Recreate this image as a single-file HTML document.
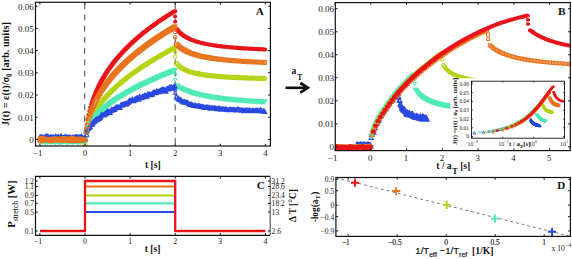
<!DOCTYPE html>
<html><head><meta charset="utf-8"><style>html,body{margin:0;padding:0;background:#fff;}svg{display:block;}</style></head><body>
<svg width="572" height="259" viewBox="0 0 572 259">
<rect width="572" height="259" fill="#fff"/>
<clipPath id="cA"><rect x="35.5" y="2.3" width="234.9" height="143.7"/></clipPath>
<g clip-path="url(#cA)">
<path d="M84.7 2.4V146M175.2 2.4V146" stroke="#444" stroke-width="1" stroke-dasharray="6 5.25" stroke-dashoffset="-0.7"/>
<path d="M39.3 140.84h1.2M39.75 140.09h1.2M40.2 139.9h1.2M40.65 138.81h1.2M41.1 139.69h1.2M41.55 139.65h1.2M42.01 139.8h1.2M42.46 139.5h1.2M42.91 139.82h1.2M43.36 139.58h1.2M43.81 139.11h1.2M44.26 140.33h1.2M44.71 140.33h1.2M45.16 140.79h1.2M45.61 139.87h1.2M46.07 139.62h1.2M46.52 139.54h1.2M46.97 138.99h1.2M47.42 140.39h1.2M47.87 139.23h1.2M48.32 139.19h1.2M48.77 139.73h1.2M49.22 140.67h1.2M49.67 139.98h1.2M50.12 139.28h1.2M50.58 139.45h1.2M51.03 140.19h1.2M51.48 139.75h1.2M51.93 139.42h1.2M52.38 139.72h1.2M52.83 140.26h1.2M53.28 140.94h1.2M53.73 139.15h1.2M54.18 139.5h1.2M54.63 139.4h1.2M55.09 138.5h1.2M55.54 139.33h1.2M55.99 139.28h1.2M56.44 140.47h1.2M56.89 139.77h1.2M57.34 138.94h1.2M57.79 140.2h1.2M58.24 139.65h1.2M58.69 138.88h1.2M59.14 139.51h1.2M59.6 139.52h1.2M60.05 139.36h1.2M60.5 139.86h1.2M60.95 138.6h1.2M61.4 139.7h1.2M61.85 140.41h1.2M62.3 140.32h1.2M62.75 140.46h1.2M63.2 140.47h1.2M63.65 140.67h1.2M64.11 139.22h1.2M64.56 140.31h1.2M65.01 138.81h1.2M65.46 139.51h1.2M65.91 138.78h1.2M66.36 140.43h1.2M66.81 140.58h1.2M67.26 139.73h1.2M67.71 140.83h1.2M68.16 139.47h1.2M68.62 139.93h1.2M69.07 139.93h1.2M69.52 139.25h1.2M69.97 140.09h1.2M70.42 140.92h1.2M70.87 139.28h1.2M71.32 140.34h1.2M71.77 139.76h1.2M72.22 140.83h1.2M72.67 140.11h1.2M73.13 140.22h1.2M73.58 140.2h1.2M74.03 139.98h1.2M74.48 139.07h1.2M74.93 140.62h1.2M75.38 139.08h1.2M75.83 139.98h1.2M76.28 140.18h1.2M76.73 139.38h1.2M77.18 139.92h1.2M77.64 140.49h1.2M78.09 139.83h1.2M78.54 139.35h1.2M78.99 138.23h1.2M79.44 139.3h1.2M79.89 139.52h1.2M80.34 139.56h1.2M80.79 139.31h1.2M81.24 140.05h1.2M81.69 139.53h1.2M82.15 139.78h1.2M82.6 140.22h1.2M83.05 139.37h1.2M83.5 139.68h1.2M83.95 141.04h1.2M84.4 169.87h1.2M85.75 132.08h1.2M86.66 124.86h1.2M87.56 119.37h1.2M88.46 114.84h1.2M89.36 110.93h1.2M90.26 107.47h1.2M91.17 104.34h1.2M92.07 101.47h1.2M92.97 98.82h1.2M93.87 96.35h1.2M94.77 94.02h1.2M95.68 91.83h1.2M96.58 89.75h1.2M97.48 87.76h1.2M98.38 85.87h1.2M99.28 84.06h1.2M100.19 82.31h1.2M101.09 80.63h1.2M101.99 79.01h1.2M102.89 77.44h1.2M103.79 75.92h1.2M104.7 74.45h1.2M105.6 73.02h1.2M106.5 71.63h1.2M107.4 70.28h1.2M108.3 68.96h1.2M109.21 67.67h1.2M110.11 66.42h1.2M111.01 65.19h1.2M111.91 63.99h1.2M112.81 62.82h1.2M113.72 61.67h1.2M114.62 60.54h1.2M115.52 59.43h1.2M116.42 58.35h1.2M117.32 57.28h1.2M118.23 56.24h1.2M119.13 55.21h1.2M120.03 54.2h1.2M120.93 53.21h1.2M121.83 52.23h1.2M122.74 51.27h1.2M123.64 50.32h1.2M124.54 49.39h1.2M125.44 48.47h1.2M126.34 47.56h1.2M127.25 46.67h1.2M128.15 45.79h1.2M129.05 44.92h1.2M129.95 44.06h1.2M130.85 43.22h1.2M131.76 42.38h1.2M132.66 41.55h1.2M133.56 40.74h1.2M134.46 39.93h1.2M135.36 39.14h1.2M136.27 38.35h1.2M137.17 37.57h1.2M138.07 36.8h1.2M138.97 36.04h1.2M139.87 35.29h1.2M140.78 34.55h1.2M141.68 33.81h1.2M142.58 33.08h1.2M143.48 32.36h1.2M144.38 31.65h1.2M145.29 30.94h1.2M146.19 30.24h1.2M147.09 29.54h1.2M147.99 28.86h1.2M148.89 28.18h1.2M149.8 27.5h1.2M150.7 26.83h1.2M151.6 26.17h1.2M152.5 25.51h1.2M153.4 24.86h1.2M154.31 24.22h1.2M155.21 23.58h1.2M156.11 22.94h1.2M157.01 22.31h1.2M157.91 21.69h1.2M158.82 21.07h1.2M159.72 20.45h1.2M160.62 19.84h1.2M161.52 19.24h1.2M162.42 18.64h1.2M163.33 18.04h1.2M164.23 17.45h1.2M165.13 16.87h1.2M166.03 16.28h1.2M166.93 15.7h1.2M167.84 15.13h1.2M168.74 14.56h1.2M169.64 13.99h1.2M170.54 13.43h1.2M171.44 12.87h1.2M172.35 12.32h1.2M173.25 11.77h1.2M174.15 11.22h1.2M175.95 29.06h1.2M177.31 30.65h1.2M178.66 32.05h1.2M180.01 33.3h1.2M181.36 34.41h1.2M182.72 35.4h1.2M184.07 36.3h1.2M185.42 37.12h1.2M186.78 37.87h1.2M188.13 38.55h1.2M189.48 39.18h1.2M190.84 39.76h1.2M192.19 40.29h1.2M193.54 40.79h1.2M194.89 41.25h1.2M196.25 41.68h1.2M197.6 42.09h1.2M198.95 42.46h1.2M200.31 42.82h1.2M201.66 43.15h1.2M203.01 43.47h1.2M204.37 43.76h1.2M205.72 44.04h1.2M207.07 44.31h1.2M208.42 44.56h1.2M209.78 44.8h1.2M211.13 45.03h1.2M212.48 45.24h1.2M213.84 45.45h1.2M215.19 45.65h1.2M216.54 45.84h1.2M217.9 46.02h1.2M219.25 46.19h1.2M220.6 46.35h1.2M221.95 46.51h1.2M223.31 46.66h1.2M224.66 46.81h1.2M226.01 46.95h1.2M227.37 47.08h1.2M228.72 47.21h1.2M230.07 47.34h1.2M231.43 47.46h1.2M232.78 47.58h1.2M234.13 47.69h1.2M235.48 47.8h1.2M236.84 47.9h1.2M238.19 48h1.2M239.54 48.1h1.2M240.9 48.2h1.2M242.25 48.29h1.2M243.6 48.38h1.2M244.96 48.46h1.2M246.31 48.55h1.2M247.66 48.63h1.2M249.01 48.71h1.2M250.37 48.78h1.2M251.72 48.86h1.2M253.07 48.93h1.2M254.43 49h1.2M255.78 49.07h1.2M257.13 49.14h1.2M258.49 49.2h1.2M259.84 49.27h1.2M261.19 49.33h1.2M262.54 49.39h1.2M263.9 49.45h1.2" stroke="#e8141a" stroke-width="4.08" stroke-linecap="round" fill="none"/>
<path d="M174.7 16.38h1M174.7 21.81h1" stroke="#e8141a" stroke-width="3.4" stroke-linecap="round" fill="none"/>
<path d="M37.86 140.55a2.04 2.04 0 1 0 4.08 0a2.04 2.04 0 1 0 -4.08 0M38.31 139.35a2.04 2.04 0 1 0 4.08 0a2.04 2.04 0 1 0 -4.08 0M38.76 140.02a2.04 2.04 0 1 0 4.08 0a2.04 2.04 0 1 0 -4.08 0M39.21 140.38a2.04 2.04 0 1 0 4.08 0a2.04 2.04 0 1 0 -4.08 0M39.66 140.75a2.04 2.04 0 1 0 4.08 0a2.04 2.04 0 1 0 -4.08 0M40.12 140.15a2.04 2.04 0 1 0 4.08 0a2.04 2.04 0 1 0 -4.08 0M40.57 139.77a2.04 2.04 0 1 0 4.08 0a2.04 2.04 0 1 0 -4.08 0M41.02 139.66a2.04 2.04 0 1 0 4.08 0a2.04 2.04 0 1 0 -4.08 0M41.47 140.42a2.04 2.04 0 1 0 4.08 0a2.04 2.04 0 1 0 -4.08 0M41.92 140.24a2.04 2.04 0 1 0 4.08 0a2.04 2.04 0 1 0 -4.08 0M42.37 139.78a2.04 2.04 0 1 0 4.08 0a2.04 2.04 0 1 0 -4.08 0M42.82 139.96a2.04 2.04 0 1 0 4.08 0a2.04 2.04 0 1 0 -4.08 0M43.27 139.84a2.04 2.04 0 1 0 4.08 0a2.04 2.04 0 1 0 -4.08 0M43.72 140.47a2.04 2.04 0 1 0 4.08 0a2.04 2.04 0 1 0 -4.08 0M44.17 139.68a2.04 2.04 0 1 0 4.08 0a2.04 2.04 0 1 0 -4.08 0M44.63 140.34a2.04 2.04 0 1 0 4.08 0a2.04 2.04 0 1 0 -4.08 0M45.08 140.54a2.04 2.04 0 1 0 4.08 0a2.04 2.04 0 1 0 -4.08 0M45.53 140.34a2.04 2.04 0 1 0 4.08 0a2.04 2.04 0 1 0 -4.08 0M45.98 139.6a2.04 2.04 0 1 0 4.08 0a2.04 2.04 0 1 0 -4.08 0M46.43 140.81a2.04 2.04 0 1 0 4.08 0a2.04 2.04 0 1 0 -4.08 0M46.88 139.69a2.04 2.04 0 1 0 4.08 0a2.04 2.04 0 1 0 -4.08 0M47.33 140.3a2.04 2.04 0 1 0 4.08 0a2.04 2.04 0 1 0 -4.08 0M47.78 139.65a2.04 2.04 0 1 0 4.08 0a2.04 2.04 0 1 0 -4.08 0M48.23 139.1a2.04 2.04 0 1 0 4.08 0a2.04 2.04 0 1 0 -4.08 0M48.68 140.19a2.04 2.04 0 1 0 4.08 0a2.04 2.04 0 1 0 -4.08 0M49.14 140.23a2.04 2.04 0 1 0 4.08 0a2.04 2.04 0 1 0 -4.08 0M49.59 140.02a2.04 2.04 0 1 0 4.08 0a2.04 2.04 0 1 0 -4.08 0M50.04 140.22a2.04 2.04 0 1 0 4.08 0a2.04 2.04 0 1 0 -4.08 0M50.49 139.71a2.04 2.04 0 1 0 4.08 0a2.04 2.04 0 1 0 -4.08 0M50.94 139.66a2.04 2.04 0 1 0 4.08 0a2.04 2.04 0 1 0 -4.08 0M51.39 139.97a2.04 2.04 0 1 0 4.08 0a2.04 2.04 0 1 0 -4.08 0M51.84 141.13a2.04 2.04 0 1 0 4.08 0a2.04 2.04 0 1 0 -4.08 0M52.29 140.52a2.04 2.04 0 1 0 4.08 0a2.04 2.04 0 1 0 -4.08 0M52.74 139.78a2.04 2.04 0 1 0 4.08 0a2.04 2.04 0 1 0 -4.08 0M53.19 140.38a2.04 2.04 0 1 0 4.08 0a2.04 2.04 0 1 0 -4.08 0M53.65 139.8a2.04 2.04 0 1 0 4.08 0a2.04 2.04 0 1 0 -4.08 0M54.1 139.81a2.04 2.04 0 1 0 4.08 0a2.04 2.04 0 1 0 -4.08 0M54.55 140.54a2.04 2.04 0 1 0 4.08 0a2.04 2.04 0 1 0 -4.08 0M55 139.77a2.04 2.04 0 1 0 4.08 0a2.04 2.04 0 1 0 -4.08 0M55.45 139.14a2.04 2.04 0 1 0 4.08 0a2.04 2.04 0 1 0 -4.08 0M55.9 139.56a2.04 2.04 0 1 0 4.08 0a2.04 2.04 0 1 0 -4.08 0M56.35 140.12a2.04 2.04 0 1 0 4.08 0a2.04 2.04 0 1 0 -4.08 0M56.8 140.14a2.04 2.04 0 1 0 4.08 0a2.04 2.04 0 1 0 -4.08 0M57.25 140.76a2.04 2.04 0 1 0 4.08 0a2.04 2.04 0 1 0 -4.08 0M57.7 139.67a2.04 2.04 0 1 0 4.08 0a2.04 2.04 0 1 0 -4.08 0M58.16 140.47a2.04 2.04 0 1 0 4.08 0a2.04 2.04 0 1 0 -4.08 0M58.61 140.3a2.04 2.04 0 1 0 4.08 0a2.04 2.04 0 1 0 -4.08 0M59.06 139.98a2.04 2.04 0 1 0 4.08 0a2.04 2.04 0 1 0 -4.08 0M59.51 140.53a2.04 2.04 0 1 0 4.08 0a2.04 2.04 0 1 0 -4.08 0M59.96 140.34a2.04 2.04 0 1 0 4.08 0a2.04 2.04 0 1 0 -4.08 0M60.41 139.59a2.04 2.04 0 1 0 4.08 0a2.04 2.04 0 1 0 -4.08 0M60.86 140.66a2.04 2.04 0 1 0 4.08 0a2.04 2.04 0 1 0 -4.08 0M61.31 139.39a2.04 2.04 0 1 0 4.08 0a2.04 2.04 0 1 0 -4.08 0M61.76 140.1a2.04 2.04 0 1 0 4.08 0a2.04 2.04 0 1 0 -4.08 0M62.21 140.07a2.04 2.04 0 1 0 4.08 0a2.04 2.04 0 1 0 -4.08 0M62.67 140.3a2.04 2.04 0 1 0 4.08 0a2.04 2.04 0 1 0 -4.08 0M63.12 139.66a2.04 2.04 0 1 0 4.08 0a2.04 2.04 0 1 0 -4.08 0M63.57 140.05a2.04 2.04 0 1 0 4.08 0a2.04 2.04 0 1 0 -4.08 0M64.02 139.99a2.04 2.04 0 1 0 4.08 0a2.04 2.04 0 1 0 -4.08 0M64.47 140.62a2.04 2.04 0 1 0 4.08 0a2.04 2.04 0 1 0 -4.08 0M64.92 139.62a2.04 2.04 0 1 0 4.08 0a2.04 2.04 0 1 0 -4.08 0M65.37 140.11a2.04 2.04 0 1 0 4.08 0a2.04 2.04 0 1 0 -4.08 0M65.82 139.92a2.04 2.04 0 1 0 4.08 0a2.04 2.04 0 1 0 -4.08 0M66.27 139.35a2.04 2.04 0 1 0 4.08 0a2.04 2.04 0 1 0 -4.08 0M66.72 141.55a2.04 2.04 0 1 0 4.08 0a2.04 2.04 0 1 0 -4.08 0M67.18 140.03a2.04 2.04 0 1 0 4.08 0a2.04 2.04 0 1 0 -4.08 0M67.63 139.24a2.04 2.04 0 1 0 4.08 0a2.04 2.04 0 1 0 -4.08 0M68.08 140.85a2.04 2.04 0 1 0 4.08 0a2.04 2.04 0 1 0 -4.08 0M68.53 139.47a2.04 2.04 0 1 0 4.08 0a2.04 2.04 0 1 0 -4.08 0M68.98 140.27a2.04 2.04 0 1 0 4.08 0a2.04 2.04 0 1 0 -4.08 0M69.43 140.54a2.04 2.04 0 1 0 4.08 0a2.04 2.04 0 1 0 -4.08 0M69.88 139.71a2.04 2.04 0 1 0 4.08 0a2.04 2.04 0 1 0 -4.08 0M70.33 139.83a2.04 2.04 0 1 0 4.08 0a2.04 2.04 0 1 0 -4.08 0M70.78 139.77a2.04 2.04 0 1 0 4.08 0a2.04 2.04 0 1 0 -4.08 0M71.23 139.99a2.04 2.04 0 1 0 4.08 0a2.04 2.04 0 1 0 -4.08 0M71.69 139.17a2.04 2.04 0 1 0 4.08 0a2.04 2.04 0 1 0 -4.08 0M72.14 139.38a2.04 2.04 0 1 0 4.08 0a2.04 2.04 0 1 0 -4.08 0M72.59 139.99a2.04 2.04 0 1 0 4.08 0a2.04 2.04 0 1 0 -4.08 0M73.04 140.64a2.04 2.04 0 1 0 4.08 0a2.04 2.04 0 1 0 -4.08 0M73.49 140.42a2.04 2.04 0 1 0 4.08 0a2.04 2.04 0 1 0 -4.08 0M73.94 141.03a2.04 2.04 0 1 0 4.08 0a2.04 2.04 0 1 0 -4.08 0M74.39 140.45a2.04 2.04 0 1 0 4.08 0a2.04 2.04 0 1 0 -4.08 0M74.84 139.78a2.04 2.04 0 1 0 4.08 0a2.04 2.04 0 1 0 -4.08 0M75.29 140a2.04 2.04 0 1 0 4.08 0a2.04 2.04 0 1 0 -4.08 0M75.74 138.94a2.04 2.04 0 1 0 4.08 0a2.04 2.04 0 1 0 -4.08 0M76.2 139.53a2.04 2.04 0 1 0 4.08 0a2.04 2.04 0 1 0 -4.08 0M76.65 139.5a2.04 2.04 0 1 0 4.08 0a2.04 2.04 0 1 0 -4.08 0M77.1 140.22a2.04 2.04 0 1 0 4.08 0a2.04 2.04 0 1 0 -4.08 0M77.55 140.43a2.04 2.04 0 1 0 4.08 0a2.04 2.04 0 1 0 -4.08 0M78 139.75a2.04 2.04 0 1 0 4.08 0a2.04 2.04 0 1 0 -4.08 0M78.45 139.74a2.04 2.04 0 1 0 4.08 0a2.04 2.04 0 1 0 -4.08 0M78.9 139.21a2.04 2.04 0 1 0 4.08 0a2.04 2.04 0 1 0 -4.08 0M79.35 140a2.04 2.04 0 1 0 4.08 0a2.04 2.04 0 1 0 -4.08 0M79.8 140.2a2.04 2.04 0 1 0 4.08 0a2.04 2.04 0 1 0 -4.08 0M80.25 140.31a2.04 2.04 0 1 0 4.08 0a2.04 2.04 0 1 0 -4.08 0M80.71 139.63a2.04 2.04 0 1 0 4.08 0a2.04 2.04 0 1 0 -4.08 0M81.16 141.17a2.04 2.04 0 1 0 4.08 0a2.04 2.04 0 1 0 -4.08 0M81.61 140.73a2.04 2.04 0 1 0 4.08 0a2.04 2.04 0 1 0 -4.08 0M82.06 140.01a2.04 2.04 0 1 0 4.08 0a2.04 2.04 0 1 0 -4.08 0M82.51 139.77a2.04 2.04 0 1 0 4.08 0a2.04 2.04 0 1 0 -4.08 0M82.96 144.04a2.04 2.04 0 1 0 4.08 0a2.04 2.04 0 1 0 -4.08 0M84.31 131.81a2.04 2.04 0 1 0 4.08 0a2.04 2.04 0 1 0 -4.08 0M85.21 128.31a2.04 2.04 0 1 0 4.08 0a2.04 2.04 0 1 0 -4.08 0M86.12 125.48a2.04 2.04 0 1 0 4.08 0a2.04 2.04 0 1 0 -4.08 0M87.02 123.04a2.04 2.04 0 1 0 4.08 0a2.04 2.04 0 1 0 -4.08 0M87.92 120.86a2.04 2.04 0 1 0 4.08 0a2.04 2.04 0 1 0 -4.08 0M88.82 118.87a2.04 2.04 0 1 0 4.08 0a2.04 2.04 0 1 0 -4.08 0M89.72 117.04a2.04 2.04 0 1 0 4.08 0a2.04 2.04 0 1 0 -4.08 0M90.63 115.32a2.04 2.04 0 1 0 4.08 0a2.04 2.04 0 1 0 -4.08 0M91.53 113.71a2.04 2.04 0 1 0 4.08 0a2.04 2.04 0 1 0 -4.08 0M92.43 112.17a2.04 2.04 0 1 0 4.08 0a2.04 2.04 0 1 0 -4.08 0M93.33 110.72a2.04 2.04 0 1 0 4.08 0a2.04 2.04 0 1 0 -4.08 0M94.23 109.32a2.04 2.04 0 1 0 4.08 0a2.04 2.04 0 1 0 -4.08 0M95.14 107.98a2.04 2.04 0 1 0 4.08 0a2.04 2.04 0 1 0 -4.08 0M96.04 106.69a2.04 2.04 0 1 0 4.08 0a2.04 2.04 0 1 0 -4.08 0M96.94 105.44a2.04 2.04 0 1 0 4.08 0a2.04 2.04 0 1 0 -4.08 0M97.84 104.24a2.04 2.04 0 1 0 4.08 0a2.04 2.04 0 1 0 -4.08 0M98.74 103.07a2.04 2.04 0 1 0 4.08 0a2.04 2.04 0 1 0 -4.08 0M99.65 101.93a2.04 2.04 0 1 0 4.08 0a2.04 2.04 0 1 0 -4.08 0M100.55 100.83a2.04 2.04 0 1 0 4.08 0a2.04 2.04 0 1 0 -4.08 0M101.45 99.75a2.04 2.04 0 1 0 4.08 0a2.04 2.04 0 1 0 -4.08 0M102.35 98.7a2.04 2.04 0 1 0 4.08 0a2.04 2.04 0 1 0 -4.08 0M103.25 97.68a2.04 2.04 0 1 0 4.08 0a2.04 2.04 0 1 0 -4.08 0M104.16 96.67a2.04 2.04 0 1 0 4.08 0a2.04 2.04 0 1 0 -4.08 0M105.06 95.69a2.04 2.04 0 1 0 4.08 0a2.04 2.04 0 1 0 -4.08 0M105.96 94.73a2.04 2.04 0 1 0 4.08 0a2.04 2.04 0 1 0 -4.08 0M106.86 93.79a2.04 2.04 0 1 0 4.08 0a2.04 2.04 0 1 0 -4.08 0M107.77 92.86a2.04 2.04 0 1 0 4.08 0a2.04 2.04 0 1 0 -4.08 0M108.67 91.96a2.04 2.04 0 1 0 4.08 0a2.04 2.04 0 1 0 -4.08 0M109.57 91.07a2.04 2.04 0 1 0 4.08 0a2.04 2.04 0 1 0 -4.08 0M110.47 90.19a2.04 2.04 0 1 0 4.08 0a2.04 2.04 0 1 0 -4.08 0M111.37 89.33a2.04 2.04 0 1 0 4.08 0a2.04 2.04 0 1 0 -4.08 0M112.28 88.48a2.04 2.04 0 1 0 4.08 0a2.04 2.04 0 1 0 -4.08 0M113.18 87.65a2.04 2.04 0 1 0 4.08 0a2.04 2.04 0 1 0 -4.08 0M114.08 86.82a2.04 2.04 0 1 0 4.08 0a2.04 2.04 0 1 0 -4.08 0M114.98 86.01a2.04 2.04 0 1 0 4.08 0a2.04 2.04 0 1 0 -4.08 0M115.88 85.22a2.04 2.04 0 1 0 4.08 0a2.04 2.04 0 1 0 -4.08 0M116.79 84.43a2.04 2.04 0 1 0 4.08 0a2.04 2.04 0 1 0 -4.08 0M117.69 83.65a2.04 2.04 0 1 0 4.08 0a2.04 2.04 0 1 0 -4.08 0M118.59 82.88a2.04 2.04 0 1 0 4.08 0a2.04 2.04 0 1 0 -4.08 0M119.49 82.13a2.04 2.04 0 1 0 4.08 0a2.04 2.04 0 1 0 -4.08 0M120.39 81.38a2.04 2.04 0 1 0 4.08 0a2.04 2.04 0 1 0 -4.08 0M121.3 80.64a2.04 2.04 0 1 0 4.08 0a2.04 2.04 0 1 0 -4.08 0M122.2 79.91a2.04 2.04 0 1 0 4.08 0a2.04 2.04 0 1 0 -4.08 0M123.1 79.19a2.04 2.04 0 1 0 4.08 0a2.04 2.04 0 1 0 -4.08 0M124 78.48a2.04 2.04 0 1 0 4.08 0a2.04 2.04 0 1 0 -4.08 0M124.9 77.77a2.04 2.04 0 1 0 4.08 0a2.04 2.04 0 1 0 -4.08 0M125.8 77.08a2.04 2.04 0 1 0 4.08 0a2.04 2.04 0 1 0 -4.08 0M126.71 76.39a2.04 2.04 0 1 0 4.08 0a2.04 2.04 0 1 0 -4.08 0M127.61 75.7a2.04 2.04 0 1 0 4.08 0a2.04 2.04 0 1 0 -4.08 0M128.51 75.03a2.04 2.04 0 1 0 4.08 0a2.04 2.04 0 1 0 -4.08 0M129.41 74.36a2.04 2.04 0 1 0 4.08 0a2.04 2.04 0 1 0 -4.08 0M130.32 73.7a2.04 2.04 0 1 0 4.08 0a2.04 2.04 0 1 0 -4.08 0M131.22 73.04a2.04 2.04 0 1 0 4.08 0a2.04 2.04 0 1 0 -4.08 0M132.12 72.39a2.04 2.04 0 1 0 4.08 0a2.04 2.04 0 1 0 -4.08 0M133.02 71.75a2.04 2.04 0 1 0 4.08 0a2.04 2.04 0 1 0 -4.08 0M133.92 71.11a2.04 2.04 0 1 0 4.08 0a2.04 2.04 0 1 0 -4.08 0M134.83 70.48a2.04 2.04 0 1 0 4.08 0a2.04 2.04 0 1 0 -4.08 0M135.73 69.85a2.04 2.04 0 1 0 4.08 0a2.04 2.04 0 1 0 -4.08 0M136.63 69.23a2.04 2.04 0 1 0 4.08 0a2.04 2.04 0 1 0 -4.08 0M137.53 68.61a2.04 2.04 0 1 0 4.08 0a2.04 2.04 0 1 0 -4.08 0M138.43 68a2.04 2.04 0 1 0 4.08 0a2.04 2.04 0 1 0 -4.08 0M139.34 67.39a2.04 2.04 0 1 0 4.08 0a2.04 2.04 0 1 0 -4.08 0M140.24 66.79a2.04 2.04 0 1 0 4.08 0a2.04 2.04 0 1 0 -4.08 0M141.14 66.2a2.04 2.04 0 1 0 4.08 0a2.04 2.04 0 1 0 -4.08 0M142.04 65.61a2.04 2.04 0 1 0 4.08 0a2.04 2.04 0 1 0 -4.08 0M142.94 65.02a2.04 2.04 0 1 0 4.08 0a2.04 2.04 0 1 0 -4.08 0M143.85 64.44a2.04 2.04 0 1 0 4.08 0a2.04 2.04 0 1 0 -4.08 0M144.75 63.86a2.04 2.04 0 1 0 4.08 0a2.04 2.04 0 1 0 -4.08 0M145.65 63.28a2.04 2.04 0 1 0 4.08 0a2.04 2.04 0 1 0 -4.08 0M146.55 62.72a2.04 2.04 0 1 0 4.08 0a2.04 2.04 0 1 0 -4.08 0M147.45 62.15a2.04 2.04 0 1 0 4.08 0a2.04 2.04 0 1 0 -4.08 0M148.36 61.59a2.04 2.04 0 1 0 4.08 0a2.04 2.04 0 1 0 -4.08 0M149.26 61.03a2.04 2.04 0 1 0 4.08 0a2.04 2.04 0 1 0 -4.08 0M150.16 60.48a2.04 2.04 0 1 0 4.08 0a2.04 2.04 0 1 0 -4.08 0M151.06 59.93a2.04 2.04 0 1 0 4.08 0a2.04 2.04 0 1 0 -4.08 0M151.96 59.38a2.04 2.04 0 1 0 4.08 0a2.04 2.04 0 1 0 -4.08 0M152.87 58.84a2.04 2.04 0 1 0 4.08 0a2.04 2.04 0 1 0 -4.08 0M153.77 58.3a2.04 2.04 0 1 0 4.08 0a2.04 2.04 0 1 0 -4.08 0M154.67 57.76a2.04 2.04 0 1 0 4.08 0a2.04 2.04 0 1 0 -4.08 0M155.57 57.23a2.04 2.04 0 1 0 4.08 0a2.04 2.04 0 1 0 -4.08 0M156.47 56.7a2.04 2.04 0 1 0 4.08 0a2.04 2.04 0 1 0 -4.08 0M157.38 56.18a2.04 2.04 0 1 0 4.08 0a2.04 2.04 0 1 0 -4.08 0M158.28 55.65a2.04 2.04 0 1 0 4.08 0a2.04 2.04 0 1 0 -4.08 0M159.18 55.13a2.04 2.04 0 1 0 4.08 0a2.04 2.04 0 1 0 -4.08 0M160.08 54.62a2.04 2.04 0 1 0 4.08 0a2.04 2.04 0 1 0 -4.08 0M160.98 54.11a2.04 2.04 0 1 0 4.08 0a2.04 2.04 0 1 0 -4.08 0M161.89 53.6a2.04 2.04 0 1 0 4.08 0a2.04 2.04 0 1 0 -4.08 0M162.79 53.09a2.04 2.04 0 1 0 4.08 0a2.04 2.04 0 1 0 -4.08 0M163.69 52.58a2.04 2.04 0 1 0 4.08 0a2.04 2.04 0 1 0 -4.08 0M164.59 52.08a2.04 2.04 0 1 0 4.08 0a2.04 2.04 0 1 0 -4.08 0M165.49 51.58a2.04 2.04 0 1 0 4.08 0a2.04 2.04 0 1 0 -4.08 0M166.4 51.09a2.04 2.04 0 1 0 4.08 0a2.04 2.04 0 1 0 -4.08 0M167.3 50.6a2.04 2.04 0 1 0 4.08 0a2.04 2.04 0 1 0 -4.08 0M168.2 50.1a2.04 2.04 0 1 0 4.08 0a2.04 2.04 0 1 0 -4.08 0M169.1 49.62a2.04 2.04 0 1 0 4.08 0a2.04 2.04 0 1 0 -4.08 0M170 49.13a2.04 2.04 0 1 0 4.08 0a2.04 2.04 0 1 0 -4.08 0M170.91 48.65a2.04 2.04 0 1 0 4.08 0a2.04 2.04 0 1 0 -4.08 0M171.81 48.17a2.04 2.04 0 1 0 4.08 0a2.04 2.04 0 1 0 -4.08 0M172.71 47.69a2.04 2.04 0 1 0 4.08 0a2.04 2.04 0 1 0 -4.08 0M174.51 63a2.04 2.04 0 1 0 4.08 0a2.04 2.04 0 1 0 -4.08 0M175.87 64.57a2.04 2.04 0 1 0 4.08 0a2.04 2.04 0 1 0 -4.08 0M177.22 65.89a2.04 2.04 0 1 0 4.08 0a2.04 2.04 0 1 0 -4.08 0M178.57 67.01a2.04 2.04 0 1 0 4.08 0a2.04 2.04 0 1 0 -4.08 0M179.92 67.98a2.04 2.04 0 1 0 4.08 0a2.04 2.04 0 1 0 -4.08 0M181.28 68.82a2.04 2.04 0 1 0 4.08 0a2.04 2.04 0 1 0 -4.08 0M182.63 69.56a2.04 2.04 0 1 0 4.08 0a2.04 2.04 0 1 0 -4.08 0M183.98 70.21a2.04 2.04 0 1 0 4.08 0a2.04 2.04 0 1 0 -4.08 0M185.34 70.79a2.04 2.04 0 1 0 4.08 0a2.04 2.04 0 1 0 -4.08 0M186.69 71.32a2.04 2.04 0 1 0 4.08 0a2.04 2.04 0 1 0 -4.08 0M188.04 71.79a2.04 2.04 0 1 0 4.08 0a2.04 2.04 0 1 0 -4.08 0M189.4 72.22a2.04 2.04 0 1 0 4.08 0a2.04 2.04 0 1 0 -4.08 0M190.75 72.61a2.04 2.04 0 1 0 4.08 0a2.04 2.04 0 1 0 -4.08 0M192.1 72.96a2.04 2.04 0 1 0 4.08 0a2.04 2.04 0 1 0 -4.08 0M193.45 73.29a2.04 2.04 0 1 0 4.08 0a2.04 2.04 0 1 0 -4.08 0M194.81 73.59a2.04 2.04 0 1 0 4.08 0a2.04 2.04 0 1 0 -4.08 0M196.16 73.87a2.04 2.04 0 1 0 4.08 0a2.04 2.04 0 1 0 -4.08 0M197.51 74.13a2.04 2.04 0 1 0 4.08 0a2.04 2.04 0 1 0 -4.08 0M198.87 74.37a2.04 2.04 0 1 0 4.08 0a2.04 2.04 0 1 0 -4.08 0M200.22 74.6a2.04 2.04 0 1 0 4.08 0a2.04 2.04 0 1 0 -4.08 0M201.57 74.8a2.04 2.04 0 1 0 4.08 0a2.04 2.04 0 1 0 -4.08 0M202.93 75a2.04 2.04 0 1 0 4.08 0a2.04 2.04 0 1 0 -4.08 0M204.28 75.18a2.04 2.04 0 1 0 4.08 0a2.04 2.04 0 1 0 -4.08 0M205.63 75.36a2.04 2.04 0 1 0 4.08 0a2.04 2.04 0 1 0 -4.08 0M206.98 75.52a2.04 2.04 0 1 0 4.08 0a2.04 2.04 0 1 0 -4.08 0M208.34 75.67a2.04 2.04 0 1 0 4.08 0a2.04 2.04 0 1 0 -4.08 0M209.69 75.82a2.04 2.04 0 1 0 4.08 0a2.04 2.04 0 1 0 -4.08 0M211.04 75.96a2.04 2.04 0 1 0 4.08 0a2.04 2.04 0 1 0 -4.08 0M212.4 76.09a2.04 2.04 0 1 0 4.08 0a2.04 2.04 0 1 0 -4.08 0M213.75 76.21a2.04 2.04 0 1 0 4.08 0a2.04 2.04 0 1 0 -4.08 0M215.1 76.33a2.04 2.04 0 1 0 4.08 0a2.04 2.04 0 1 0 -4.08 0M216.46 76.44a2.04 2.04 0 1 0 4.08 0a2.04 2.04 0 1 0 -4.08 0M217.81 76.55a2.04 2.04 0 1 0 4.08 0a2.04 2.04 0 1 0 -4.08 0M219.16 76.65a2.04 2.04 0 1 0 4.08 0a2.04 2.04 0 1 0 -4.08 0M220.51 76.75a2.04 2.04 0 1 0 4.08 0a2.04 2.04 0 1 0 -4.08 0M221.87 76.84a2.04 2.04 0 1 0 4.08 0a2.04 2.04 0 1 0 -4.08 0M223.22 76.93a2.04 2.04 0 1 0 4.08 0a2.04 2.04 0 1 0 -4.08 0M224.57 77.01a2.04 2.04 0 1 0 4.08 0a2.04 2.04 0 1 0 -4.08 0M225.93 77.09a2.04 2.04 0 1 0 4.08 0a2.04 2.04 0 1 0 -4.08 0M227.28 77.17a2.04 2.04 0 1 0 4.08 0a2.04 2.04 0 1 0 -4.08 0M228.63 77.25a2.04 2.04 0 1 0 4.08 0a2.04 2.04 0 1 0 -4.08 0M229.99 77.32a2.04 2.04 0 1 0 4.08 0a2.04 2.04 0 1 0 -4.08 0M231.34 77.39a2.04 2.04 0 1 0 4.08 0a2.04 2.04 0 1 0 -4.08 0M232.69 77.46a2.04 2.04 0 1 0 4.08 0a2.04 2.04 0 1 0 -4.08 0M234.04 77.52a2.04 2.04 0 1 0 4.08 0a2.04 2.04 0 1 0 -4.08 0M235.4 77.58a2.04 2.04 0 1 0 4.08 0a2.04 2.04 0 1 0 -4.08 0M236.75 77.64a2.04 2.04 0 1 0 4.08 0a2.04 2.04 0 1 0 -4.08 0M238.1 77.7a2.04 2.04 0 1 0 4.08 0a2.04 2.04 0 1 0 -4.08 0M239.46 77.76a2.04 2.04 0 1 0 4.08 0a2.04 2.04 0 1 0 -4.08 0M240.81 77.81a2.04 2.04 0 1 0 4.08 0a2.04 2.04 0 1 0 -4.08 0M242.16 77.86a2.04 2.04 0 1 0 4.08 0a2.04 2.04 0 1 0 -4.08 0M243.52 77.91a2.04 2.04 0 1 0 4.08 0a2.04 2.04 0 1 0 -4.08 0M244.87 77.96a2.04 2.04 0 1 0 4.08 0a2.04 2.04 0 1 0 -4.08 0M246.22 78.01a2.04 2.04 0 1 0 4.08 0a2.04 2.04 0 1 0 -4.08 0M247.57 78.06a2.04 2.04 0 1 0 4.08 0a2.04 2.04 0 1 0 -4.08 0M248.93 78.1a2.04 2.04 0 1 0 4.08 0a2.04 2.04 0 1 0 -4.08 0M250.28 78.14a2.04 2.04 0 1 0 4.08 0a2.04 2.04 0 1 0 -4.08 0M251.63 78.18a2.04 2.04 0 1 0 4.08 0a2.04 2.04 0 1 0 -4.08 0M252.99 78.23a2.04 2.04 0 1 0 4.08 0a2.04 2.04 0 1 0 -4.08 0M254.34 78.27a2.04 2.04 0 1 0 4.08 0a2.04 2.04 0 1 0 -4.08 0M255.69 78.3a2.04 2.04 0 1 0 4.08 0a2.04 2.04 0 1 0 -4.08 0M257.05 78.34a2.04 2.04 0 1 0 4.08 0a2.04 2.04 0 1 0 -4.08 0M258.4 78.38a2.04 2.04 0 1 0 4.08 0a2.04 2.04 0 1 0 -4.08 0M259.75 78.41a2.04 2.04 0 1 0 4.08 0a2.04 2.04 0 1 0 -4.08 0M261.1 78.45a2.04 2.04 0 1 0 4.08 0a2.04 2.04 0 1 0 -4.08 0M262.46 78.48a2.04 2.04 0 1 0 4.08 0a2.04 2.04 0 1 0 -4.08 0" stroke="#b2d414" stroke-width="1.1" fill="none"/>
<path d="M173.5 52a1.7 1.7 0 1 0 3.4 0a1.7 1.7 0 1 0 -3.4 0M173.5 56.55a1.7 1.7 0 1 0 3.4 0a1.7 1.7 0 1 0 -3.4 0" stroke="#b2d414" stroke-width="1.0" fill="none"/>
<path d="M84.93 135.94a1.87 1.87 0 1 0 3.74 0a1.87 1.87 0 1 0 -3.74 0" stroke="#b2d414" stroke-width="1.0" fill="none"/>
<path d="M37.62 138.73L42.18 138.73L39.9 142.83zM38.07 138.99L42.63 138.99L40.35 143.1zM38.52 138.9L43.08 138.9L40.8 143zM38.97 139.18L43.53 139.18L41.25 143.28zM39.42 139.33L43.98 139.33L41.7 143.44zM39.88 139.67L44.44 139.67L42.16 143.77zM40.33 139.54L44.89 139.54L42.61 143.65zM40.78 138.85L45.34 138.85L43.06 142.95zM41.23 139.12L45.79 139.12L43.51 143.23zM41.68 138.69L46.24 138.69L43.96 142.8zM42.13 138.58L46.69 138.58L44.41 142.69zM42.58 139.97L47.14 139.97L44.86 144.07zM43.03 138.65L47.59 138.65L45.31 142.76zM43.48 140.01L48.04 140.01L45.76 144.12zM43.93 138.71L48.49 138.71L46.21 142.82zM44.39 139.05L48.95 139.05L46.67 143.15zM44.84 139.51L49.4 139.51L47.12 143.62zM45.29 138.92L49.85 138.92L47.57 143.03zM45.74 139.13L50.3 139.13L48.02 143.23zM46.19 138.77L50.75 138.77L48.47 142.88zM46.64 138.64L51.2 138.64L48.92 142.75zM47.09 138.82L51.65 138.82L49.37 142.92zM47.54 138.55L52.1 138.55L49.82 142.65zM47.99 139.81L52.55 139.81L50.27 143.92zM48.44 138.81L53 138.81L50.72 142.92zM48.9 139.86L53.46 139.86L51.18 143.97zM49.35 137.42L53.91 137.42L51.63 141.52zM49.8 138.92L54.36 138.92L52.08 143.02zM50.25 139.22L54.81 139.22L52.53 143.32zM50.7 138.74L55.26 138.74L52.98 142.85zM51.15 139.52L55.71 139.52L53.43 143.62zM51.6 139.26L56.16 139.26L53.88 143.37zM52.05 138.76L56.61 138.76L54.33 142.86zM52.5 139.15L57.06 139.15L54.78 143.25zM52.95 140.47L57.51 140.47L55.23 144.57zM53.41 139.05L57.97 139.05L55.69 143.15zM53.86 139.07L58.42 139.07L56.14 143.18zM54.31 138.66L58.87 138.66L56.59 142.77zM54.76 138.98L59.32 138.98L57.04 143.09zM55.21 138.19L59.77 138.19L57.49 142.3zM55.66 138.8L60.22 138.8L57.94 142.9zM56.11 140.27L60.67 140.27L58.39 144.38zM56.56 139.5L61.12 139.5L58.84 143.6zM57.01 139.26L61.57 139.26L59.29 143.37zM57.46 139.52L62.02 139.52L59.74 143.62zM57.92 139.95L62.48 139.95L60.2 144.06zM58.37 139.24L62.93 139.24L60.65 143.34zM58.82 140.06L63.38 140.06L61.1 144.16zM59.27 139.5L63.83 139.5L61.55 143.61zM59.72 139L64.28 139L62 143.1zM60.17 139.86L64.73 139.86L62.45 143.97zM60.62 137.6L65.18 137.6L62.9 141.7zM61.07 138.59L65.63 138.59L63.35 142.69zM61.52 139.06L66.08 139.06L63.8 143.16zM61.97 138.4L66.53 138.4L64.25 142.51zM62.43 138.82L66.99 138.82L64.71 142.93zM62.88 138.55L67.44 138.55L65.16 142.66zM63.33 138.54L67.89 138.54L65.61 142.65zM63.78 140.41L68.34 140.41L66.06 144.52zM64.23 139.26L68.79 139.26L66.51 143.36zM64.68 138.88L69.24 138.88L66.96 142.98zM65.13 139.64L69.69 139.64L67.41 143.74zM65.58 138.78L70.14 138.78L67.86 142.88zM66.03 139.4L70.59 139.4L68.31 143.5zM66.48 139.1L71.04 139.1L68.76 143.21zM66.94 139.81L71.5 139.81L69.22 143.91zM67.39 138.12L71.95 138.12L69.67 142.22zM67.84 139.33L72.4 139.33L70.12 143.44zM68.29 138.98L72.85 138.98L70.57 143.08zM68.74 138.27L73.3 138.27L71.02 142.37zM69.19 139.5L73.75 139.5L71.47 143.6zM69.64 138.42L74.2 138.42L71.92 142.53zM70.09 139.81L74.65 139.81L72.37 143.91zM70.54 139.19L75.1 139.19L72.82 143.3zM70.99 139.29L75.55 139.29L73.27 143.4zM71.45 138.95L76.01 138.95L73.73 143.06zM71.9 139.41L76.46 139.41L74.18 143.51zM72.35 137.87L76.91 137.87L74.63 141.98zM72.8 138.95L77.36 138.95L75.08 143.05zM73.25 138.56L77.81 138.56L75.53 142.66zM73.7 139.06L78.26 139.06L75.98 143.17zM74.15 138.88L78.71 138.88L76.43 142.99zM74.6 139.25L79.16 139.25L76.88 143.35zM75.05 138.44L79.61 138.44L77.33 142.55zM75.5 139.93L80.06 139.93L77.78 144.03zM75.96 140.19L80.52 140.19L78.24 144.3zM76.41 138.79L80.97 138.79L78.69 142.9zM76.86 138.9L81.42 138.9L79.14 143zM77.31 139.07L81.87 139.07L79.59 143.17zM77.76 139.61L82.32 139.61L80.04 143.71zM78.21 139.96L82.77 139.96L80.49 144.06zM78.66 138.24L83.22 138.24L80.94 142.34zM79.11 138.57L83.67 138.57L81.39 142.67zM79.56 138.32L84.12 138.32L81.84 142.42zM80.01 138.29L84.57 138.29L82.29 142.39zM80.47 138L85.03 138L82.75 142.1zM80.92 139.11L85.48 139.11L83.2 143.21zM81.37 138.26L85.93 138.26L83.65 142.37zM81.82 139.74L86.38 139.74L84.1 143.85zM82.27 139.41L86.83 139.41L84.55 143.52zM82.72 138.36L87.28 138.36L85 142.46zM84.07 129.98L88.63 129.98L86.35 134.09zM84.97 127.51L89.53 127.51L87.25 131.62zM85.88 125.5L90.44 125.5L88.16 129.6zM86.78 123.75L91.34 123.75L89.06 127.86zM87.68 122.19L92.24 122.19L89.96 126.3zM88.58 120.77L93.14 120.77L90.86 124.87zM89.48 119.45L94.05 119.45L91.77 123.55zM90.39 118.21L94.95 118.21L92.67 122.32zM91.29 117.05L95.85 117.05L93.57 121.15zM92.19 115.94L96.75 115.94L94.47 120.04zM93.09 114.88L97.65 114.88L95.37 118.99zM94 113.87L98.56 113.87L96.28 117.98zM94.9 112.9L99.46 112.9L97.18 117zM95.8 111.96L100.36 111.96L98.08 116.07zM96.7 111.06L101.26 111.06L98.98 115.16zM97.6 110.18L102.16 110.18L99.88 114.28zM98.5 109.33L103.06 109.33L100.78 113.43zM99.41 108.5L103.97 108.5L101.69 112.6zM100.31 107.69L104.87 107.69L102.59 111.8zM101.21 106.91L105.77 106.91L103.49 111.01zM102.11 106.14L106.67 106.14L104.39 110.24zM103.02 105.39L107.58 105.39L105.3 109.49zM103.92 104.66L108.48 104.66L106.2 108.76zM104.82 103.94L109.38 103.94L107.1 108.04zM105.72 103.23L110.28 103.23L108 107.34zM106.62 102.54L111.18 102.54L108.9 106.65zM107.53 101.87L112.09 101.87L109.81 105.97zM108.43 101.2L112.99 101.2L110.71 105.31zM109.33 100.55L113.89 100.55L111.61 104.65zM110.23 99.9L114.79 99.9L112.51 104.01zM111.13 99.27L115.69 99.27L113.41 103.38zM112.04 98.65L116.6 98.65L114.32 102.75zM112.94 98.03L117.5 98.03L115.22 102.14zM113.84 97.43L118.4 97.43L116.12 101.53zM114.74 96.83L119.3 96.83L117.02 100.94zM115.64 96.25L120.2 96.25L117.92 100.35zM116.55 95.67L121.11 95.67L118.83 99.77zM117.45 95.09L122.01 95.09L119.73 99.2zM118.35 94.53L122.91 94.53L120.63 98.63zM119.25 93.97L123.81 93.97L121.53 98.08zM120.15 93.42L124.71 93.42L122.43 97.52zM121.06 92.88L125.62 92.88L123.34 96.98zM121.96 92.34L126.52 92.34L124.24 96.44zM122.86 91.8L127.42 91.8L125.14 95.91zM123.76 91.28L128.32 91.28L126.04 95.38zM124.66 90.76L129.22 90.76L126.94 94.86zM125.56 90.24L130.12 90.24L127.84 94.35zM126.47 89.73L131.03 89.73L128.75 93.84zM127.37 89.23L131.93 89.23L129.65 93.33zM128.27 88.73L132.83 88.73L130.55 92.83zM129.17 88.23L133.73 88.23L131.45 92.34zM130.08 87.74L134.64 87.74L132.36 91.85zM130.98 87.26L135.54 87.26L133.26 91.36zM131.88 86.78L136.44 86.78L134.16 90.88zM132.78 86.3L137.34 86.3L135.06 90.4zM133.68 85.83L138.24 85.83L135.96 89.93zM134.59 85.36L139.15 85.36L136.87 89.46zM135.49 84.89L140.05 84.89L137.77 89zM136.39 84.43L140.95 84.43L138.67 88.54zM137.29 83.98L141.85 83.98L139.57 88.08zM138.19 83.52L142.75 83.52L140.47 87.63zM139.09 83.07L143.66 83.07L141.38 87.18zM140 82.63L144.56 82.63L142.28 86.73zM140.9 82.19L145.46 82.19L143.18 86.29zM141.8 81.75L146.36 81.75L144.08 85.85zM142.7 81.31L147.26 81.31L144.98 85.42zM143.61 80.88L148.17 80.88L145.89 84.98zM144.51 80.45L149.07 80.45L146.79 84.55zM145.41 80.02L149.97 80.02L147.69 84.13zM146.31 79.6L150.87 79.6L148.59 83.7zM147.21 79.18L151.77 79.18L149.49 83.28zM148.12 78.76L152.68 78.76L150.4 82.87zM149.02 78.35L153.58 78.35L151.3 82.45zM149.92 77.94L154.48 77.94L152.2 82.04zM150.82 77.53L155.38 77.53L153.1 81.63zM151.72 77.12L156.28 77.12L154 81.23zM152.63 76.72L157.19 76.72L154.91 80.82zM153.53 76.32L158.09 76.32L155.81 80.42zM154.43 75.92L158.99 75.92L156.71 80.02zM155.33 75.52L159.89 75.52L157.61 79.63zM156.23 75.13L160.79 75.13L158.51 79.23zM157.14 74.74L161.7 74.74L159.42 78.84zM158.04 74.35L162.6 74.35L160.32 78.45zM158.94 73.96L163.5 73.96L161.22 78.06zM159.84 73.58L164.4 73.58L162.12 77.68zM160.74 73.19L165.3 73.19L163.02 77.3zM161.65 72.81L166.21 72.81L163.93 76.92zM162.55 72.44L167.11 72.44L164.83 76.54zM163.45 72.06L168.01 72.06L165.73 76.16zM164.35 71.69L168.91 71.69L166.63 75.79zM165.25 71.31L169.81 71.31L167.53 75.42zM166.16 70.94L170.72 70.94L168.44 75.05zM167.06 70.58L171.62 70.58L169.34 74.68zM167.96 70.21L172.52 70.21L170.24 74.32zM168.86 69.85L173.42 69.85L171.14 73.95zM169.76 69.49L174.32 69.49L172.04 73.59zM170.67 69.13L175.23 69.13L172.95 73.23zM171.57 68.77L176.13 68.77L173.85 72.87zM172.47 68.41L177.03 68.41L174.75 72.51zM174.27 83.85L178.83 83.85L176.55 87.96zM175.63 84.68L180.19 84.68L177.91 88.79zM176.98 85.45L181.54 85.45L179.26 89.56zM178.33 86.17L182.89 86.17L180.61 90.28zM179.68 86.84L184.24 86.84L181.96 90.95zM181.04 87.47L185.6 87.47L183.32 91.57zM182.39 88.06L186.95 88.06L184.67 92.16zM183.74 88.61L188.3 88.61L186.02 92.71zM185.1 89.13L189.66 89.13L187.38 93.23zM186.45 89.62L191.01 89.62L188.73 93.72zM187.8 90.08L192.36 90.08L190.08 94.18zM189.16 90.52L193.72 90.52L191.44 94.62zM190.51 90.93L195.07 90.93L192.79 95.03zM191.86 91.32L196.42 91.32L194.14 95.43zM193.21 91.7L197.77 91.7L195.49 95.8zM194.57 92.05L199.13 92.05L196.85 96.15zM195.92 92.39L200.48 92.39L198.2 96.49zM197.27 92.71L201.83 92.71L199.55 96.82zM198.63 93.02L203.19 93.02L200.91 97.12zM199.98 93.31L204.54 93.31L202.26 97.42zM201.33 93.59L205.89 93.59L203.61 97.7zM202.69 93.86L207.25 93.86L204.97 97.97zM204.04 94.12L208.6 94.12L206.32 98.23zM205.39 94.37L209.95 94.37L207.67 98.47zM206.74 94.61L211.3 94.61L209.02 98.71zM208.1 94.84L212.66 94.84L210.38 98.94zM209.45 95.05L214.01 95.05L211.73 99.16zM210.8 95.27L215.36 95.27L213.08 99.37zM212.16 95.47L216.72 95.47L214.44 99.57zM213.51 95.67L218.07 95.67L215.79 99.77zM214.86 95.85L219.42 95.85L217.14 99.96zM216.22 96.04L220.78 96.04L218.5 100.14zM217.57 96.21L222.13 96.21L219.85 100.32zM218.92 96.38L223.48 96.38L221.2 100.49zM220.27 96.55L224.83 96.55L222.55 100.65zM221.63 96.71L226.19 96.71L223.91 100.81zM222.98 96.86L227.54 96.86L225.26 100.96zM224.33 97.01L228.89 97.01L226.61 101.11zM225.69 97.15L230.25 97.15L227.97 101.26zM227.04 97.29L231.6 97.29L229.32 101.4zM228.39 97.43L232.95 97.43L230.67 101.53zM229.75 97.56L234.31 97.56L232.03 101.66zM231.1 97.69L235.66 97.69L233.38 101.79zM232.45 97.81L237.01 97.81L234.73 101.92zM233.8 97.93L238.36 97.93L236.08 102.04zM235.16 98.05L239.72 98.05L237.44 102.15zM236.51 98.16L241.07 98.16L238.79 102.27zM237.86 98.27L242.42 98.27L240.14 102.38zM239.22 98.38L243.78 98.38L241.5 102.49zM240.57 98.49L245.13 98.49L242.85 102.59zM241.92 98.59L246.48 98.59L244.2 102.69zM243.28 98.69L247.84 98.69L245.56 102.79zM244.63 98.79L249.19 98.79L246.91 102.89zM245.98 98.88L250.54 98.88L248.26 102.98zM247.33 98.97L251.89 98.97L249.61 103.08zM248.69 99.06L253.25 99.06L250.97 103.17zM250.04 99.15L254.6 99.15L252.32 103.25zM251.39 99.23L255.95 99.23L253.67 103.34zM252.75 99.32L257.31 99.32L255.03 103.42zM254.1 99.4L258.66 99.4L256.38 103.5zM255.45 99.48L260.01 99.48L257.73 103.58zM256.81 99.56L261.37 99.56L259.09 103.66zM258.16 99.63L262.72 99.63L260.44 103.74zM259.51 99.71L264.07 99.71L261.79 103.81zM260.86 99.78L265.42 99.78L263.14 103.88zM262.22 99.85L266.78 99.85L264.5 103.95z" stroke="#52eab4" stroke-width="1.1" fill="none"/>
<path d="M173.3 73.44L177.1 73.44L175.2 76.86zM173.3 78.35L177.1 78.35L175.2 81.77z" stroke="#52eab4" stroke-width="1.0" fill="none"/>
<path d="M37.62 139.34L42.18 139.34L39.9 135.23zM38.07 139.65L42.63 139.65L40.35 135.54zM38.52 139.01L43.08 139.01L40.8 134.91zM38.97 140.8L43.53 140.8L41.25 136.69zM39.42 139.54L43.98 139.54L41.7 135.44zM39.88 139.23L44.44 139.23L42.16 135.13zM40.33 140.11L44.89 140.11L42.61 136.01zM40.78 141.21L45.34 141.21L43.06 137.11zM41.23 139.56L45.79 139.56L43.51 135.46zM41.68 141.03L46.24 141.03L43.96 136.93zM42.13 140.07L46.69 140.07L44.41 135.97zM42.58 140.62L47.14 140.62L44.86 136.51zM43.03 138.81L47.59 138.81L45.31 134.71zM43.48 140.38L48.04 140.38L45.76 136.28zM43.93 139.6L48.49 139.6L46.21 135.5zM44.39 137.95L48.95 137.95L46.67 133.85zM44.84 139.73L49.4 139.73L47.12 135.62zM45.29 138.84L49.85 138.84L47.57 134.74zM45.74 139.93L50.3 139.93L48.02 135.83zM46.19 139.06L50.75 139.06L48.47 134.96zM46.64 141.26L51.2 141.26L48.92 137.15zM47.09 140.06L51.65 140.06L49.37 135.96zM47.54 140.35L52.1 140.35L49.82 136.25zM47.99 139.76L52.55 139.76L50.27 135.65zM48.44 139.3L53 139.3L50.72 135.2zM48.9 138.93L53.46 138.93L51.18 134.82zM49.35 139.58L53.91 139.58L51.63 135.48zM49.8 139.83L54.36 139.83L52.08 135.72zM50.25 139.54L54.81 139.54L52.53 135.44zM50.7 140.83L55.26 140.83L52.98 136.73zM51.15 140.23L55.71 140.23L53.43 136.13zM51.6 138.86L56.16 138.86L53.88 134.76zM52.05 139.81L56.61 139.81L54.33 135.7zM52.5 141.19L57.06 141.19L54.78 137.08zM52.95 139.4L57.51 139.4L55.23 135.3zM53.41 138.51L57.97 138.51L55.69 134.4zM53.86 139.31L58.42 139.31L56.14 135.21zM54.31 139.6L58.87 139.6L56.59 135.5zM54.76 140.42L59.32 140.42L57.04 136.32zM55.21 139.35L59.77 139.35L57.49 135.25zM55.66 140.21L60.22 140.21L57.94 136.1zM56.11 138.71L60.67 138.71L58.39 134.61zM56.56 140.41L61.12 140.41L58.84 136.31zM57.01 140.83L61.57 140.83L59.29 136.72zM57.46 140.62L62.02 140.62L59.74 136.52zM57.92 139.36L62.48 139.36L60.2 135.25zM58.37 140.22L62.93 140.22L60.65 136.11zM58.82 138.06L63.38 138.06L61.1 133.96zM59.27 140.09L63.83 140.09L61.55 135.98zM59.72 139.83L64.28 139.83L62 135.73zM60.17 139.48L64.73 139.48L62.45 135.38zM60.62 140.14L65.18 140.14L62.9 136.03zM61.07 140.09L65.63 140.09L63.35 135.99zM61.52 139.97L66.08 139.97L63.8 135.87zM61.97 140.08L66.53 140.08L64.25 135.97zM62.43 140.42L66.99 140.42L64.71 136.31zM62.88 138.41L67.44 138.41L65.16 134.3zM63.33 139.73L67.89 139.73L65.61 135.62zM63.78 139.72L68.34 139.72L66.06 135.61zM64.23 139.99L68.79 139.99L66.51 135.89zM64.68 139.35L69.24 139.35L66.96 135.24zM65.13 141.05L69.69 141.05L67.41 136.95zM65.58 139.12L70.14 139.12L67.86 135.01zM66.03 139.61L70.59 139.61L68.31 135.5zM66.48 140.2L71.04 140.2L68.76 136.09zM66.94 139.46L71.5 139.46L69.22 135.35zM67.39 139.87L71.95 139.87L69.67 135.77zM67.84 139.23L72.4 139.23L70.12 135.13zM68.29 140.65L72.85 140.65L70.57 136.54zM68.74 139.89L73.3 139.89L71.02 135.79zM69.19 140.63L73.75 140.63L71.47 136.53zM69.64 140L74.2 140L71.92 135.89zM70.09 140.62L74.65 140.62L72.37 136.51zM70.54 139.16L75.1 139.16L72.82 135.05zM70.99 139.97L75.55 139.97L73.27 135.87zM71.45 140.25L76.01 140.25L73.73 136.15zM71.9 140.08L76.46 140.08L74.18 135.97zM72.35 139.97L76.91 139.97L74.63 135.86zM72.8 138.94L77.36 138.94L75.08 134.84zM73.25 139.64L77.81 139.64L75.53 135.53zM73.7 138.93L78.26 138.93L75.98 134.82zM74.15 139.9L78.71 139.9L76.43 135.8zM74.6 138.97L79.16 138.97L76.88 134.86zM75.05 139.62L79.61 139.62L77.33 135.51zM75.5 139.5L80.06 139.5L77.78 135.39zM75.96 139.76L80.52 139.76L78.24 135.66zM76.41 139.44L80.97 139.44L78.69 135.34zM76.86 140.44L81.42 140.44L79.14 136.34zM77.31 139.28L81.87 139.28L79.59 135.17zM77.76 139.32L82.32 139.32L80.04 135.22zM78.21 139.94L82.77 139.94L80.49 135.84zM78.66 139.81L83.22 139.81L80.94 135.71zM79.11 138.23L83.67 138.23L81.39 134.12zM79.56 139.91L84.12 139.91L81.84 135.8zM80.01 139.5L84.57 139.5L82.29 135.39zM80.47 140.24L85.03 140.24L82.75 136.14zM80.92 140.7L85.48 140.7L83.2 136.6zM81.37 140.49L85.93 140.49L83.65 136.39zM81.82 140.18L86.38 140.18L84.1 136.07zM82.27 139.56L86.83 139.56L84.55 135.45zM82.72 140.85L87.28 140.85L85 136.75zM84.07 133.18L88.63 133.18L86.35 129.07zM84.97 132.03L89.53 132.03L87.25 127.93zM85.88 130.15L90.44 130.15L88.16 126.04zM86.78 129.37L91.34 129.37L89.06 125.27zM87.68 128.5L92.24 128.5L89.96 124.39zM88.58 126.43L93.14 126.43L90.86 122.32zM89.48 126.42L94.05 126.42L91.77 122.32zM90.39 124.87L94.95 124.87L92.67 120.76zM91.29 123.78L95.85 123.78L93.57 119.67zM92.19 123.24L96.75 123.24L94.47 119.14zM93.09 122L97.65 122L95.37 117.89zM94 121.38L98.56 121.38L96.28 117.28zM94.9 121.71L99.46 121.71L97.18 117.61zM95.8 120.37L100.36 120.37L98.08 116.26zM96.7 120.48L101.26 120.48L98.98 116.37zM97.6 119.4L102.16 119.4L99.88 115.3zM98.5 117.9L103.06 117.9L100.78 113.8zM99.41 116.77L103.97 116.77L101.69 112.67zM100.31 116.91L104.87 116.91L102.59 112.8zM101.21 116.9L105.77 116.9L103.49 112.8zM102.11 116.18L106.67 116.18L104.39 112.08zM103.02 115.13L107.58 115.13L105.3 111.03zM103.92 115.7L108.48 115.7L106.2 111.59zM104.82 113.51L109.38 113.51L107.1 109.41zM105.72 113.29L110.28 113.29L108 109.18zM106.62 113.61L111.18 113.61L108.9 109.51zM107.53 114.35L112.09 114.35L109.81 110.25zM108.43 112.8L112.99 112.8L110.71 108.69zM109.33 111.46L113.89 111.46L111.61 107.36zM110.23 111.95L114.79 111.95L112.51 107.84zM111.13 111.54L115.69 111.54L113.41 107.43zM112.04 111.23L116.6 111.23L114.32 107.13zM112.94 109.97L117.5 109.97L115.22 105.87zM113.84 109.29L118.4 109.29L116.12 105.19zM114.74 109.41L119.3 109.41L117.02 105.3zM115.64 109.15L120.2 109.15L117.92 105.05zM116.55 109.43L121.11 109.43L118.83 105.33zM117.45 109.31L122.01 109.31L119.73 105.2zM118.35 107.2L122.91 107.2L120.63 103.09zM119.25 106.91L123.81 106.91L121.53 102.81zM120.15 106.78L124.71 106.78L122.43 102.68zM121.06 106.27L125.62 106.27L123.34 102.17zM121.96 106.32L126.52 106.32L124.24 102.21zM122.86 105.93L127.42 105.93L125.14 101.82zM123.76 105.4L128.32 105.4L126.04 101.3zM124.66 105.67L129.22 105.67L126.94 101.57zM125.56 104.39L130.12 104.39L127.84 100.28zM126.47 103.48L131.03 103.48L128.75 99.37zM127.37 102.8L131.93 102.8L129.65 98.7zM128.27 102.75L132.83 102.75L130.55 98.65zM129.17 102.38L133.73 102.38L131.45 98.27zM130.08 101.51L134.64 101.51L132.36 97.41zM130.98 102.68L135.54 102.68L133.26 98.58zM131.88 102.04L136.44 102.04L134.16 97.94zM132.78 101.33L137.34 101.33L135.06 97.22zM133.68 100.7L138.24 100.7L135.96 96.59zM134.59 99.94L139.15 99.94L136.87 95.83zM135.49 99.99L140.05 99.99L137.77 95.89zM136.39 101.32L140.95 101.32L138.67 97.21zM137.29 98.54L141.85 98.54L139.57 94.44zM138.19 99.62L142.75 99.62L140.47 95.52zM139.09 99.65L143.66 99.65L141.38 95.55zM140 98.96L144.56 98.96L142.28 94.85zM140.9 98.36L145.46 98.36L143.18 94.26zM141.8 98.69L146.36 98.69L144.08 94.58zM142.7 97.24L147.26 97.24L144.98 93.14zM143.61 97.92L148.17 97.92L145.89 93.82zM144.51 98.13L149.07 98.13L146.79 94.03zM145.41 96.33L149.97 96.33L147.69 92.23zM146.31 96.15L150.87 96.15L148.59 92.05zM147.21 96.42L151.77 96.42L149.49 92.31zM148.12 96.62L152.68 96.62L150.4 92.52zM149.02 96.53L153.58 96.53L151.3 92.42zM149.92 95.83L154.48 95.83L152.2 91.72zM150.82 94.72L155.38 94.72L153.1 90.61zM151.72 94.15L156.28 94.15L154 90.05zM152.63 94.67L157.19 94.67L154.91 90.56zM153.53 94.47L158.09 94.47L155.81 90.36zM154.43 93.27L158.99 93.27L156.71 89.17zM155.33 93.68L159.89 93.68L157.61 89.57zM156.23 93.55L160.79 93.55L158.51 89.45zM157.14 93.69L161.7 93.69L159.42 89.58zM158.04 92.18L162.6 92.18L160.32 88.08zM158.94 92.82L163.5 92.82L161.22 88.72zM159.84 91.51L164.4 91.51L162.12 87.4zM160.74 91.67L165.3 91.67L163.02 87.56zM161.65 91.6L166.21 91.6L163.93 87.49zM162.55 92.28L167.11 92.28L164.83 88.17zM163.45 93.08L168.01 93.08L165.73 88.97zM164.35 90.97L168.91 90.97L166.63 86.86zM165.25 90.84L169.81 90.84L167.53 86.73zM166.16 90.87L170.72 90.87L168.44 86.77zM167.06 89.18L171.62 89.18L169.34 85.07zM167.96 90.19L172.52 90.19L170.24 86.08zM168.86 88.71L173.42 88.71L171.14 84.61zM169.76 90.17L174.32 90.17L172.04 86.06zM170.67 89.79L175.23 89.79L172.95 85.69zM171.57 88.96L176.13 88.96L173.85 84.86zM172.47 87.91L177.03 87.91L174.75 83.81zM174.27 98.94L178.83 98.94L176.55 94.84zM175.63 100.17L180.19 100.17L177.91 96.07zM176.98 101.32L181.54 101.32L179.26 97.22zM178.33 101.64L182.89 101.64L180.61 97.54zM179.68 102.89L184.24 102.89L181.96 98.78zM181.04 103.9L185.6 103.9L183.32 99.8zM182.39 103.75L186.95 103.75L184.67 99.64zM183.74 104.34L188.3 104.34L186.02 100.23zM185.1 104.56L189.66 104.56L187.38 100.45zM186.45 105.6L191.01 105.6L188.73 101.5zM187.8 106.21L192.36 106.21L190.08 102.11zM189.16 106.57L193.72 106.57L191.44 102.47zM190.51 106.96L195.07 106.96L192.79 102.85zM191.86 107.47L196.42 107.47L194.14 103.36zM193.21 107.39L197.77 107.39L195.49 103.29zM194.57 107.93L199.13 107.93L196.85 103.82zM195.92 107.63L200.48 107.63L198.2 103.52zM197.27 107.93L201.83 107.93L199.55 103.82zM198.63 108.48L203.19 108.48L200.91 104.37zM199.98 108.38L204.54 108.38L202.26 104.28zM201.33 109.01L205.89 109.01L203.61 104.91zM202.69 109.45L207.25 109.45L204.97 105.34zM204.04 109.34L208.6 109.34L206.32 105.24zM205.39 109.18L209.95 109.18L207.67 105.08zM206.74 109.34L211.3 109.34L209.02 105.24zM208.1 110.14L212.66 110.14L210.38 106.03zM209.45 109.64L214.01 109.64L211.73 105.54zM210.8 110.05L215.36 110.05L213.08 105.95zM212.16 110.09L216.72 110.09L214.44 105.98zM213.51 110.31L218.07 110.31L215.79 106.21zM214.86 110.75L219.42 110.75L217.14 106.64zM216.22 110.38L220.78 110.38L218.5 106.27zM217.57 110.23L222.13 110.23L219.85 106.13zM218.92 111.2L223.48 111.2L221.2 107.09zM220.27 110.94L224.83 110.94L222.55 106.83zM221.63 111.19L226.19 111.19L223.91 107.08zM222.98 111.06L227.54 111.06L225.26 106.96zM224.33 111.39L228.89 111.39L226.61 107.29zM225.69 111.63L230.25 111.63L227.97 107.52zM227.04 111.75L231.6 111.75L229.32 107.64zM228.39 111.34L232.95 111.34L230.67 107.23zM229.75 111.39L234.31 111.39L232.03 107.29zM231.1 111.69L235.66 111.69L233.38 107.59zM232.45 111.71L237.01 111.71L234.73 107.61zM233.8 111.89L238.36 111.89L236.08 107.79zM235.16 111.58L239.72 111.58L237.44 107.47zM236.51 111.16L241.07 111.16L238.79 107.06zM237.86 112.06L242.42 112.06L240.14 107.95zM239.22 112.22L243.78 112.22L241.5 108.12zM240.57 112.24L245.13 112.24L242.85 108.14zM241.92 112.6L246.48 112.6L244.2 108.5zM243.28 112.42L247.84 112.42L245.56 108.32zM244.63 112.1L249.19 112.1L246.91 108zM245.98 112.57L250.54 112.57L248.26 108.46zM247.33 112.3L251.89 112.3L249.61 108.2zM248.69 112.75L253.25 112.75L250.97 108.65zM250.04 112.5L254.6 112.5L252.32 108.39zM251.39 112.61L255.95 112.61L253.67 108.51zM252.75 112.59L257.31 112.59L255.03 108.48zM254.1 112.58L258.66 112.58L256.38 108.48zM255.45 112.16L260.01 112.16L257.73 108.06zM256.81 112.67L261.37 112.67L259.09 108.57zM258.16 112.01L262.72 112.01L260.44 107.91zM259.51 112.88L264.07 112.88L261.79 108.78zM260.86 113.07L265.42 113.07L263.14 108.97zM262.22 113.43L266.78 113.43L264.5 109.32z" stroke="#2848e0" stroke-width="1.1" fill="none"/>
<path d="M173.3 91.13L177.1 91.13L175.2 87.71zM173.3 94.3L177.1 94.3L175.2 90.88z" stroke="#2848e0" stroke-width="1.0" fill="none"/>
<path d="M84.71 136.63L88.89 136.63L86.8 132.87z" stroke="#2848e0" stroke-width="1.0" fill="none"/>
<path d="M37.98 137.91h3.84v3.84h-3.84zM38.43 137.3h3.84v3.84h-3.84zM38.88 136.82h3.84v3.84h-3.84zM39.33 138.78h3.84v3.84h-3.84zM39.78 136.91h3.84v3.84h-3.84zM40.23 138.2h3.84v3.84h-3.84zM40.69 136.42h3.84v3.84h-3.84zM41.14 137.67h3.84v3.84h-3.84zM41.59 138.08h3.84v3.84h-3.84zM42.04 137.88h3.84v3.84h-3.84zM42.49 137.68h3.84v3.84h-3.84zM42.94 137.24h3.84v3.84h-3.84zM43.39 137.2h3.84v3.84h-3.84zM43.84 138.26h3.84v3.84h-3.84zM44.29 137.94h3.84v3.84h-3.84zM44.75 137.61h3.84v3.84h-3.84zM45.2 137.82h3.84v3.84h-3.84zM45.65 137.19h3.84v3.84h-3.84zM46.1 138.27h3.84v3.84h-3.84zM46.55 138.4h3.84v3.84h-3.84zM47 137.27h3.84v3.84h-3.84zM47.45 137.76h3.84v3.84h-3.84zM47.9 138.28h3.84v3.84h-3.84zM48.35 137.35h3.84v3.84h-3.84zM48.8 138.83h3.84v3.84h-3.84zM49.26 138.54h3.84v3.84h-3.84zM49.71 137.55h3.84v3.84h-3.84zM50.16 138.25h3.84v3.84h-3.84zM50.61 138.62h3.84v3.84h-3.84zM51.06 137.01h3.84v3.84h-3.84zM51.51 138.05h3.84v3.84h-3.84zM51.96 137.62h3.84v3.84h-3.84zM52.41 137.58h3.84v3.84h-3.84zM52.86 138.1h3.84v3.84h-3.84zM53.31 137.44h3.84v3.84h-3.84zM53.77 136.93h3.84v3.84h-3.84zM54.22 136.91h3.84v3.84h-3.84zM54.67 137.69h3.84v3.84h-3.84zM55.12 138.05h3.84v3.84h-3.84zM55.57 137.69h3.84v3.84h-3.84zM56.02 137.62h3.84v3.84h-3.84zM56.47 137.68h3.84v3.84h-3.84zM56.92 138.42h3.84v3.84h-3.84zM57.37 138h3.84v3.84h-3.84zM57.82 137.29h3.84v3.84h-3.84zM58.28 137.54h3.84v3.84h-3.84zM58.73 138.37h3.84v3.84h-3.84zM59.18 137.38h3.84v3.84h-3.84zM59.63 137.48h3.84v3.84h-3.84zM60.08 137.69h3.84v3.84h-3.84zM60.53 137.11h3.84v3.84h-3.84zM60.98 138.2h3.84v3.84h-3.84zM61.43 136.49h3.84v3.84h-3.84zM61.88 138.51h3.84v3.84h-3.84zM62.33 137.46h3.84v3.84h-3.84zM62.79 137h3.84v3.84h-3.84zM63.24 137.86h3.84v3.84h-3.84zM63.69 136.75h3.84v3.84h-3.84zM64.14 138h3.84v3.84h-3.84zM64.59 138.13h3.84v3.84h-3.84zM65.04 137.38h3.84v3.84h-3.84zM65.49 137.49h3.84v3.84h-3.84zM65.94 138.23h3.84v3.84h-3.84zM66.39 137.33h3.84v3.84h-3.84zM66.84 137.71h3.84v3.84h-3.84zM67.3 137.89h3.84v3.84h-3.84zM67.75 138.57h3.84v3.84h-3.84zM68.2 137.42h3.84v3.84h-3.84zM68.65 137.72h3.84v3.84h-3.84zM69.1 138.33h3.84v3.84h-3.84zM69.55 136.28h3.84v3.84h-3.84zM70 137.55h3.84v3.84h-3.84zM70.45 136.64h3.84v3.84h-3.84zM70.9 136.68h3.84v3.84h-3.84zM71.35 138.79h3.84v3.84h-3.84zM71.81 137.82h3.84v3.84h-3.84zM72.26 138.53h3.84v3.84h-3.84zM72.71 137.57h3.84v3.84h-3.84zM73.16 138h3.84v3.84h-3.84zM73.61 137.46h3.84v3.84h-3.84zM74.06 137.4h3.84v3.84h-3.84zM74.51 137.66h3.84v3.84h-3.84zM74.96 137.77h3.84v3.84h-3.84zM75.41 138.55h3.84v3.84h-3.84zM75.86 137.59h3.84v3.84h-3.84zM76.32 137.91h3.84v3.84h-3.84zM76.77 137.56h3.84v3.84h-3.84zM77.22 137.78h3.84v3.84h-3.84zM77.67 136.97h3.84v3.84h-3.84zM78.12 138.31h3.84v3.84h-3.84zM78.57 137.41h3.84v3.84h-3.84zM79.02 137.73h3.84v3.84h-3.84zM79.47 137.58h3.84v3.84h-3.84zM79.92 138.25h3.84v3.84h-3.84zM80.37 137.99h3.84v3.84h-3.84zM80.83 137.71h3.84v3.84h-3.84zM81.28 137.8h3.84v3.84h-3.84zM81.73 137.89h3.84v3.84h-3.84zM82.18 138.12h3.84v3.84h-3.84zM82.63 137.98h3.84v3.84h-3.84zM83.08 150.67h3.84v3.84h-3.84zM84.43 129.06h3.84v3.84h-3.84zM85.33 123.89h3.84v3.84h-3.84zM86.24 119.83h3.84v3.84h-3.84zM87.14 116.39h3.84v3.84h-3.84zM88.04 113.38h3.84v3.84h-3.84zM88.94 110.67h3.84v3.84h-3.84zM89.84 108.19h3.84v3.84h-3.84zM90.75 105.9h3.84v3.84h-3.84zM91.65 103.76h3.84v3.84h-3.84zM92.55 101.74h3.84v3.84h-3.84zM93.45 99.84h3.84v3.84h-3.84zM94.36 98.03h3.84v3.84h-3.84zM95.26 96.3h3.84v3.84h-3.84zM96.16 94.64h3.84v3.84h-3.84zM97.06 93.05h3.84v3.84h-3.84zM97.96 91.52h3.84v3.84h-3.84zM98.86 90.04h3.84v3.84h-3.84zM99.77 88.6h3.84v3.84h-3.84zM100.67 87.22h3.84v3.84h-3.84zM101.57 85.87h3.84v3.84h-3.84zM102.47 84.56h3.84v3.84h-3.84zM103.38 83.29h3.84v3.84h-3.84zM104.28 82.05h3.84v3.84h-3.84zM105.18 80.83h3.84v3.84h-3.84zM106.08 79.65h3.84v3.84h-3.84zM106.98 78.49h3.84v3.84h-3.84zM107.89 77.36h3.84v3.84h-3.84zM108.79 76.25h3.84v3.84h-3.84zM109.69 75.17h3.84v3.84h-3.84zM110.59 74.1h3.84v3.84h-3.84zM111.49 73.06h3.84v3.84h-3.84zM112.4 72.03h3.84v3.84h-3.84zM113.3 71.03h3.84v3.84h-3.84zM114.2 70.04h3.84v3.84h-3.84zM115.1 69.06h3.84v3.84h-3.84zM116 68.11h3.84v3.84h-3.84zM116.91 67.16h3.84v3.84h-3.84zM117.81 66.24h3.84v3.84h-3.84zM118.71 65.32h3.84v3.84h-3.84zM119.61 64.42h3.84v3.84h-3.84zM120.51 63.53h3.84v3.84h-3.84zM121.42 62.66h3.84v3.84h-3.84zM122.32 61.79h3.84v3.84h-3.84zM123.22 60.94h3.84v3.84h-3.84zM124.12 60.1h3.84v3.84h-3.84zM125.02 59.27h3.84v3.84h-3.84zM125.92 58.45h3.84v3.84h-3.84zM126.83 57.64h3.84v3.84h-3.84zM127.73 56.84h3.84v3.84h-3.84zM128.63 56.04h3.84v3.84h-3.84zM129.53 55.26h3.84v3.84h-3.84zM130.44 54.49h3.84v3.84h-3.84zM131.34 53.72h3.84v3.84h-3.84zM132.24 52.97h3.84v3.84h-3.84zM133.14 52.22h3.84v3.84h-3.84zM134.04 51.48h3.84v3.84h-3.84zM134.95 50.74h3.84v3.84h-3.84zM135.85 50.02h3.84v3.84h-3.84zM136.75 49.3h3.84v3.84h-3.84zM137.65 48.58h3.84v3.84h-3.84zM138.55 47.88h3.84v3.84h-3.84zM139.46 47.18h3.84v3.84h-3.84zM140.36 46.49h3.84v3.84h-3.84zM141.26 45.8h3.84v3.84h-3.84zM142.16 45.12h3.84v3.84h-3.84zM143.06 44.45h3.84v3.84h-3.84zM143.97 43.78h3.84v3.84h-3.84zM144.87 43.12h3.84v3.84h-3.84zM145.77 42.46h3.84v3.84h-3.84zM146.67 41.81h3.84v3.84h-3.84zM147.57 41.17h3.84v3.84h-3.84zM148.48 40.52h3.84v3.84h-3.84zM149.38 39.89h3.84v3.84h-3.84zM150.28 39.26h3.84v3.84h-3.84zM151.18 38.63h3.84v3.84h-3.84zM152.08 38.01h3.84v3.84h-3.84zM152.99 37.4h3.84v3.84h-3.84zM153.89 36.78h3.84v3.84h-3.84zM154.79 36.18h3.84v3.84h-3.84zM155.69 35.57h3.84v3.84h-3.84zM156.59 34.98h3.84v3.84h-3.84zM157.5 34.38h3.84v3.84h-3.84zM158.4 33.79h3.84v3.84h-3.84zM159.3 33.21h3.84v3.84h-3.84zM160.2 32.62h3.84v3.84h-3.84zM161.1 32.05h3.84v3.84h-3.84zM162.01 31.47h3.84v3.84h-3.84zM162.91 30.9h3.84v3.84h-3.84zM163.81 30.34h3.84v3.84h-3.84zM164.71 29.77h3.84v3.84h-3.84zM165.61 29.21h3.84v3.84h-3.84zM166.52 28.66h3.84v3.84h-3.84zM167.42 28.11h3.84v3.84h-3.84zM168.32 27.56h3.84v3.84h-3.84zM169.22 27.01h3.84v3.84h-3.84zM170.12 26.47h3.84v3.84h-3.84zM171.03 25.93h3.84v3.84h-3.84zM171.93 25.39h3.84v3.84h-3.84zM172.83 24.86h3.84v3.84h-3.84zM174.63 42.22h3.84v3.84h-3.84zM175.99 43.55h3.84v3.84h-3.84zM177.34 44.74h3.84v3.84h-3.84zM178.69 45.8h3.84v3.84h-3.84zM180.04 46.75h3.84v3.84h-3.84zM181.4 47.62h3.84v3.84h-3.84zM182.75 48.4h3.84v3.84h-3.84zM184.1 49.12h3.84v3.84h-3.84zM185.46 49.78h3.84v3.84h-3.84zM186.81 50.39h3.84v3.84h-3.84zM188.16 50.95h3.84v3.84h-3.84zM189.52 51.47h3.84v3.84h-3.84zM190.87 51.96h3.84v3.84h-3.84zM192.22 52.41h3.84v3.84h-3.84zM193.57 52.83h3.84v3.84h-3.84zM194.93 53.22h3.84v3.84h-3.84zM196.28 53.59h3.84v3.84h-3.84zM197.63 53.93h3.84v3.84h-3.84zM198.99 54.26h3.84v3.84h-3.84zM200.34 54.57h3.84v3.84h-3.84zM201.69 54.86h3.84v3.84h-3.84zM203.05 55.13h3.84v3.84h-3.84zM204.4 55.4h3.84v3.84h-3.84zM205.75 55.64h3.84v3.84h-3.84zM207.1 55.88h3.84v3.84h-3.84zM208.46 56.1h3.84v3.84h-3.84zM209.81 56.31h3.84v3.84h-3.84zM211.16 56.52h3.84v3.84h-3.84zM212.52 56.71h3.84v3.84h-3.84zM213.87 56.9h3.84v3.84h-3.84zM215.22 57.07h3.84v3.84h-3.84zM216.58 57.24h3.84v3.84h-3.84zM217.93 57.41h3.84v3.84h-3.84zM219.28 57.56h3.84v3.84h-3.84zM220.63 57.71h3.84v3.84h-3.84zM221.99 57.86h3.84v3.84h-3.84zM223.34 58h3.84v3.84h-3.84zM224.69 58.13h3.84v3.84h-3.84zM226.05 58.26h3.84v3.84h-3.84zM227.4 58.38h3.84v3.84h-3.84zM228.75 58.5h3.84v3.84h-3.84zM230.11 58.62h3.84v3.84h-3.84zM231.46 58.73h3.84v3.84h-3.84zM232.81 58.84h3.84v3.84h-3.84zM234.16 58.94h3.84v3.84h-3.84zM235.52 59.04h3.84v3.84h-3.84zM236.87 59.14h3.84v3.84h-3.84zM238.22 59.23h3.84v3.84h-3.84zM239.58 59.32h3.84v3.84h-3.84zM240.93 59.41h3.84v3.84h-3.84zM242.28 59.5h3.84v3.84h-3.84zM243.64 59.58h3.84v3.84h-3.84zM244.99 59.66h3.84v3.84h-3.84zM246.34 59.74h3.84v3.84h-3.84zM247.69 59.82h3.84v3.84h-3.84zM249.05 59.89h3.84v3.84h-3.84zM250.4 59.96h3.84v3.84h-3.84zM251.75 60.03h3.84v3.84h-3.84zM253.11 60.1h3.84v3.84h-3.84zM254.46 60.17h3.84v3.84h-3.84zM255.81 60.23h3.84v3.84h-3.84zM257.17 60.3h3.84v3.84h-3.84zM258.52 60.36h3.84v3.84h-3.84zM259.87 60.42h3.84v3.84h-3.84zM261.22 60.47h3.84v3.84h-3.84zM262.58 60.53h3.84v3.84h-3.84z" stroke="#e8751e" stroke-width="1.1" fill="none"/>
<path d="M173.6 30.29h3.2v3.2h-3.2zM173.6 35.66h3.2v3.2h-3.2z" stroke="#e8751e" stroke-width="1.0" fill="none"/>
</g>
<rect x="35.5" y="2.3" width="234.9" height="143.7" fill="none" stroke="#111" stroke-width="1.2"/>
<path d="M39.9 146v-2.2 M39.9 2.3v2.2M85 146v-2.2 M85 2.3v2.2M130.1 146v-2.2 M130.1 2.3v2.2M175.2 146v-2.2 M175.2 2.3v2.2M220.3 146v-2.2 M220.3 2.3v2.2M265.4 146v-2.2 M265.4 2.3v2.2" stroke="#111" stroke-width="1"/>
<path d="M35.5 139.4h2.2 M270.4 139.4h-2.2M35.5 117.2h2.2 M270.4 117.2h-2.2M35.5 95h2.2 M270.4 95h-2.2M35.5 72.8h2.2 M270.4 72.8h-2.2M35.5 50.6h2.2 M270.4 50.6h-2.2M35.5 28.4h2.2 M270.4 28.4h-2.2M35.5 6.2h2.2 M270.4 6.2h-2.2" stroke="#111" stroke-width="1"/>
<text x="37.7" y="156" font-size="8.8" text-anchor="middle" font-weight="normal" font-family="Liberation Serif" fill="#222" >&#8722;1</text>
<text x="85" y="156" font-size="8.8" text-anchor="middle" font-weight="normal" font-family="Liberation Serif" fill="#222" >0</text>
<text x="130.1" y="156" font-size="8.8" text-anchor="middle" font-weight="normal" font-family="Liberation Serif" fill="#222" >1</text>
<text x="175.2" y="156" font-size="8.8" text-anchor="middle" font-weight="normal" font-family="Liberation Serif" fill="#222" >2</text>
<text x="220.3" y="156" font-size="8.8" text-anchor="middle" font-weight="normal" font-family="Liberation Serif" fill="#222" >3</text>
<text x="265.4" y="156" font-size="8.8" text-anchor="middle" font-weight="normal" font-family="Liberation Serif" fill="#222" >4</text>
<text x="33.8" y="142.7" font-size="9.1" text-anchor="end" font-weight="normal" font-family="Liberation Serif" fill="#222" >0</text>
<text x="33.8" y="120.5" font-size="9.1" text-anchor="end" font-weight="normal" font-family="Liberation Serif" fill="#222" >0.01</text>
<text x="33.8" y="98.3" font-size="9.1" text-anchor="end" font-weight="normal" font-family="Liberation Serif" fill="#222" >0.02</text>
<text x="33.8" y="76.1" font-size="9.1" text-anchor="end" font-weight="normal" font-family="Liberation Serif" fill="#222" >0.03</text>
<text x="33.8" y="53.9" font-size="9.1" text-anchor="end" font-weight="normal" font-family="Liberation Serif" fill="#222" >0.04</text>
<text x="33.8" y="31.7" font-size="9.1" text-anchor="end" font-weight="normal" font-family="Liberation Serif" fill="#222" >0.05</text>
<text x="33.8" y="9.5" font-size="9.1" text-anchor="end" font-weight="normal" font-family="Liberation Serif" fill="#222" >0.06</text>
<text x="152.8" y="167.8" font-size="9.6" text-anchor="middle" font-weight="bold" font-family="Liberation Serif" fill="#111" >t [s]</text>
<text x="263.9" y="15.2" font-size="11.2" text-anchor="end" font-weight="bold" font-family="Liberation Serif" fill="#111" >A</text>
<text transform="translate(9.4,74.1) rotate(-90)" font-size="10.4" text-anchor="middle" font-weight="bold" font-family="Liberation Serif" fill="#111" textLength="104" lengthAdjust="spacingAndGlyphs">J(t) = &#949;(t)/&#963;<tspan font-size="7.2" dy="2.6">0</tspan><tspan dy="-2.6"> [arb. units]</tspan></text>
<path d="M285.5 87.8H305" stroke="#111" stroke-width="2.6"/>
<path d="M300.3 83L307.8 87.8L300.3 92.6" stroke="#111" stroke-width="2.7" fill="none"/>
<text x="291.4" y="73.8" font-size="9.5" text-anchor="start" font-weight="bold" font-family="Liberation Serif" fill="#111" >a</text>
<text x="297.2" y="79.8" font-size="7.6" text-anchor="start" font-weight="bold" font-family="Liberation Serif" fill="#111" >T</text>
<clipPath id="cB"><rect x="335.3" y="2.6" width="235" height="148"/></clipPath>
<g clip-path="url(#cB)">
<path d="M354.48 146.53L358.85 146.53L356.66 142.59zM354.56 146.33L358.93 146.33L356.75 142.4zM354.65 146.91L359.02 146.91L356.83 142.98zM354.73 148.03L359.1 148.03L356.92 144.09zM354.82 146.26L359.19 146.26L357 142.33zM354.9 146.03L359.27 146.03L357.09 142.1zM354.99 147.48L359.36 147.48L357.17 143.54zM355.07 147.5L359.44 147.5L357.26 143.57zM355.16 148.45L359.53 148.45L357.34 144.52zM355.24 146.82L359.61 146.82L357.43 142.88zM355.32 147.85L359.69 147.85L357.51 143.91zM355.41 146.21L359.78 146.21L357.59 142.28zM355.49 148.69L359.86 148.69L357.68 144.76zM355.58 147.22L359.95 147.22L357.76 143.29zM355.66 146.88L360.03 146.88L357.85 142.94zM355.75 147.5L360.12 147.5L357.93 143.56zM355.83 147.72L360.2 147.72L358.02 143.79zM355.92 147.12L360.29 147.12L358.1 143.19zM356 147.57L360.37 147.57L358.19 143.64zM356.09 147.46L360.46 147.46L358.27 143.53zM356.17 147.29L360.54 147.29L358.36 143.36zM356.26 147.59L360.63 147.59L358.44 143.65zM356.34 147.4L360.71 147.4L358.53 143.46zM356.43 146.81L360.8 146.81L358.61 142.88zM356.51 147.49L360.88 147.49L358.7 143.56zM356.6 147.17L360.97 147.17L358.78 143.24zM356.68 147.7L361.05 147.7L358.87 143.77zM356.77 146.74L361.14 146.74L358.95 142.81zM356.85 148.01L361.22 148.01L359.04 144.07zM356.94 146.72L361.31 146.72L359.12 142.78zM357.02 149.01L361.39 149.01L359.21 145.08zM357.11 147.79L361.48 147.79L359.29 143.86zM357.19 148.18L361.56 148.18L359.38 144.25zM357.28 146.68L361.65 146.68L359.46 142.75zM357.36 147.11L361.73 147.11L359.55 143.18zM357.45 148.02L361.82 148.02L359.63 144.09zM357.53 147.6L361.9 147.6L359.72 143.66zM357.62 146.5L361.99 146.5L359.8 142.56zM357.7 147.31L362.07 147.31L359.89 143.37zM357.79 146.95L362.16 146.95L359.97 143.02zM357.87 148.14L362.24 148.14L360.05 144.21zM357.95 148.14L362.32 148.14L360.14 144.21zM358.04 146.95L362.41 146.95L360.22 143.01zM358.12 145.95L362.49 145.95L360.31 142.02zM358.21 147.59L362.58 147.59L360.39 143.66zM358.29 146.94L362.66 146.94L360.48 143zM358.38 147.82L362.75 147.82L360.56 143.89zM358.46 146.56L362.83 146.56L360.65 142.63zM358.55 147.54L362.92 147.54L360.73 143.61zM358.63 147.53L363 147.53L360.82 143.6zM358.72 148.37L363.09 148.37L360.9 144.44zM358.8 147.52L363.17 147.52L360.99 143.59zM358.89 147.18L363.26 147.18L361.07 143.24zM358.97 146.49L363.34 146.49L361.16 142.56zM359.06 147.96L363.43 147.96L361.24 144.03zM359.14 146.72L363.51 146.72L361.33 142.79zM359.23 147.48L363.6 147.48L361.41 143.55zM359.31 147.45L363.68 147.45L361.5 143.52zM359.4 147.83L363.77 147.83L361.58 143.9zM359.48 148.27L363.85 148.27L361.67 144.33zM359.57 147.99L363.94 147.99L361.75 144.05zM359.65 146.35L364.02 146.35L361.84 142.42zM359.74 147.98L364.11 147.98L361.92 144.04zM359.82 147.54L364.19 147.54L362.01 143.61zM359.91 146.66L364.28 146.66L362.09 142.72zM359.99 148.51L364.36 148.51L362.18 144.58zM360.08 147.04L364.45 147.04L362.26 143.11zM360.16 147.59L364.53 147.59L362.35 143.66zM360.25 147.19L364.62 147.19L362.43 143.26zM360.33 146.8L364.7 146.8L362.51 142.87zM360.41 147.38L364.78 147.38L362.6 143.45zM360.5 147.41L364.87 147.41L362.68 143.48zM360.58 146.88L364.95 146.88L362.77 142.95zM360.67 146.93L365.04 146.93L362.85 143zM360.75 147.71L365.12 147.71L362.94 143.78zM360.84 147.41L365.21 147.41L363.02 143.47zM360.92 148.07L365.29 148.07L363.11 144.14zM361.01 146.55L365.38 146.55L363.19 142.62zM361.09 147.99L365.46 147.99L363.28 144.06zM361.18 147.19L365.55 147.19L363.36 143.26zM361.26 146.29L365.63 146.29L363.45 142.36zM361.35 146.83L365.72 146.83L363.53 142.9zM361.43 147.46L365.8 147.46L363.62 143.53zM361.52 147.71L365.89 147.71L363.7 143.78zM361.6 147.65L365.97 147.65L363.79 143.72zM361.69 146.76L366.06 146.76L363.87 142.83zM361.77 147.1L366.14 147.1L363.96 143.16zM361.86 147.29L366.23 147.29L364.04 143.36zM361.94 145.79L366.31 145.79L364.13 141.86zM362.03 147.77L366.4 147.77L364.21 143.84zM362.11 147.57L366.48 147.57L364.3 143.64zM362.2 147.5L366.57 147.5L364.38 143.57zM362.28 147.16L366.65 147.16L364.47 143.23zM362.37 147.11L366.74 147.11L364.55 143.17zM362.45 147.44L366.82 147.44L364.64 143.51zM362.54 146.86L366.91 146.86L364.72 142.93zM362.62 146.97L366.99 146.97L364.81 143.04zM362.71 147.46L367.08 147.46L364.89 143.53zM362.79 148.7L367.16 148.7L364.98 144.77zM362.87 146.83L367.24 146.83L365.06 142.9zM362.96 147.84L367.33 147.84L365.14 143.9zM363.04 147.67L367.41 147.67L365.23 143.74zM363.13 147.38L367.5 147.38L365.31 143.45zM363.21 148.01L367.58 148.01L365.4 144.08zM363.3 147.77L367.67 147.77L365.48 143.83zM363.38 147.27L367.75 147.27L365.57 143.33zM363.47 147.51L367.84 147.51L365.65 143.57zM363.55 147.13L367.92 147.13L365.74 143.2zM363.64 147.81L368.01 147.81L365.82 143.87zM363.72 147.45L368.09 147.45L365.91 143.52zM363.81 147.93L368.18 147.93L365.99 143.99zM363.89 147.48L368.26 147.48L366.08 143.55zM363.98 147.15L368.35 147.15L366.16 143.22zM364.06 147.46L368.43 147.46L366.25 143.53zM364.15 148.14L368.52 148.14L366.33 144.21zM364.23 147.43L368.6 147.43L366.42 143.49zM364.32 147.23L368.69 147.23L366.5 143.3zM364.4 146.67L368.77 146.67L366.59 142.73zM364.49 147.34L368.86 147.34L366.67 143.41zM364.57 147.55L368.94 147.55L366.76 143.62zM364.66 147.99L369.03 147.99L366.84 144.06zM364.74 146.17L369.11 146.17L366.93 142.24zM364.83 147.86L369.2 147.86L367.01 143.93zM364.91 147.96L369.28 147.96L367.1 144.03zM365 147.4L369.37 147.4L367.18 143.47zM365.08 148.36L369.45 148.36L367.27 144.43zM365.17 146.7L369.54 146.7L367.35 142.76zM365.25 147.21L369.62 147.21L367.44 143.28zM365.33 147.03L369.7 147.03L367.52 143.1zM365.42 147.88L369.79 147.88L367.6 143.94zM365.5 147.6L369.87 147.6L367.69 143.67zM365.59 146.82L369.96 146.82L367.77 142.88zM365.67 146.79L370.04 146.79L367.86 142.86zM365.76 145.68L370.13 145.68L367.94 141.74zM365.84 146.68L370.21 146.68L368.03 142.74zM365.93 148.4L370.3 148.4L368.11 144.46zM366.01 147.26L370.38 147.26L368.2 143.32zM366.1 147.51L370.47 147.51L368.28 143.58zM366.18 146.67L370.55 146.67L368.37 142.74zM366.27 147.36L370.64 147.36L368.45 143.42zM366.35 147.02L370.72 147.02L368.54 143.09zM366.44 147.49L370.81 147.49L368.62 143.55zM366.52 146.95L370.89 146.95L368.71 143.02zM366.61 146.46L370.98 146.46L368.79 142.53zM366.69 147.65L371.06 147.65L368.88 143.72zM366.78 148.47L371.15 148.47L368.96 144.54zM366.86 147.89L371.23 147.89L369.05 143.96zM366.95 146.4L371.32 146.4L369.13 142.47zM367.03 147.17L371.4 147.17L369.22 143.24zM367.12 147.47L371.49 147.47L369.3 143.54zM367.2 147.85L371.57 147.85L369.39 143.92zM367.29 146.69L371.66 146.69L369.47 142.76zM367.37 147.13L371.74 147.13L369.56 143.2zM367.46 147.36L371.83 147.36L369.64 143.43zM367.54 147.61L371.91 147.61L369.73 143.68zM367.63 147.39L372 147.39L369.81 143.45zM367.71 147.48L372.08 147.48L369.9 143.55zM367.79 146.97L372.16 146.97L369.98 143.03zM367.88 146.56L372.25 146.56L370.06 142.63zM367.96 148.42L372.33 148.42L370.15 144.49zM368.05 148.13L372.42 148.13L370.23 144.2zM368.13 147.35L372.5 147.35L370.32 143.42zM368.22 147.25L372.59 147.25L370.4 143.32zM368.3 148.19L372.67 148.19L370.49 144.26zM368.39 147.65L372.76 147.65L370.57 143.72zM368.47 147.53L372.84 147.53L370.66 143.6zM368.56 147.55L372.93 147.55L370.74 143.62zM369.04 139.48L373.41 139.48L371.22 135.55zM369.46 136.14L373.83 136.14L371.65 132.21zM369.89 135.47L374.26 135.47L372.07 131.54zM370.31 133.44L374.68 133.44L372.5 129.51zM370.74 133.6L375.11 133.6L372.92 129.66zM371.16 130.79L375.53 130.79L373.34 126.86zM371.58 134.12L375.95 134.12L373.77 130.19zM372.01 131.04L376.38 131.04L374.19 127.11zM372.43 128.75L376.8 128.75L374.62 124.82zM372.86 129.49L377.23 129.49L375.04 125.56zM373.28 125.79L377.65 125.79L375.47 121.85zM373.7 125.29L378.07 125.29L375.89 121.36zM374.13 125.72L378.5 125.72L376.31 121.78zM374.55 123.7L378.92 123.7L376.74 119.76zM374.98 124.73L379.35 124.73L377.16 120.8zM375.4 123.23L379.77 123.23L377.59 119.3zM375.83 121.84L380.2 121.84L378.01 117.91zM376.25 122.5L380.62 122.5L378.43 118.56zM376.67 118.68L381.04 118.68L378.86 114.75zM377.1 119.92L381.47 119.92L379.28 115.99zM377.52 117.26L381.89 117.26L379.71 113.33zM377.95 117.92L382.32 117.92L380.13 113.98zM378.37 116.7L382.74 116.7L380.56 112.77zM378.79 117.44L383.16 117.44L380.98 113.51zM379.22 116.08L383.59 116.08L381.4 112.15zM379.64 115.56L384.01 115.56L381.83 111.63zM380.07 114.16L384.44 114.16L382.25 110.23zM380.49 112.21L384.86 112.21L382.68 108.28zM380.92 113.83L385.29 113.83L383.1 109.9zM381.34 112.76L385.71 112.76L383.52 108.83zM381.76 111.56L386.13 111.56L383.95 107.62zM382.19 110.38L386.56 110.38L384.37 106.45zM382.61 110.92L386.98 110.92L384.8 106.99zM383.04 110.64L387.41 110.64L385.22 106.7zM383.46 110.22L387.83 110.22L385.65 106.29zM383.88 108.9L388.25 108.9L386.07 104.97zM384.31 108L388.68 108L386.49 104.07zM384.73 108.45L389.1 108.45L386.92 104.52zM385.16 107.4L389.53 107.4L387.34 103.46zM385.58 105.55L389.95 105.55L387.77 101.62zM386.01 105.86L390.38 105.86L388.19 101.92zM386.43 105.89L390.8 105.89L388.61 101.96zM386.85 103.82L391.22 103.82L389.04 99.89zM387.28 103.23L391.65 103.23L389.46 99.29zM387.7 102.76L392.07 102.76L389.89 98.83zM388.13 102.12L392.5 102.12L390.31 98.19zM388.55 102.78L392.92 102.78L390.74 98.84zM388.97 101.52L393.34 101.52L391.16 97.59zM389.4 100.83L393.77 100.83L391.58 96.9zM389.82 100.5L394.19 100.5L392.01 96.57zM390.25 102.11L394.62 102.11L392.43 98.18zM390.67 99.56L395.04 99.56L392.86 95.63zM391.09 98.59L395.46 98.59L393.28 94.66zM391.52 97.89L395.89 97.89L393.7 93.96zM391.94 98.27L396.31 98.27L394.13 94.34zM392.37 97.36L396.74 97.36L394.55 93.43zM392.79 98.96L397.16 98.96L394.98 95.03zM393.22 98.08L397.59 98.08L395.4 94.15zM393.64 99.26L398.01 99.26L395.82 95.33zM394.06 95.59L398.43 95.59L396.25 91.66zM394.49 92.94L398.86 92.94L396.67 89.01zM394.91 92.29L399.28 92.29L397.1 88.36zM395.34 95.11L399.71 95.11L397.52 91.18zM395.76 92.56L400.13 92.56L397.95 88.63zM396.18 91.37L400.55 91.37L398.37 87.43zM396.61 92.68L400.98 92.68L398.79 88.74zM397.32 101.72L401.69 101.72L399.5 97.79zM397.67 102.36L402.04 102.36L399.85 98.43zM398.02 105.67L402.39 105.67L400.21 101.73zM398.38 105.93L402.75 105.93L400.56 102zM398.73 107.07L403.1 107.07L400.91 103.14zM399.08 107.15L403.45 107.15L401.27 103.22zM399.44 109.09L403.81 109.09L401.62 105.16zM399.79 110.51L404.16 110.51L401.98 106.57zM400.14 108.92L404.51 108.92L402.33 104.99zM400.5 111.18L404.87 111.18L402.68 107.25zM400.85 110.33L405.22 110.33L403.04 106.4zM401.2 111.95L405.57 111.95L403.39 108.02zM401.56 112.23L405.93 112.23L403.74 108.3zM401.91 111.01L406.28 111.01L404.1 107.08zM402.26 110.8L406.63 110.8L404.45 106.87zM402.62 112.78L406.99 112.78L404.8 108.84zM402.97 113.35L407.34 113.35L405.16 109.42zM403.32 113L407.69 113L405.51 109.06zM403.68 114.07L408.05 114.07L405.86 110.13zM404.03 115.44L408.4 115.44L406.22 111.5zM404.38 114.13L408.75 114.13L406.57 110.19zM404.74 116.42L409.11 116.42L406.92 112.48zM405.09 114.2L409.46 114.2L407.28 110.27zM405.45 115.29L409.82 115.29L407.63 111.36zM405.8 114.87L410.17 114.87L407.98 110.93zM406.15 116.6L410.52 116.6L408.34 112.67zM406.51 116.14L410.88 116.14L408.69 112.2zM406.86 115.11L411.23 115.11L409.04 111.18zM407.21 114.56L411.58 114.56L409.4 110.63zM407.57 115.22L411.94 115.22L409.75 111.29zM407.92 115.81L412.29 115.81L410.1 111.87zM408.27 117.34L412.64 117.34L410.46 113.41zM408.63 115.95L413 115.95L410.81 112.02zM408.98 116.5L413.35 116.5L411.16 112.57zM409.33 117.06L413.7 117.06L411.52 113.12zM409.69 115.7L414.06 115.7L411.87 111.77zM410.04 117.74L414.41 117.74L412.23 113.81zM410.39 115.54L414.76 115.54L412.58 111.61zM410.75 117.88L415.12 117.88L412.93 113.95zM411.1 118.03L415.47 118.03L413.29 114.09zM411.45 117.61L415.82 117.61L413.64 113.68zM411.81 118.84L416.18 118.84L413.99 114.91zM412.16 118.17L416.53 118.17L414.35 114.24zM412.51 117.77L416.88 117.77L414.7 113.84zM412.87 119.5L417.24 119.5L415.05 115.57zM413.22 118.8L417.59 118.8L415.41 114.87zM413.57 119.41L417.94 119.41L415.76 115.48zM413.93 118.63L418.3 118.63L416.11 114.7zM414.28 117.27L418.65 117.27L416.47 113.33zM414.64 118.8L419.01 118.8L416.82 114.87zM414.99 118.66L419.36 118.66L417.17 114.73zM415.34 118.36L419.71 118.36L417.53 114.43zM415.7 119.67L420.07 119.67L417.88 115.74zM416.05 118.52L420.42 118.52L418.23 114.58zM416.4 119.28L420.77 119.28L418.59 115.35zM416.76 119.47L421.13 119.47L418.94 115.53zM417.11 120.52L421.48 120.52L419.29 116.59zM417.46 119.59L421.83 119.59L419.65 115.66zM417.82 118.13L422.19 118.13L420 114.2zM418.17 118.03L422.54 118.03L420.35 114.1zM418.52 119.48L422.89 119.48L420.71 115.55zM418.88 119.21L423.25 119.21L421.06 115.27zM419.23 119.72L423.6 119.72L421.42 115.79zM419.58 120.4L423.95 120.4L421.77 116.47zM419.94 121.11L424.31 121.11L422.12 117.17zM420.29 117.94L424.66 117.94L422.48 114zM420.64 120.47L425.01 120.47L422.83 116.53zM421 119.42L425.37 119.42L423.18 115.48zM421.35 118.23L425.72 118.23L423.54 114.3zM421.7 120.06L426.07 120.06L423.89 116.13zM422.06 119.91L426.43 119.91L424.24 115.98zM422.41 119.56L426.78 119.56L424.6 115.63zM422.76 120.18L427.13 120.18L424.95 116.25zM423.12 119.66L427.49 119.66L425.3 115.73zM423.47 120.25L427.84 120.25L425.66 116.32zM423.83 118.94L428.2 118.94L426.01 115.01zM424.18 119.57L428.55 119.57L426.36 115.64zM424.53 121.15L428.9 121.15L426.72 117.22zM424.89 121.33L429.26 121.33L427.07 117.39z" stroke="#2848e0" stroke-width="1.05" fill="none"/>
<path d="M397.18 95.17L400.98 95.17L399.08 91.75zM397.18 98.57L400.98 98.57L399.08 95.15z" stroke="#2848e0" stroke-width="1.0" fill="none"/>
<path d="M346.77 147L350.95 147L348.86 150.76zM346.9 146.98L351.08 146.98L348.99 150.74zM347.03 147.05L351.21 147.05L349.12 150.82zM347.16 146.09L351.34 146.09L349.25 149.86zM347.29 147.04L351.47 147.04L349.38 150.8zM347.42 146.89L351.6 146.89L349.51 150.65zM347.56 146.54L351.74 146.54L349.65 150.3zM347.69 147.77L351.87 147.77L349.78 151.53zM347.82 146.37L352 146.37L349.91 150.14zM347.95 146.29L352.13 146.29L350.04 150.05zM348.08 145.82L352.26 145.82L350.17 149.58zM348.21 147.18L352.39 147.18L350.3 150.95zM348.35 146.89L352.53 146.89L350.44 150.65zM348.48 146.5L352.66 146.5L350.57 150.26zM348.61 146.83L352.79 146.83L350.7 150.6zM348.74 147.45L352.92 147.45L350.83 151.22zM348.87 146.09L353.05 146.09L350.96 149.86zM349 146.78L353.18 146.78L351.09 150.54zM349.14 146.41L353.32 146.41L351.23 150.18zM349.27 147.23L353.45 147.23L351.36 150.99zM349.4 146.06L353.58 146.06L351.49 149.82zM349.53 146.81L353.71 146.81L351.62 150.58zM349.66 147.03L353.84 147.03L351.75 150.79zM349.79 146.16L353.97 146.16L351.88 149.92zM349.93 145.98L354.11 145.98L352.02 149.74zM350.06 147.15L354.24 147.15L352.15 150.91zM350.19 146.04L354.37 146.04L352.28 149.8zM350.32 145.68L354.5 145.68L352.41 149.44zM350.45 146.46L354.63 146.46L352.54 150.22zM350.58 147.42L354.76 147.42L352.67 151.18zM350.72 146.28L354.9 146.28L352.81 150.04zM350.85 146L355.03 146L352.94 149.76zM350.98 147.2L355.16 147.2L353.07 150.96zM351.11 145.65L355.29 145.65L353.2 149.41zM351.24 146.72L355.42 146.72L353.33 150.48zM351.37 146.68L355.55 146.68L353.46 150.44zM351.51 145.98L355.69 145.98L353.6 149.74zM351.64 146.49L355.82 146.49L353.73 150.25zM351.77 145.89L355.95 145.89L353.86 149.65zM351.9 146.61L356.08 146.61L353.99 150.37zM352.03 146.38L356.21 146.38L354.12 150.14zM352.16 146.59L356.34 146.59L354.25 150.35zM352.3 146.47L356.48 146.47L354.39 150.23zM352.43 146.27L356.61 146.27L354.52 150.03zM352.56 146.33L356.74 146.33L354.65 150.09zM352.69 146.78L356.87 146.78L354.78 150.54zM352.82 146.07L357 146.07L354.91 149.83zM352.95 146.66L357.13 146.66L355.04 150.42zM353.09 145.91L357.27 145.91L355.18 149.68zM353.22 146.25L357.4 146.25L355.31 150.01zM353.35 146.66L357.53 146.66L355.44 150.42zM353.48 147.03L357.66 147.03L355.57 150.79zM353.61 146.58L357.79 146.58L355.7 150.34zM353.74 145.81L357.92 145.81L355.83 149.57zM353.88 146.5L358.06 146.5L355.97 150.26zM354.01 146.05L358.19 146.05L356.1 149.81zM354.14 146.65L358.32 146.65L356.23 150.42zM354.27 146.79L358.45 146.79L356.36 150.55zM354.4 147.01L358.58 147.01L356.49 150.77zM354.53 147.72L358.71 147.72L356.62 151.48zM354.67 146.43L358.85 146.43L356.76 150.19zM354.8 146.59L358.98 146.59L356.89 150.35zM354.93 146.64L359.11 146.64L357.02 150.4zM355.06 146.16L359.24 146.16L357.15 149.92zM355.19 147.17L359.37 147.17L357.28 150.94zM355.32 145.63L359.5 145.63L357.41 149.39zM355.46 147.45L359.64 147.45L357.55 151.21zM355.59 146.46L359.77 146.46L357.68 150.23zM355.72 147.29L359.9 147.29L357.81 151.06zM355.85 146.77L360.03 146.77L357.94 150.53zM355.98 145.94L360.16 145.94L358.07 149.71zM356.11 147.47L360.29 147.47L358.2 151.23zM356.25 146.51L360.43 146.51L358.34 150.27zM356.38 146.55L360.56 146.55L358.47 150.31zM356.51 146.51L360.69 146.51L358.6 150.27zM356.64 146.46L360.82 146.46L358.73 150.23zM356.77 146.15L360.95 146.15L358.86 149.91zM356.9 146.33L361.08 146.33L358.99 150.09zM357.04 146.4L361.22 146.4L359.13 150.16zM357.17 146.1L361.35 146.1L359.26 149.86zM357.3 146.23L361.48 146.23L359.39 149.99zM357.43 146.69L361.61 146.69L359.52 150.45zM357.56 147.32L361.74 147.32L359.65 151.08zM357.69 146.16L361.87 146.16L359.78 149.92zM357.83 146.81L362.01 146.81L359.92 150.57zM357.96 145.67L362.14 145.67L360.05 149.43zM358.09 146.94L362.27 146.94L360.18 150.7zM358.22 147.31L362.4 147.31L360.31 151.07zM358.35 145.96L362.53 145.96L360.44 149.72zM358.48 147.04L362.66 147.04L360.57 150.8zM358.62 147.48L362.8 147.48L360.71 151.24zM358.75 145.94L362.93 145.94L360.84 149.7zM358.88 147.45L363.06 147.45L360.97 151.21zM359.01 145.86L363.19 145.86L361.1 149.62zM359.14 147.16L363.32 147.16L361.23 150.93zM359.27 146.38L363.45 146.38L361.36 150.14zM359.41 146.49L363.59 146.49L361.5 150.25zM359.54 147.66L363.72 147.66L361.63 151.42zM359.67 146.63L363.85 146.63L361.76 150.39zM359.8 146.86L363.98 146.86L361.89 150.62zM359.93 146.54L364.11 146.54L362.02 150.31zM360.06 146.31L364.24 146.31L362.15 150.07zM360.2 145.71L364.38 145.71L362.29 149.47zM360.33 146.75L364.51 146.75L362.42 150.52zM360.46 146.67L364.64 146.67L362.55 150.44zM360.59 145.38L364.77 145.38L362.68 149.14zM360.72 146.2L364.9 146.2L362.81 149.96zM360.85 146.18L365.03 146.18L362.94 149.94zM360.99 147.5L365.17 147.5L363.08 151.26zM361.12 147.42L365.3 147.42L363.21 151.18zM361.25 146.94L365.43 146.94L363.34 150.7zM361.38 146.73L365.56 146.73L363.47 150.49zM361.51 146.34L365.69 146.34L363.6 150.1zM361.64 145.04L365.82 145.04L363.73 148.81zM361.78 147.34L365.96 147.34L363.87 151.1zM361.91 146.85L366.09 146.85L364 150.62zM362.04 146.26L366.22 146.26L364.13 150.02zM362.17 146.46L366.35 146.46L364.26 150.22zM362.3 145.97L366.48 145.97L364.39 149.73zM362.43 146.78L366.61 146.78L364.52 150.55zM362.57 147.14L366.75 147.14L364.66 150.9zM362.7 145.42L366.88 145.42L364.79 149.18zM362.83 146.37L367.01 146.37L364.92 150.13zM362.96 147.31L367.14 147.31L365.05 151.07zM363.09 146.82L367.27 146.82L365.18 150.58zM363.22 146.66L367.4 146.66L365.31 150.42zM363.36 147.48L367.54 147.48L365.45 151.24zM363.49 146.18L367.67 146.18L365.58 149.94zM363.62 146.54L367.8 146.54L365.71 150.3zM363.75 146.84L367.93 146.84L365.84 150.6zM363.88 147L368.06 147L365.97 150.76zM364.01 145.68L368.19 145.68L366.1 149.44zM364.15 146.67L368.33 146.67L366.24 150.44zM364.28 147.08L368.46 147.08L366.37 150.84zM364.41 147.81L368.59 147.81L366.5 151.57zM364.54 147.24L368.72 147.24L366.63 151.01zM364.67 146.23L368.85 146.23L366.76 149.99zM364.8 145.77L368.98 145.77L366.89 149.54zM364.94 147.3L369.12 147.3L367.03 151.06zM365.07 147.81L369.25 147.81L367.16 151.57zM365.2 146.61L369.38 146.61L367.29 150.38zM365.33 146.66L369.51 146.66L367.42 150.42zM365.46 146.14L369.64 146.14L367.55 149.9zM365.59 147.04L369.77 147.04L367.68 150.81zM365.73 146.57L369.91 146.57L367.82 150.34zM365.86 147.7L370.04 147.7L367.95 151.47zM365.99 147.35L370.17 147.35L368.08 151.11zM366.12 146.95L370.3 146.95L368.21 150.71zM366.25 146.89L370.43 146.89L368.34 150.65zM366.38 146.33L370.56 146.33L368.47 150.09zM366.52 145.93L370.7 145.93L368.61 149.69zM366.65 147.45L370.83 147.45L368.74 151.22zM366.78 145.67L370.96 145.67L368.87 149.43zM366.91 147.07L371.09 147.07L369 150.83zM367.04 146.88L371.22 146.88L369.13 150.64zM367.17 145.99L371.35 145.99L369.26 149.75zM367.31 148.02L371.49 148.02L369.4 151.78zM367.44 147.47L371.62 147.47L369.53 151.23zM367.57 147.11L371.75 147.11L369.66 150.87zM367.7 146.59L371.88 146.59L369.79 150.35zM367.83 146.01L372.01 146.01L369.92 149.77zM367.96 146L372.14 146L370.05 149.76zM368.1 147.16L372.28 147.16L370.19 150.92zM368.23 146.2L372.41 146.2L370.32 149.96zM368.36 146.87L372.54 146.87L370.45 150.63zM368.49 145.77L372.67 145.77L370.58 149.53zM368.62 146.79L372.8 146.79L370.71 150.55zM369.37 134.89L373.55 134.89L371.46 138.65zM370.03 132.1L374.21 132.1L372.12 135.86zM370.69 129.88L374.87 129.88L372.78 133.64zM371.34 127.95L375.52 127.95L373.43 131.71zM372 126.22L376.18 126.22L374.09 129.98zM372.66 124.63L376.84 124.63L374.75 128.39zM373.32 123.14L377.5 123.14L375.41 126.9zM373.98 121.74L378.16 121.74L376.07 125.5zM374.64 120.4L378.82 120.4L376.73 124.17zM375.29 119.13L379.47 119.13L377.38 122.89zM375.95 117.91L380.13 117.91L378.04 121.67zM376.61 116.74L380.79 116.74L378.7 120.5zM377.27 115.6L381.45 115.6L379.36 119.37zM377.93 114.51L382.11 114.51L380.02 118.27zM378.59 113.44L382.77 113.44L380.68 117.2zM379.24 112.41L383.42 112.41L381.33 116.17zM379.9 111.4L384.08 111.4L381.99 115.16zM380.56 110.42L384.74 110.42L382.65 114.18zM381.22 109.46L385.4 109.46L383.31 113.22zM381.88 108.52L386.06 108.52L383.97 112.28zM382.54 107.6L386.72 107.6L384.63 111.37zM383.19 106.68L387.37 106.68L385.28 110.44zM383.85 105.68L388.03 105.68L385.94 109.44zM384.51 104.7L388.69 104.7L386.6 108.46zM385.17 103.74L389.35 103.74L387.26 107.5zM385.83 102.79L390.01 102.79L387.92 106.56zM386.49 101.86L390.67 101.86L388.58 105.62zM387.14 100.94L391.32 100.94L389.23 104.71zM387.8 100.04L391.98 100.04L389.89 103.8zM388.46 99.15L392.64 99.15L390.55 102.91zM389.12 98.27L393.3 98.27L391.21 102.03zM389.78 97.4L393.96 97.4L391.87 101.16zM390.44 96.55L394.62 96.55L392.53 100.31zM391.09 95.7L395.27 95.7L393.18 99.46zM391.75 94.87L395.93 94.87L393.84 98.63zM392.41 94.05L396.59 94.05L394.5 97.81zM393.07 93.23L397.25 93.23L395.16 96.99zM393.73 92.43L397.91 92.43L395.82 96.19zM394.39 91.63L398.57 91.63L396.48 95.4zM395.04 90.85L399.22 90.85L397.13 94.61zM395.7 90.07L399.88 90.07L397.79 93.83zM396.36 89.31L400.54 89.31L398.45 93.07zM397.02 88.55L401.2 88.55L399.11 92.31zM397.68 87.79L401.86 87.79L399.77 91.56zM398.34 87.05L402.52 87.05L400.43 90.81zM398.99 86.32L403.17 86.32L401.08 90.08zM399.65 85.59L403.83 85.59L401.74 89.35zM400.31 84.87L404.49 84.87L402.4 88.63zM400.97 84.15L405.15 84.15L403.06 87.92zM401.63 83.45L405.81 83.45L403.72 87.21zM402.29 82.75L406.47 82.75L404.38 86.51zM402.94 82.06L407.12 82.06L405.03 85.82zM403.6 81.37L407.78 81.37L405.69 85.13zM404.26 80.69L408.44 80.69L406.35 84.45zM404.92 80.02L409.1 80.02L407.01 83.78zM405.58 79.35L409.76 79.35L407.67 83.11zM406.24 78.69L410.42 78.69L408.33 82.45zM406.89 78.04L411.07 78.04L408.98 81.8zM407.55 77.39L411.73 77.39L409.64 81.15zM408.21 76.74L412.39 76.74L410.3 80.51zM408.87 76.11L413.05 76.11L410.96 79.87zM409.53 75.47L413.71 75.47L411.62 79.24zM410.19 74.85L414.37 74.85L412.28 78.61zM410.84 74.23L415.02 74.23L412.93 77.99zM411.5 73.61L415.68 73.61L413.59 77.37zM412.16 73L416.34 73L414.25 76.76zM413.26 88.02L417.44 88.02L415.35 91.79zM413.81 88.82L417.99 88.82L415.9 92.58zM414.36 89.56L418.54 89.56L416.45 93.32zM414.9 90.25L419.08 90.25L416.99 94.01zM415.45 90.9L419.63 90.9L417.54 94.66zM416 91.51L420.18 91.51L418.09 95.28zM416.55 92.09L420.73 92.09L418.64 95.85zM417.1 92.64L421.28 92.64L419.19 96.4zM417.65 93.15L421.83 93.15L419.74 96.91zM418.2 93.64L422.38 93.64L420.29 97.4zM418.74 94.1L422.92 94.1L420.83 97.86zM419.29 94.54L423.47 94.54L421.38 98.3zM419.84 94.96L424.02 94.96L421.93 98.72zM420.39 95.36L424.57 95.36L422.48 99.12zM420.94 95.74L425.12 95.74L423.03 99.5zM421.49 96.1L425.67 96.1L423.58 99.86zM422.04 96.45L426.22 96.45L424.13 100.21zM422.58 96.78L426.76 96.78L424.67 100.54zM423.13 97.09L427.31 97.09L425.22 100.85zM423.68 97.4L427.86 97.4L425.77 101.16zM424.23 97.69L428.41 97.69L426.32 101.45zM424.78 97.97L428.96 97.97L426.87 101.73zM425.33 98.23L429.51 98.23L427.42 102zM425.88 98.49L430.06 98.49L427.97 102.25zM426.42 98.74L430.6 98.74L428.51 102.5zM426.97 98.98L431.15 98.98L429.06 102.74zM427.52 99.21L431.7 99.21L429.61 102.97zM428.07 99.43L432.25 99.43L430.16 103.19zM428.62 99.64L432.8 99.64L430.71 103.4zM429.17 99.85L433.35 99.85L431.26 103.61zM429.72 100.05L433.9 100.05L431.81 103.81zM430.27 100.24L434.45 100.24L432.36 104zM430.81 100.43L434.99 100.43L432.9 104.19zM431.36 100.61L435.54 100.61L433.45 104.37zM431.91 100.78L436.09 100.78L434 104.54zM432.46 100.95L436.64 100.95L434.55 104.71zM433.01 101.12L437.19 101.12L435.1 104.88zM433.56 101.27L437.74 101.27L435.65 105.04zM434.11 101.43L438.29 101.43L436.2 105.19zM434.65 101.58L438.83 101.58L436.74 105.34zM435.2 101.72L439.38 101.72L437.29 105.49zM435.75 101.86L439.93 101.86L437.84 105.63zM436.3 102L440.48 102L438.39 105.76zM436.85 102.14L441.03 102.14L438.94 105.9zM437.4 102.26L441.58 102.26L439.49 106.03zM437.95 102.39L442.13 102.39L440.04 106.15zM438.49 102.51L442.67 102.51L440.58 106.28zM439.04 102.63L443.22 102.63L441.13 106.4zM439.59 102.75L443.77 102.75L441.68 106.51zM440.14 102.86L444.32 102.86L442.23 106.62zM440.69 102.97L444.87 102.97L442.78 106.74zM441.24 103.08L445.42 103.08L443.33 106.84zM441.79 103.19L445.97 103.19L443.88 106.95zM442.33 103.29L446.51 103.29L444.42 107.05zM442.88 103.39L447.06 103.39L444.97 107.15zM443.43 103.49L447.61 103.49L445.52 107.25zM443.98 103.58L448.16 103.58L446.07 107.34zM444.53 103.67L448.71 103.67L446.62 107.44zM445.08 103.77L449.26 103.77L447.17 107.53zM445.63 103.85L449.81 103.85L447.72 107.62zM446.18 103.94L450.36 103.94L448.27 107.7zM446.72 104.03L450.9 104.03L448.81 107.79zM447.27 104.11L451.45 104.11L449.36 107.87zM447.82 104.19L452 104.19L449.91 107.95zM448.37 104.27L452.55 104.27L450.46 108.03zM448.92 104.35L453.1 104.35L451.01 108.11zM449.47 104.42L453.65 104.42L451.56 108.19zM450.02 104.5L454.2 104.5L452.11 108.26zM450.56 104.57L454.74 104.57L452.65 108.33zM451.11 104.64L455.29 104.64L453.2 108.4zM451.66 104.71L455.84 104.71L453.75 108.47zM452.21 104.78L456.39 104.78L454.3 108.54zM452.76 104.85L456.94 104.85L454.85 108.61zM453.31 104.91L457.49 104.91L455.4 108.68zM453.86 104.98L458.04 104.98L455.95 108.74zM454.4 105.04L458.58 105.04L456.49 108.8zM454.95 105.1L459.13 105.1L457.04 108.87zM455.5 105.17L459.68 105.17L457.59 108.93zM456.05 105.23L460.23 105.23L458.14 108.99z" stroke="#52eab4" stroke-width="1.05" fill="none"/>
<path d="M412.79 77.55L416.59 77.55L414.69 80.97zM412.79 82.35L416.59 82.35L414.69 85.77z" stroke="#52eab4" stroke-width="1.0" fill="none"/>
<path d="M333.33 147a1.7 1.7 0 1 0 3.4 0a1.7 1.7 0 1 0 -3.4 0M333.54 148.2a1.7 1.7 0 1 0 3.4 0a1.7 1.7 0 1 0 -3.4 0M333.76 147.16a1.7 1.7 0 1 0 3.4 0a1.7 1.7 0 1 0 -3.4 0M333.97 148.4a1.7 1.7 0 1 0 3.4 0a1.7 1.7 0 1 0 -3.4 0M334.19 147.55a1.7 1.7 0 1 0 3.4 0a1.7 1.7 0 1 0 -3.4 0M334.4 148.54a1.7 1.7 0 1 0 3.4 0a1.7 1.7 0 1 0 -3.4 0M334.62 147.69a1.7 1.7 0 1 0 3.4 0a1.7 1.7 0 1 0 -3.4 0M334.83 148.06a1.7 1.7 0 1 0 3.4 0a1.7 1.7 0 1 0 -3.4 0M335.05 148.17a1.7 1.7 0 1 0 3.4 0a1.7 1.7 0 1 0 -3.4 0M335.26 147.47a1.7 1.7 0 1 0 3.4 0a1.7 1.7 0 1 0 -3.4 0M335.48 147.15a1.7 1.7 0 1 0 3.4 0a1.7 1.7 0 1 0 -3.4 0M335.69 147.54a1.7 1.7 0 1 0 3.4 0a1.7 1.7 0 1 0 -3.4 0M335.91 147.43a1.7 1.7 0 1 0 3.4 0a1.7 1.7 0 1 0 -3.4 0M336.12 147.19a1.7 1.7 0 1 0 3.4 0a1.7 1.7 0 1 0 -3.4 0M336.33 146.9a1.7 1.7 0 1 0 3.4 0a1.7 1.7 0 1 0 -3.4 0M336.55 147.02a1.7 1.7 0 1 0 3.4 0a1.7 1.7 0 1 0 -3.4 0M336.76 147.37a1.7 1.7 0 1 0 3.4 0a1.7 1.7 0 1 0 -3.4 0M336.98 146.45a1.7 1.7 0 1 0 3.4 0a1.7 1.7 0 1 0 -3.4 0M337.19 147.89a1.7 1.7 0 1 0 3.4 0a1.7 1.7 0 1 0 -3.4 0M337.41 147.14a1.7 1.7 0 1 0 3.4 0a1.7 1.7 0 1 0 -3.4 0M337.62 148.26a1.7 1.7 0 1 0 3.4 0a1.7 1.7 0 1 0 -3.4 0M337.84 146.22a1.7 1.7 0 1 0 3.4 0a1.7 1.7 0 1 0 -3.4 0M338.05 147.74a1.7 1.7 0 1 0 3.4 0a1.7 1.7 0 1 0 -3.4 0M338.27 147.51a1.7 1.7 0 1 0 3.4 0a1.7 1.7 0 1 0 -3.4 0M338.48 146.81a1.7 1.7 0 1 0 3.4 0a1.7 1.7 0 1 0 -3.4 0M338.7 147.71a1.7 1.7 0 1 0 3.4 0a1.7 1.7 0 1 0 -3.4 0M338.91 148.09a1.7 1.7 0 1 0 3.4 0a1.7 1.7 0 1 0 -3.4 0M339.12 148.67a1.7 1.7 0 1 0 3.4 0a1.7 1.7 0 1 0 -3.4 0M339.34 147.76a1.7 1.7 0 1 0 3.4 0a1.7 1.7 0 1 0 -3.4 0M339.55 146.43a1.7 1.7 0 1 0 3.4 0a1.7 1.7 0 1 0 -3.4 0M339.77 147.51a1.7 1.7 0 1 0 3.4 0a1.7 1.7 0 1 0 -3.4 0M339.98 146.61a1.7 1.7 0 1 0 3.4 0a1.7 1.7 0 1 0 -3.4 0M340.2 147.13a1.7 1.7 0 1 0 3.4 0a1.7 1.7 0 1 0 -3.4 0M340.41 147.86a1.7 1.7 0 1 0 3.4 0a1.7 1.7 0 1 0 -3.4 0M340.63 148.42a1.7 1.7 0 1 0 3.4 0a1.7 1.7 0 1 0 -3.4 0M340.84 147.72a1.7 1.7 0 1 0 3.4 0a1.7 1.7 0 1 0 -3.4 0M341.06 147.25a1.7 1.7 0 1 0 3.4 0a1.7 1.7 0 1 0 -3.4 0M341.27 147.73a1.7 1.7 0 1 0 3.4 0a1.7 1.7 0 1 0 -3.4 0M341.49 147.51a1.7 1.7 0 1 0 3.4 0a1.7 1.7 0 1 0 -3.4 0M341.7 147.28a1.7 1.7 0 1 0 3.4 0a1.7 1.7 0 1 0 -3.4 0M341.91 147.82a1.7 1.7 0 1 0 3.4 0a1.7 1.7 0 1 0 -3.4 0M342.13 148.45a1.7 1.7 0 1 0 3.4 0a1.7 1.7 0 1 0 -3.4 0M342.34 147.8a1.7 1.7 0 1 0 3.4 0a1.7 1.7 0 1 0 -3.4 0M342.56 147.29a1.7 1.7 0 1 0 3.4 0a1.7 1.7 0 1 0 -3.4 0M342.77 148.09a1.7 1.7 0 1 0 3.4 0a1.7 1.7 0 1 0 -3.4 0M342.99 148.23a1.7 1.7 0 1 0 3.4 0a1.7 1.7 0 1 0 -3.4 0M343.2 148.2a1.7 1.7 0 1 0 3.4 0a1.7 1.7 0 1 0 -3.4 0M343.42 147.76a1.7 1.7 0 1 0 3.4 0a1.7 1.7 0 1 0 -3.4 0M343.63 147.69a1.7 1.7 0 1 0 3.4 0a1.7 1.7 0 1 0 -3.4 0M343.85 147.66a1.7 1.7 0 1 0 3.4 0a1.7 1.7 0 1 0 -3.4 0M344.06 148.36a1.7 1.7 0 1 0 3.4 0a1.7 1.7 0 1 0 -3.4 0M344.28 147.61a1.7 1.7 0 1 0 3.4 0a1.7 1.7 0 1 0 -3.4 0M344.49 147.99a1.7 1.7 0 1 0 3.4 0a1.7 1.7 0 1 0 -3.4 0M344.7 148.17a1.7 1.7 0 1 0 3.4 0a1.7 1.7 0 1 0 -3.4 0M344.92 148.69a1.7 1.7 0 1 0 3.4 0a1.7 1.7 0 1 0 -3.4 0M345.13 148.27a1.7 1.7 0 1 0 3.4 0a1.7 1.7 0 1 0 -3.4 0M345.35 147.98a1.7 1.7 0 1 0 3.4 0a1.7 1.7 0 1 0 -3.4 0M345.56 147.55a1.7 1.7 0 1 0 3.4 0a1.7 1.7 0 1 0 -3.4 0M345.78 147.4a1.7 1.7 0 1 0 3.4 0a1.7 1.7 0 1 0 -3.4 0M345.99 147.61a1.7 1.7 0 1 0 3.4 0a1.7 1.7 0 1 0 -3.4 0M346.21 147.5a1.7 1.7 0 1 0 3.4 0a1.7 1.7 0 1 0 -3.4 0M346.42 148.28a1.7 1.7 0 1 0 3.4 0a1.7 1.7 0 1 0 -3.4 0M346.64 147.17a1.7 1.7 0 1 0 3.4 0a1.7 1.7 0 1 0 -3.4 0M346.85 147.16a1.7 1.7 0 1 0 3.4 0a1.7 1.7 0 1 0 -3.4 0M347.07 147.24a1.7 1.7 0 1 0 3.4 0a1.7 1.7 0 1 0 -3.4 0M347.28 147.92a1.7 1.7 0 1 0 3.4 0a1.7 1.7 0 1 0 -3.4 0M347.49 147.68a1.7 1.7 0 1 0 3.4 0a1.7 1.7 0 1 0 -3.4 0M347.71 147.9a1.7 1.7 0 1 0 3.4 0a1.7 1.7 0 1 0 -3.4 0M347.92 148.39a1.7 1.7 0 1 0 3.4 0a1.7 1.7 0 1 0 -3.4 0M348.14 147.82a1.7 1.7 0 1 0 3.4 0a1.7 1.7 0 1 0 -3.4 0M348.35 148.52a1.7 1.7 0 1 0 3.4 0a1.7 1.7 0 1 0 -3.4 0M348.57 148.65a1.7 1.7 0 1 0 3.4 0a1.7 1.7 0 1 0 -3.4 0M348.78 147.31a1.7 1.7 0 1 0 3.4 0a1.7 1.7 0 1 0 -3.4 0M349 147.31a1.7 1.7 0 1 0 3.4 0a1.7 1.7 0 1 0 -3.4 0M349.21 147.14a1.7 1.7 0 1 0 3.4 0a1.7 1.7 0 1 0 -3.4 0M349.43 147.88a1.7 1.7 0 1 0 3.4 0a1.7 1.7 0 1 0 -3.4 0M349.64 147.61a1.7 1.7 0 1 0 3.4 0a1.7 1.7 0 1 0 -3.4 0M349.86 147.32a1.7 1.7 0 1 0 3.4 0a1.7 1.7 0 1 0 -3.4 0M350.07 147.84a1.7 1.7 0 1 0 3.4 0a1.7 1.7 0 1 0 -3.4 0M350.28 148.8a1.7 1.7 0 1 0 3.4 0a1.7 1.7 0 1 0 -3.4 0M350.5 146.33a1.7 1.7 0 1 0 3.4 0a1.7 1.7 0 1 0 -3.4 0M350.71 146.91a1.7 1.7 0 1 0 3.4 0a1.7 1.7 0 1 0 -3.4 0M350.93 146.9a1.7 1.7 0 1 0 3.4 0a1.7 1.7 0 1 0 -3.4 0M351.14 147.57a1.7 1.7 0 1 0 3.4 0a1.7 1.7 0 1 0 -3.4 0M351.36 148.08a1.7 1.7 0 1 0 3.4 0a1.7 1.7 0 1 0 -3.4 0M351.57 147.57a1.7 1.7 0 1 0 3.4 0a1.7 1.7 0 1 0 -3.4 0M351.79 147.45a1.7 1.7 0 1 0 3.4 0a1.7 1.7 0 1 0 -3.4 0M352 148.4a1.7 1.7 0 1 0 3.4 0a1.7 1.7 0 1 0 -3.4 0M352.22 147.88a1.7 1.7 0 1 0 3.4 0a1.7 1.7 0 1 0 -3.4 0M352.43 147.28a1.7 1.7 0 1 0 3.4 0a1.7 1.7 0 1 0 -3.4 0M352.65 146.74a1.7 1.7 0 1 0 3.4 0a1.7 1.7 0 1 0 -3.4 0M352.86 147.25a1.7 1.7 0 1 0 3.4 0a1.7 1.7 0 1 0 -3.4 0M353.08 147.83a1.7 1.7 0 1 0 3.4 0a1.7 1.7 0 1 0 -3.4 0M353.29 148.34a1.7 1.7 0 1 0 3.4 0a1.7 1.7 0 1 0 -3.4 0M353.5 146.43a1.7 1.7 0 1 0 3.4 0a1.7 1.7 0 1 0 -3.4 0M353.72 147.53a1.7 1.7 0 1 0 3.4 0a1.7 1.7 0 1 0 -3.4 0M353.93 147.16a1.7 1.7 0 1 0 3.4 0a1.7 1.7 0 1 0 -3.4 0M354.15 147.58a1.7 1.7 0 1 0 3.4 0a1.7 1.7 0 1 0 -3.4 0M354.36 148.37a1.7 1.7 0 1 0 3.4 0a1.7 1.7 0 1 0 -3.4 0M354.58 146.34a1.7 1.7 0 1 0 3.4 0a1.7 1.7 0 1 0 -3.4 0M354.79 147.21a1.7 1.7 0 1 0 3.4 0a1.7 1.7 0 1 0 -3.4 0M355.01 146.89a1.7 1.7 0 1 0 3.4 0a1.7 1.7 0 1 0 -3.4 0M355.22 148.05a1.7 1.7 0 1 0 3.4 0a1.7 1.7 0 1 0 -3.4 0M355.44 147.61a1.7 1.7 0 1 0 3.4 0a1.7 1.7 0 1 0 -3.4 0M355.65 146.81a1.7 1.7 0 1 0 3.4 0a1.7 1.7 0 1 0 -3.4 0M355.87 147.8a1.7 1.7 0 1 0 3.4 0a1.7 1.7 0 1 0 -3.4 0M356.08 148.01a1.7 1.7 0 1 0 3.4 0a1.7 1.7 0 1 0 -3.4 0M356.29 148.24a1.7 1.7 0 1 0 3.4 0a1.7 1.7 0 1 0 -3.4 0M356.51 148.38a1.7 1.7 0 1 0 3.4 0a1.7 1.7 0 1 0 -3.4 0M356.72 147.12a1.7 1.7 0 1 0 3.4 0a1.7 1.7 0 1 0 -3.4 0M356.94 147.63a1.7 1.7 0 1 0 3.4 0a1.7 1.7 0 1 0 -3.4 0M357.15 148.63a1.7 1.7 0 1 0 3.4 0a1.7 1.7 0 1 0 -3.4 0M357.37 146.72a1.7 1.7 0 1 0 3.4 0a1.7 1.7 0 1 0 -3.4 0M357.58 146.86a1.7 1.7 0 1 0 3.4 0a1.7 1.7 0 1 0 -3.4 0M357.8 146.93a1.7 1.7 0 1 0 3.4 0a1.7 1.7 0 1 0 -3.4 0M358.01 148.66a1.7 1.7 0 1 0 3.4 0a1.7 1.7 0 1 0 -3.4 0M358.23 147.53a1.7 1.7 0 1 0 3.4 0a1.7 1.7 0 1 0 -3.4 0M358.44 146.85a1.7 1.7 0 1 0 3.4 0a1.7 1.7 0 1 0 -3.4 0M358.66 148.19a1.7 1.7 0 1 0 3.4 0a1.7 1.7 0 1 0 -3.4 0M358.87 148.06a1.7 1.7 0 1 0 3.4 0a1.7 1.7 0 1 0 -3.4 0M359.08 147.73a1.7 1.7 0 1 0 3.4 0a1.7 1.7 0 1 0 -3.4 0M359.3 148.76a1.7 1.7 0 1 0 3.4 0a1.7 1.7 0 1 0 -3.4 0M359.51 147.47a1.7 1.7 0 1 0 3.4 0a1.7 1.7 0 1 0 -3.4 0M359.73 147.02a1.7 1.7 0 1 0 3.4 0a1.7 1.7 0 1 0 -3.4 0M359.94 147.21a1.7 1.7 0 1 0 3.4 0a1.7 1.7 0 1 0 -3.4 0M360.16 146.73a1.7 1.7 0 1 0 3.4 0a1.7 1.7 0 1 0 -3.4 0M360.37 147.54a1.7 1.7 0 1 0 3.4 0a1.7 1.7 0 1 0 -3.4 0M360.59 147.61a1.7 1.7 0 1 0 3.4 0a1.7 1.7 0 1 0 -3.4 0M360.8 147.7a1.7 1.7 0 1 0 3.4 0a1.7 1.7 0 1 0 -3.4 0M361.02 148a1.7 1.7 0 1 0 3.4 0a1.7 1.7 0 1 0 -3.4 0M361.23 148.21a1.7 1.7 0 1 0 3.4 0a1.7 1.7 0 1 0 -3.4 0M361.45 148.02a1.7 1.7 0 1 0 3.4 0a1.7 1.7 0 1 0 -3.4 0M361.66 147.64a1.7 1.7 0 1 0 3.4 0a1.7 1.7 0 1 0 -3.4 0M361.87 147.91a1.7 1.7 0 1 0 3.4 0a1.7 1.7 0 1 0 -3.4 0M362.09 147.53a1.7 1.7 0 1 0 3.4 0a1.7 1.7 0 1 0 -3.4 0M362.3 147.55a1.7 1.7 0 1 0 3.4 0a1.7 1.7 0 1 0 -3.4 0M362.52 147.23a1.7 1.7 0 1 0 3.4 0a1.7 1.7 0 1 0 -3.4 0M362.73 147.89a1.7 1.7 0 1 0 3.4 0a1.7 1.7 0 1 0 -3.4 0M362.95 148.79a1.7 1.7 0 1 0 3.4 0a1.7 1.7 0 1 0 -3.4 0M363.16 148.15a1.7 1.7 0 1 0 3.4 0a1.7 1.7 0 1 0 -3.4 0M363.38 146.49a1.7 1.7 0 1 0 3.4 0a1.7 1.7 0 1 0 -3.4 0M363.59 147.16a1.7 1.7 0 1 0 3.4 0a1.7 1.7 0 1 0 -3.4 0M363.81 147.83a1.7 1.7 0 1 0 3.4 0a1.7 1.7 0 1 0 -3.4 0M364.02 147.71a1.7 1.7 0 1 0 3.4 0a1.7 1.7 0 1 0 -3.4 0M364.24 147.64a1.7 1.7 0 1 0 3.4 0a1.7 1.7 0 1 0 -3.4 0M364.45 147.86a1.7 1.7 0 1 0 3.4 0a1.7 1.7 0 1 0 -3.4 0M364.66 147.48a1.7 1.7 0 1 0 3.4 0a1.7 1.7 0 1 0 -3.4 0M364.88 147.2a1.7 1.7 0 1 0 3.4 0a1.7 1.7 0 1 0 -3.4 0M365.09 146.89a1.7 1.7 0 1 0 3.4 0a1.7 1.7 0 1 0 -3.4 0M365.31 147.8a1.7 1.7 0 1 0 3.4 0a1.7 1.7 0 1 0 -3.4 0M365.52 147.76a1.7 1.7 0 1 0 3.4 0a1.7 1.7 0 1 0 -3.4 0M365.74 147.78a1.7 1.7 0 1 0 3.4 0a1.7 1.7 0 1 0 -3.4 0M365.95 147.58a1.7 1.7 0 1 0 3.4 0a1.7 1.7 0 1 0 -3.4 0M366.17 146.98a1.7 1.7 0 1 0 3.4 0a1.7 1.7 0 1 0 -3.4 0M366.38 148.03a1.7 1.7 0 1 0 3.4 0a1.7 1.7 0 1 0 -3.4 0M366.6 146.32a1.7 1.7 0 1 0 3.4 0a1.7 1.7 0 1 0 -3.4 0M366.81 147.27a1.7 1.7 0 1 0 3.4 0a1.7 1.7 0 1 0 -3.4 0M367.03 146.95a1.7 1.7 0 1 0 3.4 0a1.7 1.7 0 1 0 -3.4 0M367.24 148.11a1.7 1.7 0 1 0 3.4 0a1.7 1.7 0 1 0 -3.4 0M367.45 147.81a1.7 1.7 0 1 0 3.4 0a1.7 1.7 0 1 0 -3.4 0M367.67 147.89a1.7 1.7 0 1 0 3.4 0a1.7 1.7 0 1 0 -3.4 0M367.88 147.56a1.7 1.7 0 1 0 3.4 0a1.7 1.7 0 1 0 -3.4 0M368.1 148.76a1.7 1.7 0 1 0 3.4 0a1.7 1.7 0 1 0 -3.4 0M368.31 147.3a1.7 1.7 0 1 0 3.4 0a1.7 1.7 0 1 0 -3.4 0M368.53 148.56a1.7 1.7 0 1 0 3.4 0a1.7 1.7 0 1 0 -3.4 0M368.74 147.37a1.7 1.7 0 1 0 3.4 0a1.7 1.7 0 1 0 -3.4 0M368.96 147a1.7 1.7 0 1 0 3.4 0a1.7 1.7 0 1 0 -3.4 0M370.17 134.94a1.7 1.7 0 1 0 3.4 0a1.7 1.7 0 1 0 -3.4 0M371.25 131.26a1.7 1.7 0 1 0 3.4 0a1.7 1.7 0 1 0 -3.4 0M372.32 128.31a1.7 1.7 0 1 0 3.4 0a1.7 1.7 0 1 0 -3.4 0M373.39 125.74a1.7 1.7 0 1 0 3.4 0a1.7 1.7 0 1 0 -3.4 0M374.47 123.43a1.7 1.7 0 1 0 3.4 0a1.7 1.7 0 1 0 -3.4 0M375.54 121.31a1.7 1.7 0 1 0 3.4 0a1.7 1.7 0 1 0 -3.4 0M376.61 119.33a1.7 1.7 0 1 0 3.4 0a1.7 1.7 0 1 0 -3.4 0M377.68 117.46a1.7 1.7 0 1 0 3.4 0a1.7 1.7 0 1 0 -3.4 0M378.76 115.69a1.7 1.7 0 1 0 3.4 0a1.7 1.7 0 1 0 -3.4 0M379.83 114a1.7 1.7 0 1 0 3.4 0a1.7 1.7 0 1 0 -3.4 0M380.9 112.39a1.7 1.7 0 1 0 3.4 0a1.7 1.7 0 1 0 -3.4 0M381.98 110.83a1.7 1.7 0 1 0 3.4 0a1.7 1.7 0 1 0 -3.4 0M383.05 109.33a1.7 1.7 0 1 0 3.4 0a1.7 1.7 0 1 0 -3.4 0M384.12 107.76a1.7 1.7 0 1 0 3.4 0a1.7 1.7 0 1 0 -3.4 0M385.2 106.17a1.7 1.7 0 1 0 3.4 0a1.7 1.7 0 1 0 -3.4 0M386.27 104.62a1.7 1.7 0 1 0 3.4 0a1.7 1.7 0 1 0 -3.4 0M387.34 103.11a1.7 1.7 0 1 0 3.4 0a1.7 1.7 0 1 0 -3.4 0M388.42 101.64a1.7 1.7 0 1 0 3.4 0a1.7 1.7 0 1 0 -3.4 0M389.49 100.2a1.7 1.7 0 1 0 3.4 0a1.7 1.7 0 1 0 -3.4 0M390.56 98.79a1.7 1.7 0 1 0 3.4 0a1.7 1.7 0 1 0 -3.4 0M391.64 97.41a1.7 1.7 0 1 0 3.4 0a1.7 1.7 0 1 0 -3.4 0M392.71 96.06a1.7 1.7 0 1 0 3.4 0a1.7 1.7 0 1 0 -3.4 0M393.78 94.74a1.7 1.7 0 1 0 3.4 0a1.7 1.7 0 1 0 -3.4 0M394.85 93.44a1.7 1.7 0 1 0 3.4 0a1.7 1.7 0 1 0 -3.4 0M395.93 92.17a1.7 1.7 0 1 0 3.4 0a1.7 1.7 0 1 0 -3.4 0M397 90.92a1.7 1.7 0 1 0 3.4 0a1.7 1.7 0 1 0 -3.4 0M398.07 89.69a1.7 1.7 0 1 0 3.4 0a1.7 1.7 0 1 0 -3.4 0M399.15 88.48a1.7 1.7 0 1 0 3.4 0a1.7 1.7 0 1 0 -3.4 0M400.22 87.3a1.7 1.7 0 1 0 3.4 0a1.7 1.7 0 1 0 -3.4 0M401.29 86.13a1.7 1.7 0 1 0 3.4 0a1.7 1.7 0 1 0 -3.4 0M402.37 84.98a1.7 1.7 0 1 0 3.4 0a1.7 1.7 0 1 0 -3.4 0M403.44 83.85a1.7 1.7 0 1 0 3.4 0a1.7 1.7 0 1 0 -3.4 0M404.51 82.74a1.7 1.7 0 1 0 3.4 0a1.7 1.7 0 1 0 -3.4 0M405.59 81.64a1.7 1.7 0 1 0 3.4 0a1.7 1.7 0 1 0 -3.4 0M406.66 80.56a1.7 1.7 0 1 0 3.4 0a1.7 1.7 0 1 0 -3.4 0M407.73 79.5a1.7 1.7 0 1 0 3.4 0a1.7 1.7 0 1 0 -3.4 0M408.8 78.45a1.7 1.7 0 1 0 3.4 0a1.7 1.7 0 1 0 -3.4 0M409.88 77.41a1.7 1.7 0 1 0 3.4 0a1.7 1.7 0 1 0 -3.4 0M410.95 76.4a1.7 1.7 0 1 0 3.4 0a1.7 1.7 0 1 0 -3.4 0M412.02 75.39a1.7 1.7 0 1 0 3.4 0a1.7 1.7 0 1 0 -3.4 0M413.1 74.4a1.7 1.7 0 1 0 3.4 0a1.7 1.7 0 1 0 -3.4 0M414.17 73.42a1.7 1.7 0 1 0 3.4 0a1.7 1.7 0 1 0 -3.4 0M415.24 72.46a1.7 1.7 0 1 0 3.4 0a1.7 1.7 0 1 0 -3.4 0M416.32 71.51a1.7 1.7 0 1 0 3.4 0a1.7 1.7 0 1 0 -3.4 0M417.39 70.57a1.7 1.7 0 1 0 3.4 0a1.7 1.7 0 1 0 -3.4 0M418.46 69.65a1.7 1.7 0 1 0 3.4 0a1.7 1.7 0 1 0 -3.4 0M419.54 68.73a1.7 1.7 0 1 0 3.4 0a1.7 1.7 0 1 0 -3.4 0M420.61 67.83a1.7 1.7 0 1 0 3.4 0a1.7 1.7 0 1 0 -3.4 0M421.68 66.94a1.7 1.7 0 1 0 3.4 0a1.7 1.7 0 1 0 -3.4 0M422.76 66.06a1.7 1.7 0 1 0 3.4 0a1.7 1.7 0 1 0 -3.4 0M423.83 65.19a1.7 1.7 0 1 0 3.4 0a1.7 1.7 0 1 0 -3.4 0M424.9 64.34a1.7 1.7 0 1 0 3.4 0a1.7 1.7 0 1 0 -3.4 0M425.97 63.49a1.7 1.7 0 1 0 3.4 0a1.7 1.7 0 1 0 -3.4 0M427.05 62.63a1.7 1.7 0 1 0 3.4 0a1.7 1.7 0 1 0 -3.4 0M428.12 61.77a1.7 1.7 0 1 0 3.4 0a1.7 1.7 0 1 0 -3.4 0M429.19 60.91a1.7 1.7 0 1 0 3.4 0a1.7 1.7 0 1 0 -3.4 0M430.27 60.07a1.7 1.7 0 1 0 3.4 0a1.7 1.7 0 1 0 -3.4 0M431.34 59.24a1.7 1.7 0 1 0 3.4 0a1.7 1.7 0 1 0 -3.4 0M432.41 58.41a1.7 1.7 0 1 0 3.4 0a1.7 1.7 0 1 0 -3.4 0M433.49 57.6a1.7 1.7 0 1 0 3.4 0a1.7 1.7 0 1 0 -3.4 0M434.56 56.79a1.7 1.7 0 1 0 3.4 0a1.7 1.7 0 1 0 -3.4 0M435.63 56a1.7 1.7 0 1 0 3.4 0a1.7 1.7 0 1 0 -3.4 0M436.71 55.21a1.7 1.7 0 1 0 3.4 0a1.7 1.7 0 1 0 -3.4 0M437.78 54.43a1.7 1.7 0 1 0 3.4 0a1.7 1.7 0 1 0 -3.4 0M438.85 53.66a1.7 1.7 0 1 0 3.4 0a1.7 1.7 0 1 0 -3.4 0M439.92 52.9a1.7 1.7 0 1 0 3.4 0a1.7 1.7 0 1 0 -3.4 0M441.71 65.19a1.7 1.7 0 1 0 3.4 0a1.7 1.7 0 1 0 -3.4 0M442.61 66.49a1.7 1.7 0 1 0 3.4 0a1.7 1.7 0 1 0 -3.4 0M443.5 67.64a1.7 1.7 0 1 0 3.4 0a1.7 1.7 0 1 0 -3.4 0M444.4 68.67a1.7 1.7 0 1 0 3.4 0a1.7 1.7 0 1 0 -3.4 0M445.29 69.59a1.7 1.7 0 1 0 3.4 0a1.7 1.7 0 1 0 -3.4 0M446.18 70.42a1.7 1.7 0 1 0 3.4 0a1.7 1.7 0 1 0 -3.4 0M447.08 71.18a1.7 1.7 0 1 0 3.4 0a1.7 1.7 0 1 0 -3.4 0M447.97 71.87a1.7 1.7 0 1 0 3.4 0a1.7 1.7 0 1 0 -3.4 0M448.87 72.5a1.7 1.7 0 1 0 3.4 0a1.7 1.7 0 1 0 -3.4 0M449.76 73.08a1.7 1.7 0 1 0 3.4 0a1.7 1.7 0 1 0 -3.4 0M450.66 73.62a1.7 1.7 0 1 0 3.4 0a1.7 1.7 0 1 0 -3.4 0M451.55 74.11a1.7 1.7 0 1 0 3.4 0a1.7 1.7 0 1 0 -3.4 0M452.44 74.57a1.7 1.7 0 1 0 3.4 0a1.7 1.7 0 1 0 -3.4 0M453.34 75a1.7 1.7 0 1 0 3.4 0a1.7 1.7 0 1 0 -3.4 0M454.23 75.4a1.7 1.7 0 1 0 3.4 0a1.7 1.7 0 1 0 -3.4 0M455.13 75.77a1.7 1.7 0 1 0 3.4 0a1.7 1.7 0 1 0 -3.4 0M456.02 76.12a1.7 1.7 0 1 0 3.4 0a1.7 1.7 0 1 0 -3.4 0M456.92 76.44a1.7 1.7 0 1 0 3.4 0a1.7 1.7 0 1 0 -3.4 0M457.81 76.75a1.7 1.7 0 1 0 3.4 0a1.7 1.7 0 1 0 -3.4 0M458.7 77.04a1.7 1.7 0 1 0 3.4 0a1.7 1.7 0 1 0 -3.4 0M459.6 77.32a1.7 1.7 0 1 0 3.4 0a1.7 1.7 0 1 0 -3.4 0M460.49 77.57a1.7 1.7 0 1 0 3.4 0a1.7 1.7 0 1 0 -3.4 0M461.39 77.82a1.7 1.7 0 1 0 3.4 0a1.7 1.7 0 1 0 -3.4 0M462.28 78.05a1.7 1.7 0 1 0 3.4 0a1.7 1.7 0 1 0 -3.4 0M463.18 78.27a1.7 1.7 0 1 0 3.4 0a1.7 1.7 0 1 0 -3.4 0M464.07 78.48a1.7 1.7 0 1 0 3.4 0a1.7 1.7 0 1 0 -3.4 0M464.96 78.68a1.7 1.7 0 1 0 3.4 0a1.7 1.7 0 1 0 -3.4 0M465.86 78.87a1.7 1.7 0 1 0 3.4 0a1.7 1.7 0 1 0 -3.4 0M466.75 79.06a1.7 1.7 0 1 0 3.4 0a1.7 1.7 0 1 0 -3.4 0M467.65 79.23a1.7 1.7 0 1 0 3.4 0a1.7 1.7 0 1 0 -3.4 0M468.54 79.39a1.7 1.7 0 1 0 3.4 0a1.7 1.7 0 1 0 -3.4 0M469.43 79.55a1.7 1.7 0 1 0 3.4 0a1.7 1.7 0 1 0 -3.4 0M470.33 79.71a1.7 1.7 0 1 0 3.4 0a1.7 1.7 0 1 0 -3.4 0M471.22 79.85a1.7 1.7 0 1 0 3.4 0a1.7 1.7 0 1 0 -3.4 0M472.12 79.99a1.7 1.7 0 1 0 3.4 0a1.7 1.7 0 1 0 -3.4 0M473.01 80.13a1.7 1.7 0 1 0 3.4 0a1.7 1.7 0 1 0 -3.4 0M473.91 80.26a1.7 1.7 0 1 0 3.4 0a1.7 1.7 0 1 0 -3.4 0M474.8 80.38a1.7 1.7 0 1 0 3.4 0a1.7 1.7 0 1 0 -3.4 0M475.69 80.5a1.7 1.7 0 1 0 3.4 0a1.7 1.7 0 1 0 -3.4 0M476.59 80.62a1.7 1.7 0 1 0 3.4 0a1.7 1.7 0 1 0 -3.4 0M477.48 80.73a1.7 1.7 0 1 0 3.4 0a1.7 1.7 0 1 0 -3.4 0M478.38 80.83a1.7 1.7 0 1 0 3.4 0a1.7 1.7 0 1 0 -3.4 0M479.27 80.94a1.7 1.7 0 1 0 3.4 0a1.7 1.7 0 1 0 -3.4 0M480.17 81.04a1.7 1.7 0 1 0 3.4 0a1.7 1.7 0 1 0 -3.4 0M481.06 81.13a1.7 1.7 0 1 0 3.4 0a1.7 1.7 0 1 0 -3.4 0M481.95 81.23a1.7 1.7 0 1 0 3.4 0a1.7 1.7 0 1 0 -3.4 0M482.85 81.32a1.7 1.7 0 1 0 3.4 0a1.7 1.7 0 1 0 -3.4 0M483.74 81.41a1.7 1.7 0 1 0 3.4 0a1.7 1.7 0 1 0 -3.4 0M484.64 81.49a1.7 1.7 0 1 0 3.4 0a1.7 1.7 0 1 0 -3.4 0M485.53 81.57a1.7 1.7 0 1 0 3.4 0a1.7 1.7 0 1 0 -3.4 0M486.43 81.65a1.7 1.7 0 1 0 3.4 0a1.7 1.7 0 1 0 -3.4 0M487.32 81.73a1.7 1.7 0 1 0 3.4 0a1.7 1.7 0 1 0 -3.4 0M488.21 81.8a1.7 1.7 0 1 0 3.4 0a1.7 1.7 0 1 0 -3.4 0M489.11 81.88a1.7 1.7 0 1 0 3.4 0a1.7 1.7 0 1 0 -3.4 0M490 81.95a1.7 1.7 0 1 0 3.4 0a1.7 1.7 0 1 0 -3.4 0M490.9 82.02a1.7 1.7 0 1 0 3.4 0a1.7 1.7 0 1 0 -3.4 0M491.79 82.08a1.7 1.7 0 1 0 3.4 0a1.7 1.7 0 1 0 -3.4 0M492.69 82.15a1.7 1.7 0 1 0 3.4 0a1.7 1.7 0 1 0 -3.4 0M493.58 82.21a1.7 1.7 0 1 0 3.4 0a1.7 1.7 0 1 0 -3.4 0M494.47 82.27a1.7 1.7 0 1 0 3.4 0a1.7 1.7 0 1 0 -3.4 0M495.37 82.33a1.7 1.7 0 1 0 3.4 0a1.7 1.7 0 1 0 -3.4 0M496.26 82.39a1.7 1.7 0 1 0 3.4 0a1.7 1.7 0 1 0 -3.4 0M497.16 82.45a1.7 1.7 0 1 0 3.4 0a1.7 1.7 0 1 0 -3.4 0M498.05 82.5a1.7 1.7 0 1 0 3.4 0a1.7 1.7 0 1 0 -3.4 0M498.95 82.56a1.7 1.7 0 1 0 3.4 0a1.7 1.7 0 1 0 -3.4 0M499.84 82.61a1.7 1.7 0 1 0 3.4 0a1.7 1.7 0 1 0 -3.4 0M500.73 82.66a1.7 1.7 0 1 0 3.4 0a1.7 1.7 0 1 0 -3.4 0M501.63 82.71a1.7 1.7 0 1 0 3.4 0a1.7 1.7 0 1 0 -3.4 0M502.52 82.76a1.7 1.7 0 1 0 3.4 0a1.7 1.7 0 1 0 -3.4 0M503.42 82.81a1.7 1.7 0 1 0 3.4 0a1.7 1.7 0 1 0 -3.4 0M504.31 82.86a1.7 1.7 0 1 0 3.4 0a1.7 1.7 0 1 0 -3.4 0M505.2 82.9a1.7 1.7 0 1 0 3.4 0a1.7 1.7 0 1 0 -3.4 0M506.1 82.95a1.7 1.7 0 1 0 3.4 0a1.7 1.7 0 1 0 -3.4 0M506.99 82.99a1.7 1.7 0 1 0 3.4 0a1.7 1.7 0 1 0 -3.4 0M507.89 83.03a1.7 1.7 0 1 0 3.4 0a1.7 1.7 0 1 0 -3.4 0M508.78 83.07a1.7 1.7 0 1 0 3.4 0a1.7 1.7 0 1 0 -3.4 0M509.68 83.11a1.7 1.7 0 1 0 3.4 0a1.7 1.7 0 1 0 -3.4 0M510.57 83.15a1.7 1.7 0 1 0 3.4 0a1.7 1.7 0 1 0 -3.4 0M511.46 83.19a1.7 1.7 0 1 0 3.4 0a1.7 1.7 0 1 0 -3.4 0" stroke="#b2d414" stroke-width="1.05" fill="none"/>
<path d="M440.64 56.07a1.7 1.7 0 1 0 3.4 0a1.7 1.7 0 1 0 -3.4 0M440.64 59.73a1.7 1.7 0 1 0 3.4 0a1.7 1.7 0 1 0 -3.4 0" stroke="#b2d414" stroke-width="1.0" fill="none"/>
<path d="M329.99 146.16h3.04v3.04h-3.04zM330.34 146.84h3.04v3.04h-3.04zM330.7 145.41h3.04v3.04h-3.04zM331.05 146.37h3.04v3.04h-3.04zM331.4 145.6h3.04v3.04h-3.04zM331.75 145.95h3.04v3.04h-3.04zM332.1 145.49h3.04v3.04h-3.04zM332.45 145.09h3.04v3.04h-3.04zM332.81 146.56h3.04v3.04h-3.04zM333.16 145.69h3.04v3.04h-3.04zM333.51 145.69h3.04v3.04h-3.04zM333.86 144.84h3.04v3.04h-3.04zM334.21 145.57h3.04v3.04h-3.04zM334.57 146.08h3.04v3.04h-3.04zM334.92 145.95h3.04v3.04h-3.04zM335.27 144.58h3.04v3.04h-3.04zM335.62 146.12h3.04v3.04h-3.04zM335.97 145.59h3.04v3.04h-3.04zM336.32 145.46h3.04v3.04h-3.04zM336.68 146.27h3.04v3.04h-3.04zM337.03 146.08h3.04v3.04h-3.04zM337.38 146.75h3.04v3.04h-3.04zM337.73 146.13h3.04v3.04h-3.04zM338.08 145.24h3.04v3.04h-3.04zM338.44 145.49h3.04v3.04h-3.04zM338.79 146.7h3.04v3.04h-3.04zM339.14 144.79h3.04v3.04h-3.04zM339.49 146.37h3.04v3.04h-3.04zM339.84 146.16h3.04v3.04h-3.04zM340.19 144.69h3.04v3.04h-3.04zM340.55 145.34h3.04v3.04h-3.04zM340.9 145.65h3.04v3.04h-3.04zM341.25 144.75h3.04v3.04h-3.04zM341.6 145.65h3.04v3.04h-3.04zM341.95 145.41h3.04v3.04h-3.04zM342.31 145.94h3.04v3.04h-3.04zM342.66 145.68h3.04v3.04h-3.04zM343.01 145.65h3.04v3.04h-3.04zM343.36 144.98h3.04v3.04h-3.04zM343.71 145.97h3.04v3.04h-3.04zM344.07 145.72h3.04v3.04h-3.04zM344.42 146.86h3.04v3.04h-3.04zM344.77 146.59h3.04v3.04h-3.04zM345.12 145.21h3.04v3.04h-3.04zM345.47 145.84h3.04v3.04h-3.04zM345.82 145.81h3.04v3.04h-3.04zM346.18 145.27h3.04v3.04h-3.04zM346.53 145.81h3.04v3.04h-3.04zM346.88 145.56h3.04v3.04h-3.04zM347.23 145.78h3.04v3.04h-3.04zM347.58 146.77h3.04v3.04h-3.04zM347.94 145.27h3.04v3.04h-3.04zM348.29 144.77h3.04v3.04h-3.04zM348.64 144.95h3.04v3.04h-3.04zM348.99 145.59h3.04v3.04h-3.04zM349.34 145.47h3.04v3.04h-3.04zM349.69 145.4h3.04v3.04h-3.04zM350.05 144.76h3.04v3.04h-3.04zM350.4 144.94h3.04v3.04h-3.04zM350.75 145.83h3.04v3.04h-3.04zM351.1 145.71h3.04v3.04h-3.04zM351.45 145.75h3.04v3.04h-3.04zM351.81 145.96h3.04v3.04h-3.04zM352.16 145.99h3.04v3.04h-3.04zM352.51 145.71h3.04v3.04h-3.04zM352.86 147.02h3.04v3.04h-3.04zM353.21 145.43h3.04v3.04h-3.04zM353.56 145.91h3.04v3.04h-3.04zM353.92 146.34h3.04v3.04h-3.04zM354.27 145.76h3.04v3.04h-3.04zM354.62 146.08h3.04v3.04h-3.04zM354.97 144.97h3.04v3.04h-3.04zM355.32 146.29h3.04v3.04h-3.04zM355.68 145.62h3.04v3.04h-3.04zM356.03 145.46h3.04v3.04h-3.04zM356.38 146.13h3.04v3.04h-3.04zM356.73 146.36h3.04v3.04h-3.04zM357.08 145.44h3.04v3.04h-3.04zM357.43 145.89h3.04v3.04h-3.04zM357.79 146.19h3.04v3.04h-3.04zM358.14 146.48h3.04v3.04h-3.04zM358.49 145.31h3.04v3.04h-3.04zM358.84 144.8h3.04v3.04h-3.04zM359.19 145.96h3.04v3.04h-3.04zM359.55 145.35h3.04v3.04h-3.04zM359.9 145.03h3.04v3.04h-3.04zM360.25 145.08h3.04v3.04h-3.04zM360.6 145.98h3.04v3.04h-3.04zM360.95 145.35h3.04v3.04h-3.04zM361.31 145.26h3.04v3.04h-3.04zM361.66 144.2h3.04v3.04h-3.04zM362.01 145.52h3.04v3.04h-3.04zM362.36 145.04h3.04v3.04h-3.04zM362.71 145.17h3.04v3.04h-3.04zM363.06 145.26h3.04v3.04h-3.04zM363.42 146.18h3.04v3.04h-3.04zM363.77 145.46h3.04v3.04h-3.04zM364.12 144.77h3.04v3.04h-3.04zM364.47 145.82h3.04v3.04h-3.04zM364.82 145.48h3.04v3.04h-3.04zM365.18 146.05h3.04v3.04h-3.04zM365.53 145.46h3.04v3.04h-3.04zM365.88 145.41h3.04v3.04h-3.04zM366.23 145.21h3.04v3.04h-3.04zM366.58 145.83h3.04v3.04h-3.04zM366.93 145.84h3.04v3.04h-3.04zM367.29 145.92h3.04v3.04h-3.04zM367.64 145.45h3.04v3.04h-3.04zM367.99 145.5h3.04v3.04h-3.04zM368.34 144.34h3.04v3.04h-3.04zM368.69 145.96h3.04v3.04h-3.04zM369.05 145.22h3.04v3.04h-3.04zM371.04 133.71h3.04v3.04h-3.04zM372.8 128.8h3.04v3.04h-3.04zM374.56 124.86h3.04v3.04h-3.04zM376.32 121.43h3.04v3.04h-3.04zM378.08 118.35h3.04v3.04h-3.04zM379.84 115.52h3.04v3.04h-3.04zM381.59 112.88h3.04v3.04h-3.04zM383.35 110.41h3.04v3.04h-3.04zM385.11 107.8h3.04v3.04h-3.04zM386.87 105.27h3.04v3.04h-3.04zM388.63 102.83h3.04v3.04h-3.04zM390.39 100.49h3.04v3.04h-3.04zM392.15 98.23h3.04v3.04h-3.04zM393.91 96.05h3.04v3.04h-3.04zM395.67 93.93h3.04v3.04h-3.04zM397.43 91.88h3.04v3.04h-3.04zM399.19 89.88h3.04v3.04h-3.04zM400.95 87.94h3.04v3.04h-3.04zM402.7 86.05h3.04v3.04h-3.04zM404.46 84.21h3.04v3.04h-3.04zM406.22 82.42h3.04v3.04h-3.04zM407.98 80.67h3.04v3.04h-3.04zM409.74 78.96h3.04v3.04h-3.04zM411.5 77.29h3.04v3.04h-3.04zM413.26 75.66h3.04v3.04h-3.04zM415.02 74.07h3.04v3.04h-3.04zM416.78 72.51h3.04v3.04h-3.04zM418.54 70.98h3.04v3.04h-3.04zM420.3 69.49h3.04v3.04h-3.04zM422.06 68.02h3.04v3.04h-3.04zM423.81 66.59h3.04v3.04h-3.04zM425.57 65.19h3.04v3.04h-3.04zM427.33 63.79h3.04v3.04h-3.04zM429.09 62.38h3.04v3.04h-3.04zM430.85 61h3.04v3.04h-3.04zM432.61 59.64h3.04v3.04h-3.04zM434.37 58.31h3.04v3.04h-3.04zM436.13 57.01h3.04v3.04h-3.04zM437.89 55.73h3.04v3.04h-3.04zM439.65 54.47h3.04v3.04h-3.04zM441.41 53.24h3.04v3.04h-3.04zM443.17 52.03h3.04v3.04h-3.04zM444.92 50.84h3.04v3.04h-3.04zM446.68 49.67h3.04v3.04h-3.04zM448.44 48.52h3.04v3.04h-3.04zM450.2 47.4h3.04v3.04h-3.04zM451.96 46.3h3.04v3.04h-3.04zM453.72 45.21h3.04v3.04h-3.04zM455.48 44.15h3.04v3.04h-3.04zM457.24 43.1h3.04v3.04h-3.04zM459 42.08h3.04v3.04h-3.04zM460.76 41.07h3.04v3.04h-3.04zM462.52 40.08h3.04v3.04h-3.04zM464.28 39.11h3.04v3.04h-3.04zM466.03 38.16h3.04v3.04h-3.04zM467.79 37.22h3.04v3.04h-3.04zM469.55 36.31h3.04v3.04h-3.04zM471.31 35.41h3.04v3.04h-3.04zM473.07 34.52h3.04v3.04h-3.04zM474.83 33.66h3.04v3.04h-3.04zM476.59 32.81h3.04v3.04h-3.04zM478.35 31.97h3.04v3.04h-3.04zM480.11 31.16h3.04v3.04h-3.04zM481.87 30.35h3.04v3.04h-3.04zM483.63 29.57h3.04v3.04h-3.04zM485.39 28.8h3.04v3.04h-3.04zM488.32 43.67h3.04v3.04h-3.04zM489.78 44.95h3.04v3.04h-3.04zM491.25 46.11h3.04v3.04h-3.04zM492.72 47.17h3.04v3.04h-3.04zM494.18 48.13h3.04v3.04h-3.04zM495.65 49h3.04v3.04h-3.04zM497.11 49.81h3.04v3.04h-3.04zM498.58 50.56h3.04v3.04h-3.04zM500.05 51.25h3.04v3.04h-3.04zM501.51 51.89h3.04v3.04h-3.04zM502.98 52.48h3.04v3.04h-3.04zM504.44 53.04h3.04v3.04h-3.04zM505.91 53.56h3.04v3.04h-3.04zM507.38 54.04h3.04v3.04h-3.04zM508.84 54.5h3.04v3.04h-3.04zM510.31 54.93h3.04v3.04h-3.04zM511.77 55.33h3.04v3.04h-3.04zM513.24 55.72h3.04v3.04h-3.04zM514.71 56.08h3.04v3.04h-3.04zM516.17 56.42h3.04v3.04h-3.04zM517.64 56.74h3.04v3.04h-3.04zM519.1 57.05h3.04v3.04h-3.04zM520.57 57.34h3.04v3.04h-3.04zM522.04 57.62h3.04v3.04h-3.04zM523.5 57.89h3.04v3.04h-3.04zM524.97 58.14h3.04v3.04h-3.04zM526.43 58.39h3.04v3.04h-3.04zM527.9 58.62h3.04v3.04h-3.04zM529.37 58.84h3.04v3.04h-3.04zM530.83 59.05h3.04v3.04h-3.04zM532.3 59.26h3.04v3.04h-3.04zM533.76 59.45h3.04v3.04h-3.04zM535.23 59.64h3.04v3.04h-3.04zM536.7 59.82h3.04v3.04h-3.04zM538.16 59.99h3.04v3.04h-3.04zM539.63 60.16h3.04v3.04h-3.04zM541.09 60.32h3.04v3.04h-3.04zM542.56 60.48h3.04v3.04h-3.04zM544.03 60.63h3.04v3.04h-3.04zM545.49 60.77h3.04v3.04h-3.04zM546.96 60.91h3.04v3.04h-3.04zM548.42 61.05h3.04v3.04h-3.04zM549.89 61.18h3.04v3.04h-3.04zM551.36 61.31h3.04v3.04h-3.04zM552.82 61.43h3.04v3.04h-3.04zM554.29 61.55h3.04v3.04h-3.04zM555.75 61.66h3.04v3.04h-3.04zM557.22 61.77h3.04v3.04h-3.04zM558.69 61.88h3.04v3.04h-3.04zM560.15 61.99h3.04v3.04h-3.04zM561.62 62.09h3.04v3.04h-3.04zM563.08 62.19h3.04v3.04h-3.04zM564.55 62.28h3.04v3.04h-3.04zM566.01 62.38h3.04v3.04h-3.04zM567.48 62.47h3.04v3.04h-3.04zM568.95 62.56h3.04v3.04h-3.04zM570.41 62.64h3.04v3.04h-3.04zM571.88 62.73h3.04v3.04h-3.04z" stroke="#e8751e" stroke-width="1.05" fill="none"/>
<path d="M486.48 32.76h3.2v3.2h-3.2zM486.48 37.31h3.2v3.2h-3.2z" stroke="#e8751e" stroke-width="1.0" fill="none"/>
<path d="M331.23 146.85h1.15M331.7 148.06h1.15M332.18 147.85h1.15M332.65 147.96h1.15M333.12 147.66h1.15M333.59 147.16h1.15M334.06 146.68h1.15M334.53 147.7h1.15M335.01 146.82h1.15M335.48 148.01h1.15M335.95 146.14h1.15M336.42 147.59h1.15M336.89 147.61h1.15M337.36 147.2h1.15M337.84 147.3h1.15M338.31 147.45h1.15M338.78 148.3h1.15M339.25 146.88h1.15M339.72 146.96h1.15M340.19 147.58h1.15M340.67 148.02h1.15M341.14 147.22h1.15M341.61 146.74h1.15M342.08 148.34h1.15M342.55 148h1.15M343.02 147.32h1.15M343.5 147.83h1.15M343.97 147.56h1.15M344.44 147.43h1.15M344.91 146.93h1.15M345.38 146.93h1.15M345.85 146.82h1.15M346.33 146.86h1.15M346.8 147.72h1.15M347.27 148.72h1.15M347.74 147.19h1.15M348.21 147.12h1.15M348.68 147.12h1.15M349.16 147.75h1.15M349.63 146.29h1.15M350.1 148.31h1.15M350.57 146.92h1.15M351.04 147.02h1.15M351.51 146.85h1.15M351.99 146.58h1.15M352.46 147.09h1.15M352.93 147.18h1.15M353.4 147.53h1.15M353.87 146.94h1.15M354.34 147.15h1.15M354.82 146.92h1.15M355.29 148.01h1.15M355.76 148.23h1.15M356.23 147.33h1.15M356.7 147.07h1.15M357.17 148.23h1.15M357.65 147.94h1.15M358.12 147.56h1.15M358.59 147.2h1.15M359.06 147.19h1.15M359.53 146.81h1.15M360.01 147.46h1.15M360.48 147.13h1.15M360.95 146.64h1.15M361.42 147.52h1.15M361.89 146.09h1.15M362.36 147.57h1.15M362.84 147.29h1.15M363.31 148.42h1.15M363.78 147.41h1.15M364.25 147.66h1.15M364.72 147.72h1.15M365.19 147.19h1.15M365.67 147.98h1.15M366.14 147.23h1.15M366.61 148.48h1.15M367.08 147.64h1.15M367.55 146.6h1.15M368.02 147.28h1.15M368.5 147.02h1.15M368.97 147.87h1.15M369.44 148.09h1.15M369.91 146.58h1.15M372.58 131.55h1.15M374.94 125.73h1.15M377.3 121.04h1.15M379.66 116.98h1.15M382.02 113.33h1.15M384.38 109.98h1.15M386.73 106.49h1.15M389.09 103.17h1.15M391.45 100.02h1.15M393.81 97.01h1.15M393.81 97.01h1.15M394.75 95.85h1.15M395.7 94.7h1.15M396.64 93.58h1.15M397.58 92.47h1.15M398.53 91.38h1.15M399.47 90.3h1.15M400.41 89.25h1.15M401.36 88.2h1.15M402.3 87.18h1.15M403.24 86.16h1.15M404.19 85.17h1.15M405.13 84.18h1.15M406.07 83.21h1.15M407.02 82.25h1.15M407.96 81.3h1.15M408.9 80.37h1.15M409.85 79.45h1.15M410.79 78.54h1.15M411.73 77.64h1.15M412.68 76.75h1.15M413.62 75.88h1.15M414.56 75.01h1.15M415.51 74.15h1.15M416.45 73.31h1.15M417.39 72.47h1.15M418.34 71.65h1.15M419.28 70.83h1.15M420.22 70.02h1.15M421.17 69.23h1.15M422.11 68.44h1.15M423.05 67.66h1.15M424 66.89h1.15M424.94 66.12h1.15M425.88 65.37h1.15M426.83 64.62h1.15M427.77 63.88h1.15M428.71 63.11h1.15M429.66 62.36h1.15M430.6 61.61h1.15M431.55 60.87h1.15M432.49 60.14h1.15M433.43 59.41h1.15M434.38 58.7h1.15M435.32 57.99h1.15M436.26 57.28h1.15M437.21 56.59h1.15M438.15 55.9h1.15M439.09 55.22h1.15M440.04 54.54h1.15M440.98 53.87h1.15M441.92 53.21h1.15M442.87 52.56h1.15M443.81 51.91h1.15M444.75 51.27h1.15M445.7 50.63h1.15M446.64 50h1.15M447.58 49.38h1.15M448.53 48.76h1.15M449.47 48.15h1.15M450.41 47.54h1.15M451.36 46.94h1.15M452.3 46.35h1.15M453.24 45.76h1.15M454.19 45.18h1.15M455.13 44.61h1.15M456.07 44.04h1.15M457.02 43.47h1.15M457.96 42.91h1.15M458.9 42.36h1.15M459.85 41.81h1.15M460.79 41.27h1.15M461.73 40.73h1.15M462.68 40.2h1.15M463.62 39.67h1.15M464.56 39.15h1.15M465.51 38.63h1.15M466.45 38.12h1.15M467.39 37.62h1.15M468.34 37.11h1.15M469.28 36.62h1.15M470.22 36.13h1.15M471.17 35.64h1.15M472.11 35.16h1.15M473.05 34.68h1.15M474 34.21h1.15M474.94 33.74h1.15M475.88 33.28h1.15M476.83 32.83h1.15M477.77 32.37h1.15M478.71 31.92h1.15M479.66 31.48h1.15M480.6 31.04h1.15M481.54 30.61h1.15M482.49 30.18h1.15M483.43 29.75h1.15M484.37 29.33h1.15M485.32 28.92h1.15M486.26 28.5h1.15M487.2 28.1h1.15M488.15 27.69h1.15M489.09 27.3h1.15M490.03 26.9h1.15M490.98 26.51h1.15M491.92 26.12h1.15M492.87 25.74h1.15M493.81 25.37h1.15M494.75 24.99h1.15M495.7 24.62h1.15M496.64 24.26h1.15M497.58 23.9h1.15M498.53 23.54h1.15M499.47 23.2h1.15M500.41 22.89h1.15M501.36 22.58h1.15M502.3 22.27h1.15M503.24 21.97h1.15M504.19 21.67h1.15M505.13 21.37h1.15M506.07 21.08h1.15M507.02 20.79h1.15M507.96 20.51h1.15M508.9 20.23h1.15M509.85 19.95h1.15M510.79 19.68h1.15M511.73 19.41h1.15M512.68 19.15h1.15M513.62 18.88h1.15M514.56 18.63h1.15M515.51 18.37h1.15M516.45 18.12h1.15M517.39 17.88h1.15M518.34 17.63h1.15M519.28 17.39h1.15M520.22 17.16h1.15M521.17 16.93h1.15M522.11 16.7h1.15M523.05 16.47h1.15M524 16.25h1.15M524.94 16.04h1.15M525.88 15.82h1.15M526.83 15.61h1.15M529.81 30.33h1.15M531.78 31.8h1.15M533.74 33.14h1.15M535.71 34.36h1.15M537.68 35.48h1.15M539.64 36.5h1.15M541.61 37.45h1.15M543.57 38.32h1.15M545.54 39.13h1.15M547.5 39.89h1.15M549.47 40.59h1.15M551.43 41.24h1.15M553.4 41.86h1.15M555.36 42.44h1.15M557.33 42.98h1.15M559.29 43.49h1.15M561.26 43.97h1.15M563.23 44.43h1.15M565.19 44.86h1.15M567.16 45.27h1.15M569.12 45.65h1.15M571.09 46.02h1.15M573.05 46.38h1.15" stroke="#e8141a" stroke-width="3.91" stroke-linecap="round" fill="none"/>
<path d="M527.53 19.76h1M527.53 24.05h1" stroke="#e8141a" stroke-width="3.4" stroke-linecap="round" fill="none"/>
</g>
<rect x="450.3" y="78.2" width="119" height="70" fill="#fff"/>
<rect x="335.3" y="2.6" width="235" height="148" fill="none" stroke="#111" stroke-width="1.2"/>
<path d="M335.03 150.6v-2.2 M335.03 2.6v2.2M370.8 150.6v-2.2 M370.8 2.6v2.2M406.57 150.6v-2.2 M406.57 2.6v2.2M442.34 150.6v-2.2 M442.34 2.6v2.2M478.11 150.6v-2.2 M478.11 2.6v2.2M513.88 150.6v-2.2 M513.88 2.6v2.2M549.65 150.6v-2.2 M549.65 2.6v2.2" stroke="#111" stroke-width="1"/>
<path d="M335.3 146.9h2.2 M570.3 146.9h-2.2M335.3 123.87h2.2 M570.3 123.87h-2.2M335.3 100.84h2.2 M570.3 100.84h-2.2M335.3 77.81h2.2 M570.3 77.81h-2.2M335.3 54.78h2.2 M570.3 54.78h-2.2M335.3 31.75h2.2 M570.3 31.75h-2.2M335.3 8.72h2.2 M570.3 8.72h-2.2" stroke="#111" stroke-width="1"/>
<text x="332.83" y="160.6" font-size="8.8" text-anchor="middle" font-weight="normal" font-family="Liberation Serif" fill="#222" >&#8722;1</text>
<text x="370.3" y="160.6" font-size="8.8" text-anchor="middle" font-weight="normal" font-family="Liberation Serif" fill="#222" >0</text>
<text x="406.07" y="160.6" font-size="8.8" text-anchor="middle" font-weight="normal" font-family="Liberation Serif" fill="#222" >1</text>
<text x="441.84" y="160.6" font-size="8.8" text-anchor="middle" font-weight="normal" font-family="Liberation Serif" fill="#222" >2</text>
<text x="477.61" y="160.6" font-size="8.8" text-anchor="middle" font-weight="normal" font-family="Liberation Serif" fill="#222" >3</text>
<text x="513.38" y="160.6" font-size="8.8" text-anchor="middle" font-weight="normal" font-family="Liberation Serif" fill="#222" >4</text>
<text x="549.15" y="160.6" font-size="8.8" text-anchor="middle" font-weight="normal" font-family="Liberation Serif" fill="#222" >5</text>
<text x="334" y="150.4" font-size="9.0" text-anchor="end" font-weight="normal" font-family="Liberation Serif" fill="#222" >0</text>
<text x="334" y="127.37" font-size="9.0" text-anchor="end" font-weight="normal" font-family="Liberation Serif" fill="#222" >0.01</text>
<text x="334" y="104.34" font-size="9.0" text-anchor="end" font-weight="normal" font-family="Liberation Serif" fill="#222" >0.02</text>
<text x="334" y="81.31" font-size="9.0" text-anchor="end" font-weight="normal" font-family="Liberation Serif" fill="#222" >0.03</text>
<text x="334" y="58.28" font-size="9.0" text-anchor="end" font-weight="normal" font-family="Liberation Serif" fill="#222" >0.04</text>
<text x="334" y="35.25" font-size="9.0" text-anchor="end" font-weight="normal" font-family="Liberation Serif" fill="#222" >0.05</text>
<text x="334" y="12.22" font-size="9.0" text-anchor="end" font-weight="normal" font-family="Liberation Serif" fill="#222" >0.06</text>
<text x="436.2" y="169.3" font-size="9.6" font-weight="bold" font-family="Liberation Serif" fill="#111">t / a<tspan font-size="8.2" dx="0.6" dy="5">T</tspan><tspan dy="-5"> [s]</tspan></text>
<text x="565.6" y="15" font-size="11.4" text-anchor="end" font-weight="bold" font-family="Liberation Serif" fill="#111" >B</text>
<clipPath id="cI"><rect x="471.5" y="81.2" width="93" height="57"/></clipPath>
<g clip-path="url(#cI)">
<path d="M472.95 134.09L475.61 134.09L474.28 131.69zM482.23 133.23L484.89 133.23L483.56 130.83zM487.66 132.54L490.32 132.54L488.99 130.15zM491.51 131.94L494.17 131.94L492.84 129.55zM494.5 131.41L497.16 131.41L495.83 129.01zM496.94 130.91L499.6 130.91L498.27 128.51zM499.01 130.44L501.67 130.44L500.34 128.05zM500.79 130L503.45 130L502.12 127.61zM502.37 129.58L505.03 129.58L503.7 127.19zM503.78 129.18L506.44 129.18L505.11 126.78zM505.06 128.79L507.72 128.79L506.39 126.4zM506.22 128.42L508.88 128.42L507.55 126.02zM507.29 128.05L509.95 128.05L508.62 125.66zM508.29 127.7L510.95 127.7L509.62 125.31zM509.21 127.36L511.87 127.36L510.54 124.96zM510.07 127.02L512.73 127.02L511.4 124.63zM510.89 126.7L513.55 126.7L512.22 124.3zM511.65 126.38L514.31 126.38L512.98 123.98zM512.38 126.07L515.04 126.07L513.71 123.67zM513.06 125.76L515.72 125.76L514.39 123.37zM513.72 125.46L516.38 125.46L515.05 123.07zM514.34 125.16L517 125.16L515.67 122.77zM514.93 124.87L517.59 124.87L516.26 122.48zM515.5 124.59L518.16 124.59L516.83 122.2zM516.05 124.31L518.71 124.31L517.38 121.91zM516.58 124.03L519.24 124.03L517.91 121.64zM517.08 123.76L519.74 123.76L518.41 121.37zM517.57 123.49L520.23 123.49L518.9 121.1zM518.04 123.23L520.7 123.23L519.37 120.83zM518.49 122.97L521.15 122.97L519.82 120.57zM518.93 122.71L521.59 122.71L520.26 120.31zM519.36 122.45L522.02 122.45L520.69 120.06zM519.77 122.2L522.43 122.2L521.1 119.81zM520.17 121.95L522.83 121.95L521.5 119.56zM520.56 121.71L523.22 121.71L521.89 119.32zM520.93 121.47L523.59 121.47L522.26 119.07zM521.3 121.23L523.96 121.23L522.63 118.83zM521.66 120.99L524.32 120.99L522.99 118.6zM522 120.75L524.66 120.75L523.33 118.36zM522.34 120.52L525 120.52L523.67 118.13zM522.67 120.29L525.33 120.29L524 117.9zM523 120.06L525.66 120.06L524.33 117.67zM523.31 119.84L525.97 119.84L524.64 117.44zM523.62 119.62L526.28 119.62L524.95 117.22zM523.92 119.39L526.58 119.39L525.25 117zM524.21 119.17L526.87 119.17L525.54 116.78zM524.5 118.96L527.16 118.96L525.83 116.56zM524.78 118.74L527.44 118.74L526.11 116.35zM525.06 118.53L527.72 118.53L526.39 116.13zM525.33 118.32L527.99 118.32L526.66 115.92zM525.6 118.11L528.26 118.11L526.93 115.71zM525.86 117.9L528.52 117.9L527.19 115.51zM526.11 117.69L528.77 117.69L527.44 115.3zM526.36 117.49L529.02 117.49L527.69 115.09zM526.61 117.29L529.27 117.29L527.94 114.89zM526.85 117.08L529.51 117.08L528.18 114.69zM527.09 116.88L529.75 116.88L528.42 114.49zM527.32 116.69L529.98 116.69L528.65 114.29zM527.55 116.49L530.21 116.49L528.88 114.1zM527.77 116.29L530.43 116.29L529.1 113.9zM527.99 116.1L530.65 116.1L529.32 113.71zM528.21 115.91L530.87 115.91L529.54 113.51zM528.43 115.72L531.09 115.72L529.76 113.32zM528.64 115.53L531.3 115.53L529.97 113.13zM528.84 115.34L531.5 115.34L530.17 112.95zM529.05 115.15L531.71 115.15L530.38 112.76zM529.38 120.39L532.04 120.39L530.71 118zM529.58 120.85L532.24 120.85L530.91 118.46zM529.77 121.26L532.43 121.26L531.1 118.87zM529.96 121.63L532.62 121.63L531.29 119.23zM530.15 121.96L532.81 121.96L531.48 119.56zM530.34 122.25L533 122.25L531.67 119.86zM530.52 122.53L533.18 122.53L531.85 120.13zM530.7 122.77L533.36 122.77L532.03 120.38zM530.88 123L533.54 123L532.21 120.61zM531.05 123.21L533.71 123.21L532.38 120.82zM531.23 123.4L533.89 123.4L532.56 121.01zM531.4 123.58L534.06 123.58L532.73 121.19zM531.57 123.75L534.23 123.75L532.9 121.35zM531.73 123.9L534.39 123.9L533.06 121.51zM531.9 124.05L534.56 124.05L533.23 121.65zM532.06 124.18L534.72 124.18L533.39 121.79zM532.22 124.31L534.88 124.31L533.55 121.91zM532.38 124.43L535.04 124.43L533.71 122.03zM532.54 124.54L535.2 124.54L533.87 122.14zM532.7 124.64L535.36 124.64L534.03 122.25zM532.85 124.74L535.51 124.74L534.18 122.35zM533 124.84L535.66 124.84L534.33 122.44zM533.15 124.93L535.81 124.93L534.48 122.53zM533.3 125.01L535.96 125.01L534.63 122.62zM533.45 125.09L536.11 125.09L534.78 122.7zM533.59 125.17L536.25 125.17L534.92 122.77zM533.74 125.24L536.4 125.24L535.07 122.85zM533.88 125.31L536.54 125.31L535.21 122.92zM534.02 125.38L536.68 125.38L535.35 122.98zM534.16 125.44L536.82 125.44L535.49 123.05zM534.3 125.5L536.96 125.5L535.63 123.11zM534.43 125.56L537.09 125.56L535.76 123.16zM534.57 125.61L537.23 125.61L535.9 123.22zM534.7 125.67L537.36 125.67L536.03 123.27zM534.83 125.72L537.49 125.72L536.16 123.32zM534.96 125.77L537.62 125.77L536.29 123.37zM535.09 125.81L537.75 125.81L536.42 123.42zM535.22 125.86L537.88 125.86L536.55 123.47zM535.35 125.9L538.01 125.9L536.68 123.51zM535.48 125.95L538.14 125.95L536.81 123.55zM535.6 125.99L538.26 125.99L536.93 123.59zM535.72 126.03L538.38 126.03L537.05 123.63zM535.85 126.06L538.51 126.06L537.18 123.67zM535.97 126.1L538.63 126.1L537.3 123.71zM536.09 126.14L538.75 126.14L537.42 123.74zM536.21 126.17L538.87 126.17L537.54 123.78zM536.33 126.2L538.99 126.2L537.66 123.81zM536.44 126.24L539.1 126.24L537.77 123.84zM536.56 126.27L539.22 126.27L537.89 123.87zM536.68 126.3L539.34 126.3L538.01 123.9zM536.79 126.33L539.45 126.33L538.12 123.93zM536.9 126.36L539.56 126.36L538.23 123.96zM537.02 126.38L539.68 126.38L538.35 123.99zM537.13 126.41L539.79 126.41L538.46 124.02zM537.24 126.44L539.9 126.44L538.57 124.04zM537.35 126.46L540.01 126.46L538.68 124.07zM537.46 126.49L540.12 126.49L538.79 124.09zM537.56 126.51L540.22 126.51L538.89 124.12zM537.67 126.53L540.33 126.53L539 124.14zM537.78 126.56L540.44 126.56L539.11 124.16zM537.88 126.58L540.54 126.58L539.21 124.18zM537.99 126.6L540.65 126.6L539.32 124.21zM538.09 126.62L540.75 126.62L539.42 124.23zM538.19 126.64L540.85 126.64L539.52 124.25zM538.29 126.66L540.95 126.66L539.62 124.27zM538.4 126.68L541.06 126.68L539.73 124.29z" stroke="#2848e0" stroke-width="0.8" fill="none"/>
<path d="M478.84 131.45L481.5 131.45L480.17 133.85zM488.12 130.35L490.78 130.35L489.45 132.74zM493.55 129.46L496.21 129.46L494.88 131.85zM497.4 128.68L500.06 128.68L498.73 131.07zM500.39 127.98L503.05 127.98L501.72 130.37zM502.83 127.32L505.49 127.32L504.16 129.72zM504.89 126.71L507.55 126.71L506.22 129.11zM506.68 126.13L509.34 126.13L508.01 128.53zM508.26 125.58L510.92 125.58L509.59 127.98zM509.67 125.05L512.33 125.05L511 127.45zM510.94 124.55L513.6 124.55L512.27 126.94zM512.11 124.05L514.77 124.05L513.44 126.45zM513.18 123.58L515.84 123.58L514.51 125.97zM514.17 123.12L516.83 123.12L515.5 125.51zM515.1 122.67L517.76 122.67L516.43 125.06zM515.96 122.23L518.62 122.23L517.29 124.62zM516.77 121.8L519.43 121.8L518.1 124.19zM517.54 121.38L520.2 121.38L518.87 123.77zM518.26 120.97L520.92 120.97L519.59 123.36zM518.95 120.57L521.61 120.57L520.28 122.96zM519.6 120.18L522.26 120.18L520.93 122.57zM520.22 119.79L522.88 119.79L521.55 122.18zM520.82 119.41L523.48 119.41L522.15 121.81zM521.39 119.04L524.05 119.04L522.72 121.43zM521.94 118.67L524.6 118.67L523.27 121.07zM522.46 118.31L525.12 118.31L523.79 120.71zM522.97 117.96L525.63 117.96L524.3 120.35zM523.45 117.61L526.11 117.61L524.78 120zM523.92 117.26L526.58 117.26L525.25 119.66zM524.38 116.92L527.04 116.92L525.71 119.32zM524.82 116.59L527.48 116.59L526.15 118.98zM525.24 116.26L527.9 116.26L526.57 118.65zM525.65 115.93L528.31 115.93L526.98 118.33zM526.05 115.61L528.71 115.61L527.38 118.01zM526.44 115.29L529.1 115.29L527.77 117.69zM526.82 114.98L529.48 114.98L528.15 117.37zM527.19 114.67L529.85 114.67L528.52 117.06zM527.54 114.36L530.2 114.36L528.87 116.76zM527.89 114.06L530.55 114.06L529.22 116.46zM528.23 113.76L530.89 113.76L529.56 116.16zM528.56 113.47L531.22 113.47L529.89 115.86zM528.88 113.18L531.54 113.18L530.21 115.57zM529.2 112.89L531.86 112.89L530.53 115.28zM529.51 112.6L532.17 112.6L530.84 114.99zM529.81 112.32L532.47 112.32L531.14 114.71zM530.1 112.04L532.76 112.04L531.43 114.43zM530.39 111.76L533.05 111.76L531.72 114.15zM530.67 111.49L533.33 111.49L532 113.88zM530.95 111.21L533.61 111.21L532.28 113.61zM531.22 110.95L533.88 110.95L532.55 113.34zM531.48 110.68L534.14 110.68L532.81 113.07zM531.74 110.42L534.4 110.42L533.07 112.81zM532 110.15L534.66 110.15L533.33 112.55zM532.25 109.9L534.91 109.9L533.58 112.29zM532.49 109.64L535.15 109.64L533.82 112.03zM532.73 109.38L535.39 109.38L534.06 111.78zM532.97 109.13L535.63 109.13L534.3 111.53zM533.2 108.88L535.86 108.88L534.53 111.28zM533.43 108.64L536.09 108.64L534.76 111.03zM533.66 108.39L536.32 108.39L534.99 110.79zM533.88 108.15L536.54 108.15L535.21 110.54zM534.1 107.91L536.76 107.91L535.43 110.3zM534.31 107.67L536.97 107.67L535.64 110.06zM534.52 107.43L537.18 107.43L535.85 109.83zM534.73 107.2L537.39 107.2L536.06 109.59zM534.93 106.97L537.59 106.97L536.26 109.36zM535.27 113.65L537.93 113.65L536.6 116.05zM535.46 114.01L538.12 114.01L536.79 116.41zM535.66 114.34L538.32 114.34L536.99 116.74zM535.85 114.65L538.51 114.65L537.18 117.04zM536.04 114.94L538.7 114.94L537.37 117.33zM536.22 115.2L538.88 115.2L537.55 117.6zM536.41 115.45L539.07 115.45L537.74 117.84zM536.59 115.68L539.25 115.68L537.92 118.07zM536.76 115.9L539.42 115.9L538.09 118.29zM536.94 116.1L539.6 116.1L538.27 118.5zM537.11 116.29L539.77 116.29L538.44 118.69zM537.29 116.47L539.95 116.47L538.62 118.87zM537.45 116.65L540.11 116.65L538.78 119.04zM537.62 116.81L540.28 116.81L538.95 119.2zM537.79 116.96L540.45 116.96L539.12 119.35zM537.95 117.11L540.61 117.11L539.28 119.5zM538.11 117.24L540.77 117.24L539.44 119.64zM538.27 117.37L540.93 117.37L539.6 119.77zM538.43 117.5L541.09 117.5L539.76 119.89zM538.58 117.62L541.24 117.62L539.91 120.01zM538.74 117.73L541.4 117.73L540.07 120.13zM538.89 117.84L541.55 117.84L540.22 120.24zM539.04 117.95L541.7 117.95L540.37 120.34zM539.19 118.04L541.85 118.04L540.52 120.44zM539.33 118.14L541.99 118.14L540.66 120.53zM539.48 118.23L542.14 118.23L540.81 120.63zM539.62 118.32L542.28 118.32L540.95 120.71zM539.76 118.4L542.42 118.4L541.09 120.8zM539.9 118.48L542.56 118.48L541.23 120.88zM540.04 118.56L542.7 118.56L541.37 120.96zM540.18 118.64L542.84 118.64L541.51 121.03zM540.32 118.71L542.98 118.71L541.65 121.1zM540.45 118.78L543.11 118.78L541.78 121.17zM540.59 118.85L543.25 118.85L541.92 121.24zM540.72 118.91L543.38 118.91L542.05 121.31zM540.85 118.98L543.51 118.98L542.18 121.37zM540.98 119.04L543.64 119.04L542.31 121.43zM541.11 119.09L543.77 119.09L542.44 121.49zM541.24 119.15L543.9 119.15L542.57 121.55zM541.36 119.21L544.02 119.21L542.69 121.6zM541.49 119.26L544.15 119.26L542.82 121.65zM541.61 119.31L544.27 119.31L542.94 121.71zM541.73 119.36L544.39 119.36L543.06 121.76zM541.85 119.41L544.51 119.41L543.18 121.8zM541.98 119.46L544.64 119.46L543.31 121.85zM542.09 119.5L544.75 119.5L543.42 121.9zM542.21 119.55L544.87 119.55L543.54 121.94zM542.33 119.59L544.99 119.59L543.66 121.98zM542.45 119.63L545.11 119.63L543.78 122.03zM542.56 119.67L545.22 119.67L543.89 122.07zM542.68 119.71L545.34 119.71L544.01 122.11zM542.79 119.75L545.45 119.75L544.12 122.15zM542.9 119.79L545.56 119.79L544.23 122.18zM543.01 119.83L545.67 119.83L544.34 122.22zM543.12 119.86L545.78 119.86L544.45 122.26zM543.23 119.9L545.89 119.9L544.56 122.29zM543.34 119.93L546 119.93L544.67 122.33zM543.45 119.96L546.11 119.96L544.78 122.36zM543.56 120L546.22 120L544.89 122.39zM543.66 120.03L546.32 120.03L544.99 122.42zM543.77 120.06L546.43 120.06L545.1 122.45zM543.87 120.09L546.53 120.09L545.2 122.48zM543.98 120.12L546.64 120.12L545.31 122.51zM544.08 120.15L546.74 120.15L545.41 122.54zM544.18 120.18L546.84 120.18L545.51 122.57zM544.28 120.2L546.94 120.2L545.61 122.6z" stroke="#52eab4" stroke-width="0.8" fill="none"/>
<path d="M485.52 131.87a1.19 1.19 0 1 0 2.38 0a1.19 1.19 0 1 0 -2.38 0M494.8 130.4a1.19 1.19 0 1 0 2.38 0a1.19 1.19 0 1 0 -2.38 0M500.23 129.2a1.19 1.19 0 1 0 2.38 0a1.19 1.19 0 1 0 -2.38 0M504.08 128.15a1.19 1.19 0 1 0 2.38 0a1.19 1.19 0 1 0 -2.38 0M507.07 127.2a1.19 1.19 0 1 0 2.38 0a1.19 1.19 0 1 0 -2.38 0M509.51 126.32a1.19 1.19 0 1 0 2.38 0a1.19 1.19 0 1 0 -2.38 0M511.57 125.49a1.19 1.19 0 1 0 2.38 0a1.19 1.19 0 1 0 -2.38 0M513.36 124.71a1.19 1.19 0 1 0 2.38 0a1.19 1.19 0 1 0 -2.38 0M514.94 123.96a1.19 1.19 0 1 0 2.38 0a1.19 1.19 0 1 0 -2.38 0M516.35 123.25a1.19 1.19 0 1 0 2.38 0a1.19 1.19 0 1 0 -2.38 0M517.63 122.56a1.19 1.19 0 1 0 2.38 0a1.19 1.19 0 1 0 -2.38 0M518.79 121.9a1.19 1.19 0 1 0 2.38 0a1.19 1.19 0 1 0 -2.38 0M519.86 121.25a1.19 1.19 0 1 0 2.38 0a1.19 1.19 0 1 0 -2.38 0M520.85 120.63a1.19 1.19 0 1 0 2.38 0a1.19 1.19 0 1 0 -2.38 0M521.78 120.02a1.19 1.19 0 1 0 2.38 0a1.19 1.19 0 1 0 -2.38 0M522.64 119.43a1.19 1.19 0 1 0 2.38 0a1.19 1.19 0 1 0 -2.38 0M523.45 118.86a1.19 1.19 0 1 0 2.38 0a1.19 1.19 0 1 0 -2.38 0M524.22 118.3a1.19 1.19 0 1 0 2.38 0a1.19 1.19 0 1 0 -2.38 0M524.94 117.75a1.19 1.19 0 1 0 2.38 0a1.19 1.19 0 1 0 -2.38 0M525.63 117.21a1.19 1.19 0 1 0 2.38 0a1.19 1.19 0 1 0 -2.38 0M526.28 116.69a1.19 1.19 0 1 0 2.38 0a1.19 1.19 0 1 0 -2.38 0M526.91 116.18a1.19 1.19 0 1 0 2.38 0a1.19 1.19 0 1 0 -2.38 0M527.5 115.67a1.19 1.19 0 1 0 2.38 0a1.19 1.19 0 1 0 -2.38 0M528.07 115.18a1.19 1.19 0 1 0 2.38 0a1.19 1.19 0 1 0 -2.38 0M528.62 114.69a1.19 1.19 0 1 0 2.38 0a1.19 1.19 0 1 0 -2.38 0M529.14 114.22a1.19 1.19 0 1 0 2.38 0a1.19 1.19 0 1 0 -2.38 0M529.65 113.75a1.19 1.19 0 1 0 2.38 0a1.19 1.19 0 1 0 -2.38 0M530.14 113.29a1.19 1.19 0 1 0 2.38 0a1.19 1.19 0 1 0 -2.38 0M530.61 112.84a1.19 1.19 0 1 0 2.38 0a1.19 1.19 0 1 0 -2.38 0M531.06 112.39a1.19 1.19 0 1 0 2.38 0a1.19 1.19 0 1 0 -2.38 0M531.5 111.96a1.19 1.19 0 1 0 2.38 0a1.19 1.19 0 1 0 -2.38 0M531.92 111.52a1.19 1.19 0 1 0 2.38 0a1.19 1.19 0 1 0 -2.38 0M532.34 111.1a1.19 1.19 0 1 0 2.38 0a1.19 1.19 0 1 0 -2.38 0M532.74 110.68a1.19 1.19 0 1 0 2.38 0a1.19 1.19 0 1 0 -2.38 0M533.12 110.27a1.19 1.19 0 1 0 2.38 0a1.19 1.19 0 1 0 -2.38 0M533.5 109.87a1.19 1.19 0 1 0 2.38 0a1.19 1.19 0 1 0 -2.38 0M533.87 109.47a1.19 1.19 0 1 0 2.38 0a1.19 1.19 0 1 0 -2.38 0M534.22 109.07a1.19 1.19 0 1 0 2.38 0a1.19 1.19 0 1 0 -2.38 0M534.57 108.69a1.19 1.19 0 1 0 2.38 0a1.19 1.19 0 1 0 -2.38 0M534.91 108.3a1.19 1.19 0 1 0 2.38 0a1.19 1.19 0 1 0 -2.38 0M535.24 107.93a1.19 1.19 0 1 0 2.38 0a1.19 1.19 0 1 0 -2.38 0M535.56 107.56a1.19 1.19 0 1 0 2.38 0a1.19 1.19 0 1 0 -2.38 0M535.88 107.19a1.19 1.19 0 1 0 2.38 0a1.19 1.19 0 1 0 -2.38 0M536.19 106.83a1.19 1.19 0 1 0 2.38 0a1.19 1.19 0 1 0 -2.38 0M536.49 106.47a1.19 1.19 0 1 0 2.38 0a1.19 1.19 0 1 0 -2.38 0M536.78 106.12a1.19 1.19 0 1 0 2.38 0a1.19 1.19 0 1 0 -2.38 0M537.07 105.77a1.19 1.19 0 1 0 2.38 0a1.19 1.19 0 1 0 -2.38 0M537.35 105.43a1.19 1.19 0 1 0 2.38 0a1.19 1.19 0 1 0 -2.38 0M537.63 105.09a1.19 1.19 0 1 0 2.38 0a1.19 1.19 0 1 0 -2.38 0M537.9 104.75a1.19 1.19 0 1 0 2.38 0a1.19 1.19 0 1 0 -2.38 0M538.16 104.42a1.19 1.19 0 1 0 2.38 0a1.19 1.19 0 1 0 -2.38 0M538.42 104.09a1.19 1.19 0 1 0 2.38 0a1.19 1.19 0 1 0 -2.38 0M538.68 103.77a1.19 1.19 0 1 0 2.38 0a1.19 1.19 0 1 0 -2.38 0M538.93 103.45a1.19 1.19 0 1 0 2.38 0a1.19 1.19 0 1 0 -2.38 0M539.18 103.14a1.19 1.19 0 1 0 2.38 0a1.19 1.19 0 1 0 -2.38 0M539.42 102.83a1.19 1.19 0 1 0 2.38 0a1.19 1.19 0 1 0 -2.38 0M539.65 102.52a1.19 1.19 0 1 0 2.38 0a1.19 1.19 0 1 0 -2.38 0M539.89 102.22a1.19 1.19 0 1 0 2.38 0a1.19 1.19 0 1 0 -2.38 0M540.12 101.92a1.19 1.19 0 1 0 2.38 0a1.19 1.19 0 1 0 -2.38 0M540.34 101.62a1.19 1.19 0 1 0 2.38 0a1.19 1.19 0 1 0 -2.38 0M540.56 101.33a1.19 1.19 0 1 0 2.38 0a1.19 1.19 0 1 0 -2.38 0M540.78 101.04a1.19 1.19 0 1 0 2.38 0a1.19 1.19 0 1 0 -2.38 0M540.99 100.76a1.19 1.19 0 1 0 2.38 0a1.19 1.19 0 1 0 -2.38 0M541.2 100.48a1.19 1.19 0 1 0 2.38 0a1.19 1.19 0 1 0 -2.38 0M541.41 100.2a1.19 1.19 0 1 0 2.38 0a1.19 1.19 0 1 0 -2.38 0M541.62 99.92a1.19 1.19 0 1 0 2.38 0a1.19 1.19 0 1 0 -2.38 0M541.95 105.38a1.19 1.19 0 1 0 2.38 0a1.19 1.19 0 1 0 -2.38 0M542.15 105.97a1.19 1.19 0 1 0 2.38 0a1.19 1.19 0 1 0 -2.38 0M542.34 106.48a1.19 1.19 0 1 0 2.38 0a1.19 1.19 0 1 0 -2.38 0M542.53 106.92a1.19 1.19 0 1 0 2.38 0a1.19 1.19 0 1 0 -2.38 0M542.72 107.32a1.19 1.19 0 1 0 2.38 0a1.19 1.19 0 1 0 -2.38 0M542.9 107.67a1.19 1.19 0 1 0 2.38 0a1.19 1.19 0 1 0 -2.38 0M543.09 107.98a1.19 1.19 0 1 0 2.38 0a1.19 1.19 0 1 0 -2.38 0M543.27 108.26a1.19 1.19 0 1 0 2.38 0a1.19 1.19 0 1 0 -2.38 0M543.45 108.51a1.19 1.19 0 1 0 2.38 0a1.19 1.19 0 1 0 -2.38 0M543.62 108.75a1.19 1.19 0 1 0 2.38 0a1.19 1.19 0 1 0 -2.38 0M543.8 108.96a1.19 1.19 0 1 0 2.38 0a1.19 1.19 0 1 0 -2.38 0M543.97 109.15a1.19 1.19 0 1 0 2.38 0a1.19 1.19 0 1 0 -2.38 0M544.14 109.33a1.19 1.19 0 1 0 2.38 0a1.19 1.19 0 1 0 -2.38 0M544.3 109.49a1.19 1.19 0 1 0 2.38 0a1.19 1.19 0 1 0 -2.38 0M544.47 109.65a1.19 1.19 0 1 0 2.38 0a1.19 1.19 0 1 0 -2.38 0M544.63 109.79a1.19 1.19 0 1 0 2.38 0a1.19 1.19 0 1 0 -2.38 0M544.79 109.92a1.19 1.19 0 1 0 2.38 0a1.19 1.19 0 1 0 -2.38 0M544.95 110.04a1.19 1.19 0 1 0 2.38 0a1.19 1.19 0 1 0 -2.38 0M545.11 110.16a1.19 1.19 0 1 0 2.38 0a1.19 1.19 0 1 0 -2.38 0M545.26 110.27a1.19 1.19 0 1 0 2.38 0a1.19 1.19 0 1 0 -2.38 0M545.42 110.37a1.19 1.19 0 1 0 2.38 0a1.19 1.19 0 1 0 -2.38 0M545.57 110.46a1.19 1.19 0 1 0 2.38 0a1.19 1.19 0 1 0 -2.38 0M545.72 110.55a1.19 1.19 0 1 0 2.38 0a1.19 1.19 0 1 0 -2.38 0M545.87 110.64a1.19 1.19 0 1 0 2.38 0a1.19 1.19 0 1 0 -2.38 0M546.01 110.72a1.19 1.19 0 1 0 2.38 0a1.19 1.19 0 1 0 -2.38 0M546.16 110.79a1.19 1.19 0 1 0 2.38 0a1.19 1.19 0 1 0 -2.38 0M546.3 110.87a1.19 1.19 0 1 0 2.38 0a1.19 1.19 0 1 0 -2.38 0M546.45 110.93a1.19 1.19 0 1 0 2.38 0a1.19 1.19 0 1 0 -2.38 0M546.59 111a1.19 1.19 0 1 0 2.38 0a1.19 1.19 0 1 0 -2.38 0M546.73 111.06a1.19 1.19 0 1 0 2.38 0a1.19 1.19 0 1 0 -2.38 0M546.86 111.12a1.19 1.19 0 1 0 2.38 0a1.19 1.19 0 1 0 -2.38 0M547 111.18a1.19 1.19 0 1 0 2.38 0a1.19 1.19 0 1 0 -2.38 0M547.13 111.23a1.19 1.19 0 1 0 2.38 0a1.19 1.19 0 1 0 -2.38 0M547.27 111.28a1.19 1.19 0 1 0 2.38 0a1.19 1.19 0 1 0 -2.38 0M547.4 111.33a1.19 1.19 0 1 0 2.38 0a1.19 1.19 0 1 0 -2.38 0M547.53 111.38a1.19 1.19 0 1 0 2.38 0a1.19 1.19 0 1 0 -2.38 0M547.66 111.43a1.19 1.19 0 1 0 2.38 0a1.19 1.19 0 1 0 -2.38 0M547.79 111.47a1.19 1.19 0 1 0 2.38 0a1.19 1.19 0 1 0 -2.38 0M547.92 111.51a1.19 1.19 0 1 0 2.38 0a1.19 1.19 0 1 0 -2.38 0M548.04 111.55a1.19 1.19 0 1 0 2.38 0a1.19 1.19 0 1 0 -2.38 0M548.17 111.59a1.19 1.19 0 1 0 2.38 0a1.19 1.19 0 1 0 -2.38 0M548.29 111.63a1.19 1.19 0 1 0 2.38 0a1.19 1.19 0 1 0 -2.38 0M548.42 111.67a1.19 1.19 0 1 0 2.38 0a1.19 1.19 0 1 0 -2.38 0M548.54 111.7a1.19 1.19 0 1 0 2.38 0a1.19 1.19 0 1 0 -2.38 0M548.66 111.73a1.19 1.19 0 1 0 2.38 0a1.19 1.19 0 1 0 -2.38 0M548.78 111.77a1.19 1.19 0 1 0 2.38 0a1.19 1.19 0 1 0 -2.38 0M548.89 111.8a1.19 1.19 0 1 0 2.38 0a1.19 1.19 0 1 0 -2.38 0M549.01 111.83a1.19 1.19 0 1 0 2.38 0a1.19 1.19 0 1 0 -2.38 0M549.13 111.86a1.19 1.19 0 1 0 2.38 0a1.19 1.19 0 1 0 -2.38 0M549.24 111.89a1.19 1.19 0 1 0 2.38 0a1.19 1.19 0 1 0 -2.38 0M549.36 111.91a1.19 1.19 0 1 0 2.38 0a1.19 1.19 0 1 0 -2.38 0M549.47 111.94a1.19 1.19 0 1 0 2.38 0a1.19 1.19 0 1 0 -2.38 0M549.58 111.96a1.19 1.19 0 1 0 2.38 0a1.19 1.19 0 1 0 -2.38 0M549.69 111.99a1.19 1.19 0 1 0 2.38 0a1.19 1.19 0 1 0 -2.38 0M549.81 112.01a1.19 1.19 0 1 0 2.38 0a1.19 1.19 0 1 0 -2.38 0M549.92 112.04a1.19 1.19 0 1 0 2.38 0a1.19 1.19 0 1 0 -2.38 0M550.02 112.06a1.19 1.19 0 1 0 2.38 0a1.19 1.19 0 1 0 -2.38 0M550.13 112.08a1.19 1.19 0 1 0 2.38 0a1.19 1.19 0 1 0 -2.38 0M550.24 112.1a1.19 1.19 0 1 0 2.38 0a1.19 1.19 0 1 0 -2.38 0M550.34 112.13a1.19 1.19 0 1 0 2.38 0a1.19 1.19 0 1 0 -2.38 0M550.45 112.15a1.19 1.19 0 1 0 2.38 0a1.19 1.19 0 1 0 -2.38 0M550.55 112.17a1.19 1.19 0 1 0 2.38 0a1.19 1.19 0 1 0 -2.38 0M550.66 112.18a1.19 1.19 0 1 0 2.38 0a1.19 1.19 0 1 0 -2.38 0M550.76 112.2a1.19 1.19 0 1 0 2.38 0a1.19 1.19 0 1 0 -2.38 0M550.86 112.22a1.19 1.19 0 1 0 2.38 0a1.19 1.19 0 1 0 -2.38 0M550.96 112.24a1.19 1.19 0 1 0 2.38 0a1.19 1.19 0 1 0 -2.38 0" stroke="#b2d414" stroke-width="0.8" fill="none"/>
<path d="M492.21 130.82h2.24v2.24h-2.24zM501.49 128.83h2.24v2.24h-2.24zM506.92 127.21h2.24v2.24h-2.24zM510.77 125.79h2.24v2.24h-2.24zM513.76 124.49h2.24v2.24h-2.24zM516.2 123.3h2.24v2.24h-2.24zM518.26 122.17h2.24v2.24h-2.24zM520.05 121.11h2.24v2.24h-2.24zM521.63 120.1h2.24v2.24h-2.24zM523.04 119.14h2.24v2.24h-2.24zM524.31 118.21h2.24v2.24h-2.24zM525.48 117.32h2.24v2.24h-2.24zM526.55 116.46h2.24v2.24h-2.24zM527.54 115.63h2.24v2.24h-2.24zM528.47 114.82h2.24v2.24h-2.24zM529.33 114.04h2.24v2.24h-2.24zM530.14 113.28h2.24v2.24h-2.24zM530.91 112.54h2.24v2.24h-2.24zM531.63 111.82h2.24v2.24h-2.24zM532.32 111.12h2.24v2.24h-2.24zM532.97 110.44h2.24v2.24h-2.24zM533.59 109.77h2.24v2.24h-2.24zM534.19 109.12h2.24v2.24h-2.24zM534.76 108.49h2.24v2.24h-2.24zM535.31 107.87h2.24v2.24h-2.24zM535.83 107.26h2.24v2.24h-2.24zM536.34 106.66h2.24v2.24h-2.24zM536.82 106.08h2.24v2.24h-2.24zM537.29 105.51h2.24v2.24h-2.24zM537.75 104.96h2.24v2.24h-2.24zM538.19 104.41h2.24v2.24h-2.24zM538.61 103.88h2.24v2.24h-2.24zM539.02 103.36h2.24v2.24h-2.24zM539.42 102.84h2.24v2.24h-2.24zM539.81 102.34h2.24v2.24h-2.24zM540.19 101.85h2.24v2.24h-2.24zM540.56 101.37h2.24v2.24h-2.24zM540.91 100.89h2.24v2.24h-2.24zM541.26 100.43h2.24v2.24h-2.24zM541.6 99.97h2.24v2.24h-2.24zM541.93 99.53h2.24v2.24h-2.24zM542.25 99.09h2.24v2.24h-2.24zM542.57 98.66h2.24v2.24h-2.24zM542.88 98.24h2.24v2.24h-2.24zM543.18 97.83h2.24v2.24h-2.24zM543.47 97.42h2.24v2.24h-2.24zM543.76 97.03h2.24v2.24h-2.24zM544.04 96.64h2.24v2.24h-2.24zM544.32 96.26h2.24v2.24h-2.24zM544.59 95.88h2.24v2.24h-2.24zM544.85 95.51h2.24v2.24h-2.24zM545.11 95.16h2.24v2.24h-2.24zM545.37 94.8h2.24v2.24h-2.24zM545.62 94.46h2.24v2.24h-2.24zM545.86 94.12h2.24v2.24h-2.24zM546.1 93.79h2.24v2.24h-2.24zM546.34 93.46h2.24v2.24h-2.24zM546.57 93.14h2.24v2.24h-2.24zM546.8 92.83h2.24v2.24h-2.24zM547.03 92.52h2.24v2.24h-2.24zM547.25 92.22h2.24v2.24h-2.24zM547.47 91.93h2.24v2.24h-2.24zM547.68 91.64h2.24v2.24h-2.24zM547.89 91.36h2.24v2.24h-2.24zM548.1 91.08h2.24v2.24h-2.24zM548.3 90.81h2.24v2.24h-2.24zM548.64 96.65h2.24v2.24h-2.24zM548.83 97.23h2.24v2.24h-2.24zM549.03 97.74h2.24v2.24h-2.24zM549.22 98.2h2.24v2.24h-2.24zM549.41 98.61h2.24v2.24h-2.24zM549.59 98.99h2.24v2.24h-2.24zM549.78 99.32h2.24v2.24h-2.24zM549.96 99.63h2.24v2.24h-2.24zM550.13 99.91h2.24v2.24h-2.24zM550.31 100.17h2.24v2.24h-2.24zM550.48 100.41h2.24v2.24h-2.24zM550.66 100.63h2.24v2.24h-2.24zM550.82 100.84h2.24v2.24h-2.24zM550.99 101.03h2.24v2.24h-2.24zM551.16 101.21h2.24v2.24h-2.24zM551.32 101.37h2.24v2.24h-2.24zM551.48 101.53h2.24v2.24h-2.24zM551.64 101.67h2.24v2.24h-2.24zM551.8 101.81h2.24v2.24h-2.24zM551.95 101.94h2.24v2.24h-2.24zM552.11 102.06h2.24v2.24h-2.24zM552.26 102.18h2.24v2.24h-2.24zM552.41 102.29h2.24v2.24h-2.24zM552.56 102.39h2.24v2.24h-2.24zM552.7 102.49h2.24v2.24h-2.24zM552.85 102.58h2.24v2.24h-2.24zM552.99 102.67h2.24v2.24h-2.24zM553.13 102.76h2.24v2.24h-2.24zM553.27 102.84h2.24v2.24h-2.24zM553.41 102.92h2.24v2.24h-2.24zM553.55 102.99h2.24v2.24h-2.24zM553.69 103.06h2.24v2.24h-2.24zM553.82 103.13h2.24v2.24h-2.24zM553.96 103.19h2.24v2.24h-2.24zM554.09 103.26h2.24v2.24h-2.24zM554.22 103.32h2.24v2.24h-2.24zM554.35 103.37h2.24v2.24h-2.24zM554.48 103.43h2.24v2.24h-2.24zM554.61 103.48h2.24v2.24h-2.24zM554.73 103.53h2.24v2.24h-2.24zM554.86 103.58h2.24v2.24h-2.24zM554.98 103.63h2.24v2.24h-2.24zM555.1 103.68h2.24v2.24h-2.24zM555.22 103.72h2.24v2.24h-2.24zM555.35 103.76h2.24v2.24h-2.24zM555.46 103.81h2.24v2.24h-2.24zM555.58 103.85h2.24v2.24h-2.24zM555.7 103.89h2.24v2.24h-2.24zM555.82 103.92h2.24v2.24h-2.24zM555.93 103.96h2.24v2.24h-2.24zM556.05 104h2.24v2.24h-2.24zM556.16 104.03h2.24v2.24h-2.24zM556.27 104.06h2.24v2.24h-2.24zM556.38 104.1h2.24v2.24h-2.24zM556.49 104.13h2.24v2.24h-2.24zM556.6 104.16h2.24v2.24h-2.24zM556.71 104.19h2.24v2.24h-2.24zM556.82 104.22h2.24v2.24h-2.24zM556.93 104.24h2.24v2.24h-2.24zM557.03 104.27h2.24v2.24h-2.24zM557.14 104.3h2.24v2.24h-2.24zM557.24 104.33h2.24v2.24h-2.24zM557.35 104.35h2.24v2.24h-2.24zM557.45 104.38h2.24v2.24h-2.24zM557.55 104.4h2.24v2.24h-2.24zM557.65 104.42h2.24v2.24h-2.24z" stroke="#e8751e" stroke-width="0.8" fill="none"/>
<path d="M496.9 130.5h0.7M506.18 128.12h0.7M511.61 126.18h0.7M515.46 124.47h0.7M518.45 122.92h0.7M520.89 121.49h0.7M522.96 120.15h0.7M524.75 118.88h0.7M526.32 117.68h0.7M527.73 116.54h0.7M529.01 115.44h0.7M530.17 114.39h0.7M531.25 113.38h0.7M532.24 112.41h0.7M533.16 111.47h0.7M534.03 110.56h0.7M534.84 109.68h0.7M535.6 108.82h0.7M536.33 108h0.7M537.01 107.19h0.7M537.67 106.41h0.7M538.29 105.66h0.7M538.89 104.92h0.7M539.46 104.2h0.7M540 103.51h0.7M540.53 102.83h0.7M541.03 102.17h0.7M541.52 101.53h0.7M541.99 100.9h0.7M542.44 100.29h0.7M542.88 99.7h0.7M543.31 99.12h0.7M543.72 98.56h0.7M544.12 98.01h0.7M544.51 97.47h0.7M544.88 96.95h0.7M545.25 96.45h0.7M545.61 95.95h0.7M545.96 95.47h0.7M546.29 95h0.7M546.63 94.55h0.7M546.95 94.1h0.7M547.26 93.67h0.7M547.57 93.25h0.7M547.87 92.84h0.7M548.17 92.44h0.7M548.45 92.06h0.7M548.74 91.68h0.7M549.01 91.31h0.7M549.28 90.96h0.7M549.55 90.61h0.7M549.81 90.28h0.7M550.06 89.96h0.7M550.31 89.64h0.7M550.56 89.34h0.7M550.8 89.04h0.7M551.04 88.75h0.7M551.27 88.48h0.7M551.5 88.21h0.7M551.72 87.95h0.7M551.94 87.7h0.7M552.16 87.46h0.7M552.38 87.23h0.7M552.59 87.01h0.7M552.8 86.79h0.7M553 86.58h0.7M553.33 92.11h0.7M553.53 92.78h0.7M553.72 93.37h0.7M553.91 93.9h0.7M554.1 94.38h0.7M554.29 94.82h0.7M554.47 95.22h0.7M554.65 95.58h0.7M554.83 95.91h0.7M555.01 96.22h0.7M555.18 96.5h0.7M555.35 96.76h0.7M555.52 97h0.7M555.69 97.23h0.7M555.85 97.44h0.7M556.01 97.64h0.7M556.18 97.83h0.7M556.33 98h0.7M556.49 98.17h0.7M556.65 98.32h0.7M556.8 98.47h0.7M556.95 98.61h0.7M557.1 98.74h0.7M557.25 98.86h0.7M557.4 98.98h0.7M557.54 99.1h0.7M557.69 99.2h0.7M557.83 99.31h0.7M557.97 99.4h0.7M558.11 99.5h0.7M558.25 99.59h0.7M558.38 99.67h0.7M558.52 99.75h0.7M558.65 99.83h0.7M558.78 99.91h0.7M558.92 99.98h0.7M559.05 100.05h0.7M559.17 100.12h0.7M559.3 100.18h0.7M559.43 100.25h0.7M559.55 100.31h0.7M559.68 100.36h0.7M559.8 100.42h0.7M559.92 100.48h0.7M560.04 100.53h0.7M560.16 100.58h0.7M560.28 100.63h0.7M560.4 100.68h0.7M560.51 100.72h0.7M560.63 100.77h0.7M560.74 100.81h0.7M560.85 100.85h0.7M560.97 100.89h0.7M561.08 100.93h0.7M561.19 100.97h0.7M561.3 101.01h0.7M561.41 101.04h0.7M561.52 101.08h0.7M561.62 101.11h0.7M561.73 101.15h0.7M561.83 101.18h0.7M561.94 101.21h0.7M562.04 101.24h0.7M562.14 101.27h0.7M562.25 101.3h0.7M562.35 101.33h0.7" stroke="#e8141a" stroke-width="2.38" stroke-linecap="round" fill="none"/>
</g>
<rect x="471.5" y="81.2" width="93" height="57" fill="none" stroke="#111" stroke-width="0.9"/>
<path d="M472 138.2v-1.5 M472 81.2v1.5M502.83 138.2v-1.5 M502.83 81.2v1.5M533.66 138.2v-1.5 M533.66 81.2v1.5M564.49 138.2v-1.5 M564.49 81.2v1.5" stroke="#111" stroke-width="0.7"/>
<path d="M471.5 136.5h1.5 M564.5 136.5h-1.5M471.5 127.73h1.5 M564.5 127.73h-1.5M471.5 118.96h1.5 M564.5 118.96h-1.5M471.5 110.19h1.5 M564.5 110.19h-1.5M471.5 101.42h1.5 M564.5 101.42h-1.5M471.5 92.65h1.5 M564.5 92.65h-1.5M471.5 83.88h1.5 M564.5 83.88h-1.5" stroke="#111" stroke-width="0.7"/>
<text x="469" y="138.4" font-size="5.4" text-anchor="end" font-weight="normal" font-family="Liberation Serif" fill="#222" >0</text>
<text x="469" y="129.63" font-size="5.4" text-anchor="end" font-weight="normal" font-family="Liberation Serif" fill="#222" >0.01</text>
<text x="469" y="120.86" font-size="5.4" text-anchor="end" font-weight="normal" font-family="Liberation Serif" fill="#222" >0.02</text>
<text x="469" y="112.09" font-size="5.4" text-anchor="end" font-weight="normal" font-family="Liberation Serif" fill="#222" >0.03</text>
<text x="469" y="103.32" font-size="5.4" text-anchor="end" font-weight="normal" font-family="Liberation Serif" fill="#222" >0.04</text>
<text x="469" y="94.55" font-size="5.4" text-anchor="end" font-weight="normal" font-family="Liberation Serif" fill="#222" >0.05</text>
<text x="469" y="85.78" font-size="5.4" text-anchor="end" font-weight="normal" font-family="Liberation Serif" fill="#222" >0.06</text>
<text x="467.4" y="145.8" font-size="6" font-family="Liberation Serif" fill="#333">10<tspan font-size="4.4" dy="-2.8">&#8722;2</tspan></text>
<text x="498.23" y="145.8" font-size="6" font-family="Liberation Serif" fill="#333">10<tspan font-size="4.4" dy="-2.8">&#8722;1</tspan></text>
<text x="529.06" y="145.8" font-size="6" font-family="Liberation Serif" fill="#333">10<tspan font-size="4.4" dy="-2.8">0</tspan></text>
<text x="559.89" y="145.8" font-size="6" font-family="Liberation Serif" fill="#333">10<tspan font-size="4.4" dy="-2.8">1</tspan></text>
<text x="509" y="146.2" font-size="6.2" font-weight="bold" font-family="Liberation Serif" fill="#111" textLength="21.4" lengthAdjust="spacingAndGlyphs">t / a<tspan font-size="4.6" dy="1.8">T</tspan><tspan dy="-1.8">[s]</tspan></text>
<text transform="translate(456.6,111.3) rotate(-90)" font-size="6" text-anchor="middle" font-weight="bold" font-family="Liberation Serif" fill="#111" textLength="67" lengthAdjust="spacingAndGlyphs">J(t) =&#949;(t) / &#963;<tspan font-size="4" dy="1.5">0</tspan><tspan dy="-1.5"> [arb. units]</tspan></text>
<path d="M85 212.0H175.2" stroke="#2848e0" stroke-width="2.2"/>
<path d="M85 203.3H175.2" stroke="#52eab4" stroke-width="2.2"/>
<path d="M85 195.5H175.2" stroke="#b2d414" stroke-width="2.2"/>
<path d="M85 186.5H175.2" stroke="#e8751e" stroke-width="2.2"/>
<path d="M39.9 231H85V181H175.2V231H265.4" stroke="#e8141a" stroke-width="2.3" fill="none"/>
<path d="M270.2 176.4V176.4H35.5V235.3H270.2" fill="none" stroke="#111" stroke-width="1.2"/>
<path d="M270.2 176.4V235.3" fill="none" stroke="#666" stroke-width="1.3"/>
<path d="M39.9 235.3v-2.2 M39.9 176.4v2.2M85 235.3v-2.2 M85 176.4v2.2M130.1 235.3v-2.2 M130.1 176.4v2.2M175.2 235.3v-2.2 M175.2 176.4v2.2M220.3 235.3v-2.2 M220.3 176.4v2.2M265.4 235.3v-2.2 M265.4 176.4v2.2" stroke="#111" stroke-width="1"/>
<path d="M35.5 181h2.2 M270.2 181h-2.2M35.5 186.5h2.2 M270.2 186.5h-2.2M35.5 195.5h2.2 M270.2 195.5h-2.2M35.5 203.3h2.2 M270.2 203.3h-2.2M35.5 212h2.2 M270.2 212h-2.2M35.5 231h2.2 M270.2 231h-2.2" stroke="#111" stroke-width="1"/>
<text x="37.9" y="243.8" font-size="7.8" text-anchor="middle" font-weight="normal" font-family="Liberation Serif" fill="#222" >&#8722;1</text>
<text x="85" y="243.8" font-size="7.8" text-anchor="middle" font-weight="normal" font-family="Liberation Serif" fill="#222" >0</text>
<text x="130.1" y="243.8" font-size="7.8" text-anchor="middle" font-weight="normal" font-family="Liberation Serif" fill="#222" >1</text>
<text x="175.2" y="243.8" font-size="7.8" text-anchor="middle" font-weight="normal" font-family="Liberation Serif" fill="#222" >2</text>
<text x="220.3" y="243.8" font-size="7.8" text-anchor="middle" font-weight="normal" font-family="Liberation Serif" fill="#222" >3</text>
<text x="265.4" y="243.8" font-size="7.8" text-anchor="middle" font-weight="normal" font-family="Liberation Serif" fill="#222" >4</text>
<text x="34" y="183.6" font-size="7.4" text-anchor="end" font-weight="normal" font-family="Liberation Serif" fill="#222" >1.2</text>
<text x="34" y="189.1" font-size="7.4" text-anchor="end" font-weight="normal" font-family="Liberation Serif" fill="#222" >1.1</text>
<text x="34" y="198.1" font-size="7.4" text-anchor="end" font-weight="normal" font-family="Liberation Serif" fill="#222" >0.9</text>
<text x="34" y="205.9" font-size="7.4" text-anchor="end" font-weight="normal" font-family="Liberation Serif" fill="#222" >0.7</text>
<text x="34" y="214.6" font-size="7.4" text-anchor="end" font-weight="normal" font-family="Liberation Serif" fill="#222" >0.5</text>
<text x="34" y="233.6" font-size="7.4" text-anchor="end" font-weight="normal" font-family="Liberation Serif" fill="#222" >0.1</text>
<text x="271.6" y="183.6" font-size="7.6" text-anchor="start" font-weight="normal" font-family="Liberation Serif" fill="#222" >31.2</text>
<text x="271.6" y="189.1" font-size="7.6" text-anchor="start" font-weight="normal" font-family="Liberation Serif" fill="#222" >28.6</text>
<text x="271.6" y="198.1" font-size="7.6" text-anchor="start" font-weight="normal" font-family="Liberation Serif" fill="#222" >23.4</text>
<text x="271.6" y="205.9" font-size="7.6" text-anchor="start" font-weight="normal" font-family="Liberation Serif" fill="#222" >18.2</text>
<text x="271.6" y="214.6" font-size="7.6" text-anchor="start" font-weight="normal" font-family="Liberation Serif" fill="#222" >13</text>
<text x="271.6" y="233.6" font-size="7.6" text-anchor="start" font-weight="normal" font-family="Liberation Serif" fill="#222" >2.6</text>
<text x="152.6" y="252.2" font-size="9.6" text-anchor="middle" font-weight="bold" font-family="Liberation Serif" fill="#111" >t [s]</text>
<text x="264.8" y="189.4" font-size="11.2" text-anchor="end" font-weight="bold" font-family="Liberation Serif" fill="#111" >C</text>
<text transform="translate(15.2,204.1) rotate(-90)" font-size="10.6" text-anchor="middle" font-weight="bold" font-family="Liberation Serif" fill="#111" textLength="47.5" lengthAdjust="spacingAndGlyphs">P<tspan font-size="7.6" font-weight="normal" dy="2.8">stretch</tspan><tspan dy="-2.8"> [W]</tspan></text>
<text transform="translate(295.6,205.6) rotate(-90)" font-size="9.4" text-anchor="middle" font-weight="bold" font-family="Liberation Serif" fill="#111">&#916; T [&#176;C]</text>
<clipPath id="cD"><rect x="335.9" y="177.5" width="234.5" height="58.9"/></clipPath>
<g clip-path="url(#cD)">
<path d="M335.9 177.8L570.4 236.3" stroke="#777" stroke-width="1" stroke-dasharray="2.8 3"/>
<path d="M350.96 182.71h8.2M355.06 178.61v8.2" stroke="#e8141a" stroke-width="1.9"/>
<path d="M392.12 191.04h8.2M396.22 186.94v8.2" stroke="#e8751e" stroke-width="1.9"/>
<path d="M442.59 204.9h8.2M446.69 200.8v8.2" stroke="#b2d414" stroke-width="1.9"/>
<path d="M490.81 218.59h8.2M494.91 214.49v8.2" stroke="#52eab4" stroke-width="1.9"/>
<path d="M547.94 231.79h8.2M552.04 227.69v8.2" stroke="#2848e0" stroke-width="1.9"/>
</g>
<rect x="335.9" y="177.5" width="234.5" height="58.9" fill="none" stroke="#111" stroke-width="1.2"/>
<path d="M348.2 236.4v-2.2 M348.2 177.5v2.2M397.2 236.4v-2.2 M397.2 177.5v2.2M446.2 236.4v-2.2 M446.2 177.5v2.2M495.2 236.4v-2.2 M495.2 177.5v2.2M544.2 236.4v-2.2 M544.2 177.5v2.2" stroke="#111" stroke-width="1"/>
<path d="M335.9 179.27h2.2 M570.4 179.27h-2.2M335.9 190.75h2.2 M570.4 190.75h-2.2M335.9 205.1h2.2 M570.4 205.1h-2.2M335.9 216.58h2.2 M570.4 216.58h-2.2M335.9 230.93h2.2 M570.4 230.93h-2.2" stroke="#111" stroke-width="1"/>
<text x="345.9" y="245.2" font-size="7.4" text-anchor="middle" font-weight="normal" font-family="Liberation Serif" fill="#111" stroke="#111" stroke-width="0.15">&#8722;1</text>
<text x="394.9" y="245.2" font-size="7.4" text-anchor="middle" font-weight="normal" font-family="Liberation Serif" fill="#111" stroke="#111" stroke-width="0.15">&#8722;0.5</text>
<text x="446.2" y="245.2" font-size="7.4" text-anchor="middle" font-weight="normal" font-family="Liberation Serif" fill="#111" stroke="#111" stroke-width="0.15">0</text>
<text x="495.2" y="245.2" font-size="7.4" text-anchor="middle" font-weight="normal" font-family="Liberation Serif" fill="#111" stroke="#111" stroke-width="0.15">0.5</text>
<text x="544.2" y="245.2" font-size="7.4" text-anchor="middle" font-weight="normal" font-family="Liberation Serif" fill="#111" stroke="#111" stroke-width="0.15">1</text>
<text x="334.3" y="182.47" font-size="7.6" text-anchor="end" font-weight="normal" font-family="Liberation Serif" fill="#222" >0.9</text>
<text x="334.3" y="193.95" font-size="7.6" text-anchor="end" font-weight="normal" font-family="Liberation Serif" fill="#222" >0.5</text>
<text x="334.3" y="208.3" font-size="7.6" text-anchor="end" font-weight="normal" font-family="Liberation Serif" fill="#222" >0</text>
<text x="334.3" y="219.78" font-size="7.6" text-anchor="end" font-weight="normal" font-family="Liberation Serif" fill="#222" >&#8722;0.4</text>
<text x="334.3" y="234.13" font-size="7.6" text-anchor="end" font-weight="normal" font-family="Liberation Serif" fill="#222" >&#8722;0.9</text>
<text x="551.6" y="251.4" font-size="7.6" font-family="Liberation Serif" fill="#222">x 10<tspan font-size="5.8" dy="-4.4">&#8722;4</tspan></text>
<text x="415.3" y="254.2" font-size="9.4" font-family="Liberation Sans" fill="#111" stroke="#111" stroke-width="0.18" textLength="78.2" lengthAdjust="spacingAndGlyphs">1/T<tspan font-size="6.8" dy="3.2">eff</tspan><tspan dy="-3.2"> &#8722;1/T</tspan><tspan font-size="6.8" dy="3.2">ref</tspan><tspan dy="-3.2" font-family="Liberation Serif" font-weight="bold" stroke-width="0"> &#160;[1/K]</tspan></text>
<text x="565.1" y="189" font-size="11.0" text-anchor="end" font-weight="bold" font-family="Liberation Serif" fill="#111" >D</text>
<text transform="translate(317.6,207) rotate(-90)" font-size="9.4" text-anchor="middle" font-weight="bold" font-family="Liberation Serif" fill="#111">-log(a<tspan font-size="7" dy="2.6">T</tspan><tspan dy="-2.6">)</tspan></text>
</svg>
</body></html>
